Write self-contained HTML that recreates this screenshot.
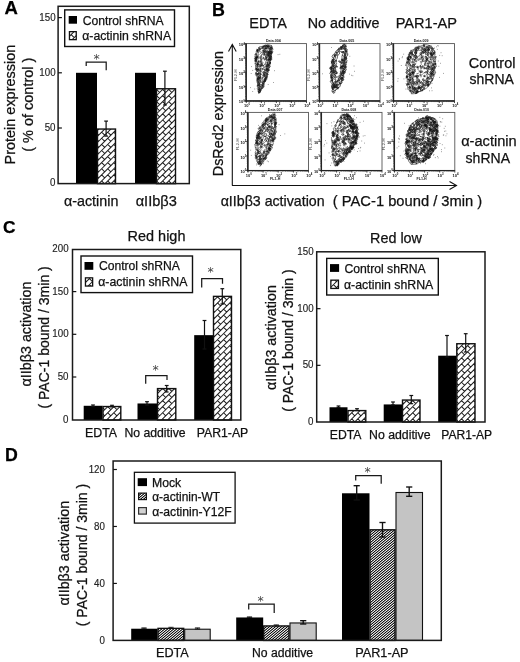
<!DOCTYPE html>
<html lang="en"><head><meta charset="utf-8"><title>Figure</title>
<style>
html,body{margin:0;padding:0;background:#fff;}
body{width:520px;height:662px;overflow:hidden;}
svg{display:block;font-family:"Liberation Sans",sans-serif;}
</style></head><body>
<svg width="520" height="662" viewBox="0 0 520 662">
<defs>
<pattern id="hatch" width="3" height="5" patternUnits="userSpaceOnUse" shape-rendering="crispEdges"><rect x="0" y="0" width="1" height="1" fill="rgb(46,46,46)"/><rect x="1" y="0" width="1" height="1" fill="rgb(90,90,90)"/><rect x="2" y="0" width="1" height="1" fill="rgb(246,246,246)"/><rect x="0" y="1" width="1" height="1" fill="rgb(140,140,140)"/><rect x="1" y="1" width="1" height="1" fill="rgb(225,225,225)"/><rect x="2" y="1" width="1" height="1" fill="rgb(17,17,17)"/><rect x="0" y="2" width="1" height="1" fill="rgb(188,188,188)"/><rect x="1" y="2" width="1" height="1" fill="rgb(6,6,6)"/><rect x="2" y="2" width="1" height="1" fill="rgb(188,188,188)"/><rect x="0" y="3" width="1" height="1" fill="rgb(17,17,17)"/><rect x="1" y="3" width="1" height="1" fill="rgb(225,225,225)"/><rect x="2" y="3" width="1" height="1" fill="rgb(140,140,140)"/><rect x="0" y="4" width="1" height="1" fill="rgb(246,246,246)"/><rect x="1" y="4" width="1" height="1" fill="rgb(90,90,90)"/><rect x="2" y="4" width="1" height="1" fill="rgb(46,46,46)"/></pattern>
<filter id="soft" x="-5%" y="-5%" width="110%" height="110%"><feGaussianBlur stdDeviation="0.35"/></filter>
</defs>
<rect width="520" height="662" fill="#fff"/>

<text x="4.44" y="14.40" font-size="18.51" font-weight="bold" fill="#000" stroke="#000" stroke-width="0.25">A</text>
<text x="211.94" y="15.60" font-size="17.87" font-weight="bold" fill="#000" stroke="#000" stroke-width="0.25">B</text>
<text x="3.06" y="233.40" font-size="17.33" font-weight="bold" fill="#000" stroke="#000" stroke-width="0.25">C</text>
<text x="4.95" y="460.60" font-size="17.72" font-weight="bold" fill="#000" stroke="#000" stroke-width="0.25">D</text>
<rect x="76.00" y="72.80" width="21.00" height="110.80" fill="#000"/>
<clipPath id="c1"><rect x="97.50" y="129.05" width="18.00" height="54.55"/></clipPath>
<path d="M96.50 131.20L99.65 128.05M96.50 137.30L105.75 128.05M96.50 143.40L111.85 128.05M96.50 149.50L116.50 129.50M96.50 155.60L116.50 135.60M96.50 161.70L116.50 141.70M96.50 167.80L116.50 147.80M96.50 173.90L116.50 153.90M96.50 180.00L116.50 160.00M98.00 184.60L116.50 166.10M104.10 184.60L116.50 172.20M110.20 184.60L116.50 178.30M116.30 184.60L116.50 184.40M95.55 126.05l3.05 3.05M95.55 132.15l3.05 3.05M95.55 138.25l3.05 3.05M95.55 144.35l3.05 3.05M95.55 150.45l3.05 3.05M95.55 156.55l3.05 3.05M95.55 162.65l3.05 3.05M95.55 168.75l3.05 3.05M95.55 174.85l3.05 3.05M95.55 180.95l3.05 3.05M101.65 126.05l3.05 3.05M101.65 132.15l3.05 3.05M101.65 138.25l3.05 3.05M101.65 144.35l3.05 3.05M101.65 150.45l3.05 3.05M101.65 156.55l3.05 3.05M101.65 162.65l3.05 3.05M101.65 168.75l3.05 3.05M101.65 174.85l3.05 3.05M101.65 180.95l3.05 3.05M107.75 126.05l3.05 3.05M107.75 132.15l3.05 3.05M107.75 138.25l3.05 3.05M107.75 144.35l3.05 3.05M107.75 150.45l3.05 3.05M107.75 156.55l3.05 3.05M107.75 162.65l3.05 3.05M107.75 168.75l3.05 3.05M107.75 174.85l3.05 3.05M107.75 180.95l3.05 3.05M113.85 126.05l3.05 3.05M113.85 132.15l3.05 3.05M113.85 138.25l3.05 3.05M113.85 144.35l3.05 3.05M113.85 150.45l3.05 3.05M113.85 156.55l3.05 3.05M113.85 162.65l3.05 3.05M113.85 168.75l3.05 3.05M113.85 174.85l3.05 3.05M113.85 180.95l3.05 3.05" clip-path="url(#c1)" fill="none" stroke="#1c1c1c" stroke-width="1.02"/>
<rect x="97.50" y="129.05" width="18.00" height="54.55" fill="none" stroke="#111" stroke-width="1.4"/>
<rect x="135.00" y="72.80" width="21.00" height="110.80" fill="#000"/>
<clipPath id="c2"><rect x="156.50" y="88.76" width="19.00" height="94.84"/></clipPath>
<path d="M155.50 90.50L158.24 87.76M155.50 96.60L164.34 87.76M155.50 102.70L170.44 87.76M155.50 108.80L176.50 87.80M155.50 114.90L176.50 93.90M155.50 121.00L176.50 100.00M155.50 127.10L176.50 106.10M155.50 133.20L176.50 112.20M155.50 139.30L176.50 118.30M155.50 145.40L176.50 124.40M155.50 151.50L176.50 130.50M155.50 157.60L176.50 136.60M155.50 163.70L176.50 142.70M155.50 169.80L176.50 148.80M155.50 175.90L176.50 154.90M155.50 182.00L176.50 161.00M159.00 184.60L176.50 167.10M165.10 184.60L176.50 173.20M171.20 184.60L176.50 179.30M156.55 89.45l3.05 3.05M156.55 95.55l3.05 3.05M156.55 101.65l3.05 3.05M156.55 107.75l3.05 3.05M156.55 113.85l3.05 3.05M156.55 119.95l3.05 3.05M156.55 126.05l3.05 3.05M156.55 132.15l3.05 3.05M156.55 138.25l3.05 3.05M156.55 144.35l3.05 3.05M156.55 150.45l3.05 3.05M156.55 156.55l3.05 3.05M156.55 162.65l3.05 3.05M156.55 168.75l3.05 3.05M156.55 174.85l3.05 3.05M156.55 180.95l3.05 3.05M162.65 89.45l3.05 3.05M162.65 95.55l3.05 3.05M162.65 101.65l3.05 3.05M162.65 107.75l3.05 3.05M162.65 113.85l3.05 3.05M162.65 119.95l3.05 3.05M162.65 126.05l3.05 3.05M162.65 132.15l3.05 3.05M162.65 138.25l3.05 3.05M162.65 144.35l3.05 3.05M162.65 150.45l3.05 3.05M162.65 156.55l3.05 3.05M162.65 162.65l3.05 3.05M162.65 168.75l3.05 3.05M162.65 174.85l3.05 3.05M162.65 180.95l3.05 3.05M168.75 89.45l3.05 3.05M168.75 95.55l3.05 3.05M168.75 101.65l3.05 3.05M168.75 107.75l3.05 3.05M168.75 113.85l3.05 3.05M168.75 119.95l3.05 3.05M168.75 126.05l3.05 3.05M168.75 132.15l3.05 3.05M168.75 138.25l3.05 3.05M168.75 144.35l3.05 3.05M168.75 150.45l3.05 3.05M168.75 156.55l3.05 3.05M168.75 162.65l3.05 3.05M168.75 168.75l3.05 3.05M168.75 174.85l3.05 3.05M168.75 180.95l3.05 3.05M174.85 89.45l3.05 3.05M174.85 95.55l3.05 3.05M174.85 101.65l3.05 3.05M174.85 107.75l3.05 3.05M174.85 113.85l3.05 3.05M174.85 119.95l3.05 3.05M174.85 126.05l3.05 3.05M174.85 132.15l3.05 3.05M174.85 138.25l3.05 3.05M174.85 144.35l3.05 3.05M174.85 150.45l3.05 3.05M174.85 156.55l3.05 3.05M174.85 162.65l3.05 3.05M174.85 168.75l3.05 3.05M174.85 174.85l3.05 3.05M174.85 180.95l3.05 3.05" clip-path="url(#c2)" fill="none" stroke="#1c1c1c" stroke-width="1.02"/>
<rect x="156.50" y="88.76" width="19.00" height="94.84" fill="none" stroke="#111" stroke-width="1.4"/>
<line x1="106.1" y1="121.1" x2="106.1" y2="136.1" stroke="#111" stroke-width="1.2" stroke-linecap="butt"/>
<line x1="104.19999999999999" y1="121.1" x2="108.0" y2="121.1" stroke="#111" stroke-width="1.2" stroke-linecap="butt"/>
<line x1="104.19999999999999" y1="136.1" x2="108.0" y2="136.1" stroke="#111" stroke-width="1.2" stroke-linecap="butt"/>
<line x1="164.9" y1="71.2" x2="164.9" y2="105" stroke="#111" stroke-width="1.2" stroke-linecap="butt"/>
<line x1="163.0" y1="71.2" x2="166.8" y2="71.2" stroke="#111" stroke-width="1.2" stroke-linecap="butt"/>
<line x1="163.0" y1="105" x2="166.8" y2="105" stroke="#111" stroke-width="1.2" stroke-linecap="butt"/>
<rect x="58.10" y="6.30" width="131.20" height="177.30" fill="none" stroke="#1a1a1a" stroke-width="1.5"/>
<line x1="58.1" y1="127.99999999999999" x2="61.9" y2="127.99999999999999" stroke="#111" stroke-width="1.2" stroke-linecap="butt"/>
<line x1="58.1" y1="72.79999999999998" x2="61.9" y2="72.79999999999998" stroke="#111" stroke-width="1.2" stroke-linecap="butt"/>
<line x1="58.1" y1="17.599999999999966" x2="61.9" y2="17.599999999999966" stroke="#111" stroke-width="1.2" stroke-linecap="butt"/>
<text transform="translate(50.12 186.36) scale(0.93 1)" font-size="10.5" fill="#222" stroke="#222" stroke-width="0.15">0</text>
<text transform="translate(44.70 131.16) scale(0.93 1)" font-size="10.5" fill="#222" stroke="#222" stroke-width="0.15">50</text>
<text transform="translate(39.28 75.96) scale(0.93 1)" font-size="10.5" fill="#222" stroke="#222" stroke-width="0.15">100</text>
<text transform="translate(39.28 20.76) scale(0.93 1)" font-size="10.5" fill="#222" stroke="#222" stroke-width="0.15">150</text>
<rect x="64.70" y="9.90" width="109.80" height="36.60" fill="#fff" stroke="#111" stroke-width="1.4"/>
<rect x="68.70" y="16.00" width="8.30" height="7.70" fill="#000" stroke="none" stroke-width="1"/>
<clipPath id="c3"><rect x="69.45" y="31.65" width="6.80" height="8.00"/></clipPath>
<path d="M68.45 31.15L68.95 30.65M68.45 37.25L75.05 30.65M71.15 40.65L77.25 34.55M71.15 28.45l3.05 3.05M71.15 34.55l3.05 3.05M71.15 40.65l3.05 3.05M77.25 28.45l3.05 3.05M77.25 34.55l3.05 3.05M77.25 40.65l3.05 3.05" clip-path="url(#c3)" fill="none" stroke="#1c1c1c" stroke-width="1.02"/>
<rect x="69.45" y="31.65" width="6.80" height="8.00" fill="none" stroke="#111" stroke-width="1.3"/>
<text x="82.64" y="24.50" font-size="12.17" fill="#111" stroke="#111" stroke-width="0.25">Control shRNA</text>
<text x="82.21" y="40.00" font-size="12.28" fill="#111" stroke="#111" stroke-width="0.25">α-actinin shRNA</text>
<path d="M86.2 66V62.2H106.2V70.2" fill="none" stroke="#1a1a1a" stroke-width="1.25"/>
<text x="96.5" y="63.2" font-size="12.5" text-anchor="middle" fill="#444" font-family="DejaVu Sans, sans-serif">*</text>
<text x="63.93" y="205.75" font-size="14.34" fill="#111" stroke="#111" stroke-width="0.25">α-actinin</text>
<text x="135.67" y="205.75" font-size="14.60" fill="#111" stroke="#111" stroke-width="0.25">αIIbβ3</text>
<text transform="translate(15.00 164.46) rotate(-90)" font-size="14.46" fill="#111" stroke="#111" stroke-width="0.25">Protein expression</text>
<text transform="translate(33.40 151.87) rotate(-90)" font-size="14.50" fill="#111" stroke="#111" stroke-width="0.25">( % of control )</text>
<text x="249.34" y="28.40" font-size="14.46" fill="#111" stroke="#111" stroke-width="0.25">EDTA</text>
<text x="307.75" y="28.40" font-size="14.32" fill="#111" stroke="#111" stroke-width="0.25">No additive</text>
<text x="395.63" y="28.40" font-size="14.58" fill="#111" stroke="#111" stroke-width="0.25">PAR1-AP</text>
<text x="468.78" y="67.50" font-size="14.49" fill="#111" stroke="#111" stroke-width="0.25">Control</text>
<text x="469.58" y="84.25" font-size="13.97" fill="#111" stroke="#111" stroke-width="0.25">shRNA</text>
<text x="461.17" y="146.00" font-size="14.61" fill="#111" stroke="#111" stroke-width="0.25">α-actinin</text>
<text x="465.58" y="162.50" font-size="14.04" fill="#111" stroke="#111" stroke-width="0.25">shRNA</text>
<text transform="translate(223.30 176.15) rotate(-90)" font-size="14.34" fill="#111" stroke="#111" stroke-width="0.25">DsRed2 expression</text>
<text x="220.68" y="205.75" font-size="14.20" fill="#111" stroke="#111" stroke-width="0.25">αIIbβ3 activation</text>
<text x="332.82" y="205.75" font-size="14.73" fill="#111" stroke="#111" stroke-width="0.25">( PAC-1 bound / 3min )</text>
<path d="M232.3 185.5V45M228.5 51.5L232.3 44.5L236.2 51.5" fill="none" stroke="#111" stroke-width="1.1"/>
<path d="M232 185.5H456M449.5 181.5L456.5 185.5L449.5 189.5" fill="none" stroke="#111" stroke-width="1.1"/>
<g>
<rect x="246.30" y="43.60" width="60.20" height="57.20" fill="none" stroke="#555" stroke-width="0.9"/>
<line x1="246.10000000000002" y1="43.6" x2="246.10000000000002" y2="101.8" stroke="#222" stroke-width="1.5" stroke-linecap="butt"/>
<line x1="245.3" y1="101.0" x2="306.5" y2="101.0" stroke="#222" stroke-width="1.4" stroke-linecap="butt"/>
<path d="M246.3 100.8v2.2M246.3 100.8h-2.2M261.4 100.8v2.2M246.3 86.5h-2.2M276.4 100.8v2.2M246.3 72.2h-2.2M291.4 100.8v2.2M246.3 57.9h-2.2M306.5 100.8v2.2M246.3 43.6h-2.2" stroke="#222" stroke-width="0.8" fill="none"/>
<path d="M250.8 100.8v1.3M246.3 96.5h-1.3M253.5 100.8v1.3M246.3 93.9h-1.3M255.3 100.8v1.3M246.3 92.2h-1.3M256.8 100.8v1.3M246.3 90.8h-1.3M258.0 100.8v1.3M246.3 89.6h-1.3M259.1 100.8v1.3M246.3 88.6h-1.3M259.8 100.8v1.3M246.3 87.9h-1.3M260.6 100.8v1.3M246.3 87.2h-1.3M265.9 100.8v1.3M246.3 82.2h-1.3M268.6 100.8v1.3M246.3 79.6h-1.3M270.4 100.8v1.3M246.3 77.9h-1.3M271.9 100.8v1.3M246.3 76.5h-1.3M273.1 100.8v1.3M246.3 75.3h-1.3M274.1 100.8v1.3M246.3 74.3h-1.3M274.9 100.8v1.3M246.3 73.6h-1.3M275.6 100.8v1.3M246.3 72.9h-1.3M280.9 100.8v1.3M246.3 67.9h-1.3M283.6 100.8v1.3M246.3 65.3h-1.3M285.4 100.8v1.3M246.3 63.6h-1.3M286.9 100.8v1.3M246.3 62.2h-1.3M288.1 100.8v1.3M246.3 61.0h-1.3M289.2 100.8v1.3M246.3 60.0h-1.3M289.9 100.8v1.3M246.3 59.3h-1.3M290.7 100.8v1.3M246.3 58.6h-1.3M296.0 100.8v1.3M246.3 53.6h-1.3M298.7 100.8v1.3M246.3 51.0h-1.3M300.5 100.8v1.3M246.3 49.3h-1.3M302.0 100.8v1.3M246.3 47.9h-1.3M303.2 100.8v1.3M246.3 46.7h-1.3M304.2 100.8v1.3M246.3 45.7h-1.3M305.0 100.8v1.3M246.3 45.0h-1.3M305.7 100.8v1.3M246.3 44.3h-1.3" stroke="#333" stroke-width="0.5" fill="none"/>
<text x="273.4" y="42.3" font-size="3.6" text-anchor="middle" fill="#222" font-weight="bold">Data.004</text>
<text transform="translate(237.1 75.2) rotate(-90)" font-size="4.2" text-anchor="middle" fill="#444">FL2-H</text>
<text x="244.1" y="107.0" font-size="4" fill="#111" font-weight="bold">10<tspan dy="-1.6" font-size="2.8">0</tspan></text>
<text x="238.7" y="103.4" font-size="4" fill="#111" font-weight="bold">10<tspan dy="-1.6" font-size="2.8">0</tspan></text>
<text x="259.2" y="107.0" font-size="4" fill="#111" font-weight="bold">10<tspan dy="-1.6" font-size="2.8">1</tspan></text>
<text x="238.7" y="89.1" font-size="4" fill="#111" font-weight="bold">10<tspan dy="-1.6" font-size="2.8">1</tspan></text>
<text x="274.2" y="107.0" font-size="4" fill="#111" font-weight="bold">10<tspan dy="-1.6" font-size="2.8">2</tspan></text>
<text x="238.7" y="74.8" font-size="4" fill="#111" font-weight="bold">10<tspan dy="-1.6" font-size="2.8">2</tspan></text>
<text x="289.2" y="107.0" font-size="4" fill="#111" font-weight="bold">10<tspan dy="-1.6" font-size="2.8">3</tspan></text>
<text x="238.7" y="60.5" font-size="4" fill="#111" font-weight="bold">10<tspan dy="-1.6" font-size="2.8">3</tspan></text>
<text x="304.3" y="107.0" font-size="4" fill="#111" font-weight="bold">10<tspan dy="-1.6" font-size="2.8">4</tspan></text>
<text x="238.7" y="46.2" font-size="4" fill="#111" font-weight="bold">10<tspan dy="-1.6" font-size="2.8">4</tspan></text>
<g filter="url(#soft)"><path d="M260.9 64.1L261.6 63.4L261.6 64.6L261.6 65.5L260.8 65.6L260.6 64.7ZM267.6 53.1L268.2 53.9L267.6 54.4L267.0 53.9ZM256.5 60.0L255.9 60.9L255.0 60.5L255.1 59.3L256.0 59.1ZM265.9 77.4L266.4 77.4L266.5 78.2L266.1 78.7L265.4 78.5L265.5 77.7ZM261.3 74.3L261.1 75.1L260.3 75.3L260.3 74.0ZM266.9 55.5L267.6 54.4L268.6 54.8L268.4 55.9L267.6 56.8ZM263.2 65.2L264.0 65.5L264.1 66.5L263.9 67.7L263.2 66.9L262.9 66.3ZM260.4 69.4L261.0 70.3L260.2 71.3L259.6 70.0ZM267.7 45.7L268.2 46.0L268.3 46.7L267.8 47.2L267.4 46.7L267.2 46.1ZM260.3 85.8L259.3 85.3L260.1 84.4L261.2 84.7ZM259.0 65.5L259.4 65.6L259.9 66.0L259.6 66.8L258.9 66.8L258.9 66.0ZM257.7 64.5L257.0 64.5L257.2 63.7L257.7 63.2L258.3 63.6L258.2 64.5ZM272.3 48.3L272.1 49.4L271.5 50.3L270.8 49.4L271.2 48.0ZM266.9 72.4L266.3 71.3L267.6 70.3L267.6 72.0ZM266.5 46.6L265.8 46.4L266.1 45.5L266.9 45.1L267.3 46.2ZM262.5 64.5L263.2 65.1L263.3 66.0L262.6 65.7ZM267.0 54.7L267.2 53.4L268.6 53.3L268.6 55.0L267.6 56.1ZM258.7 64.4L258.7 65.4L258.4 66.5L257.5 65.9L257.1 64.7L257.9 63.8ZM265.4 52.8L264.8 52.9L264.8 52.0L265.4 52.2ZM260.4 86.5L261.6 87.1L261.5 88.4L260.7 89.0L259.7 88.0ZM259.3 88.6L259.0 87.8L259.0 87.1L259.6 86.9L260.3 87.2L259.8 88.0ZM257.6 56.6L257.8 58.0L256.6 58.1L256.3 56.3ZM264.5 75.1L265.1 75.3L265.6 75.9L265.3 76.8L264.5 76.7L264.4 75.9ZM262.3 62.9L262.8 63.5L262.2 64.1L261.5 63.8L261.8 63.0ZM266.3 69.8L266.6 68.6L267.5 68.7L267.3 70.0ZM263.7 55.2L262.7 54.8L263.0 53.2L264.4 53.3L264.8 55.0ZM264.3 71.6L265.5 71.7L265.3 72.9L264.4 73.1ZM261.4 57.8L260.2 57.8L260.1 56.5L260.8 55.6L261.9 56.2ZM256.2 59.6L256.0 60.9L254.8 61.5L254.9 59.6ZM270.4 62.5L269.8 63.8L268.8 63.3L268.9 62.2L269.6 61.9ZM257.2 50.3L257.5 50.1L258.0 50.3L257.7 51.0L257.1 51.0ZM267.9 65.1L267.3 64.2L267.7 63.3L268.3 62.7L269.1 63.5L268.9 64.7ZM257.9 52.5L256.9 52.0L257.4 51.2L257.9 51.4ZM256.5 73.7L257.1 74.0L257.2 75.2L256.3 74.6ZM267.6 66.3L267.5 64.5L268.7 64.2L268.6 65.5ZM271.5 54.1L270.4 55.1L269.4 54.2L270.0 53.1L270.7 53.0ZM262.4 85.4L261.7 85.3L261.7 84.4L262.2 83.9L262.7 84.7ZM270.9 52.8L270.5 53.3L269.6 53.1L269.8 51.7L270.9 51.8ZM267.3 76.6L266.8 77.0L266.3 76.7L266.2 76.0L266.7 75.5L267.1 76.0ZM268.9 61.4L269.1 59.2L270.8 59.4L270.2 61.0ZM264.7 79.5L264.3 78.1L265.6 77.6L265.9 79.3ZM261.2 69.2L260.5 68.9L260.7 68.3L261.2 68.3ZM256.1 69.9L255.7 68.4L256.9 68.4L257.6 69.2L256.9 70.0ZM267.9 47.2L266.6 45.8L267.6 44.5L268.5 45.4ZM258.6 62.5L258.3 62.0L258.5 61.3L259.2 61.3L259.4 62.0L259.0 62.4ZM267.7 71.5L266.8 70.9L266.6 69.6L267.3 68.7L267.9 69.6L268.5 70.5ZM258.2 70.2L258.0 71.5L257.0 71.2L256.4 70.1L257.1 69.3L257.8 69.6ZM257.3 82.3L257.4 81.8L257.7 81.8L257.9 82.1L257.6 82.4ZM262.9 51.5L262.3 50.9L262.7 49.9L263.4 50.3L263.4 51.0ZM257.8 62.7L256.6 62.4L257.4 61.1L258.6 60.7L258.3 62.3ZM258.2 73.5L258.6 72.7L259.5 72.9L259.4 74.3L258.5 74.2ZM264.4 80.8L265.2 81.1L264.8 82.2L263.9 81.7ZM266.0 77.4L266.1 76.2L266.9 76.2L267.5 76.9L266.9 77.7ZM260.2 90.5L260.2 91.7L259.7 92.8L258.9 92.1L258.6 91.1L259.3 90.8ZM264.2 83.1L264.3 84.5L263.3 85.2L262.4 84.1L263.1 83.0ZM258.9 78.0L258.9 79.0L258.1 79.1L257.9 77.8ZM257.3 65.2L256.7 64.1L257.4 63.0L258.4 64.2ZM256.2 68.5L256.2 67.5L256.8 66.9L257.5 67.7L257.0 68.6ZM271.5 53.4L271.1 55.0L270.3 55.0L270.0 53.6ZM256.5 72.9L256.5 73.7L255.8 74.0L255.7 73.1L255.9 72.1ZM268.4 52.0L269.3 51.8L269.4 53.2L268.3 53.0ZM254.9 57.9L255.2 58.0L255.7 58.4L255.3 59.1L254.9 58.6L254.5 58.3ZM263.1 85.8L263.5 86.8L263.0 87.5L262.3 88.1L262.3 87.0L262.1 86.0ZM258.9 79.2L257.8 79.3L258.2 78.1L259.0 78.2ZM256.6 59.8L256.2 61.5L255.4 60.1L255.8 58.7ZM263.0 69.5L262.6 69.2L262.5 68.5L263.1 68.2L263.6 68.6L263.5 69.4ZM265.8 58.6L266.4 58.5L266.6 59.2L266.2 59.5L265.6 59.4ZM259.4 81.6L260.2 81.8L260.3 83.1L259.1 83.9L258.8 82.3ZM259.9 50.0L258.9 50.1L259.2 48.7L260.1 49.1ZM256.8 58.8L256.5 60.1L255.4 60.7L255.8 59.2ZM256.4 67.0L255.8 65.6L256.8 65.1L257.5 65.3L257.7 66.8ZM269.8 50.6L271.0 51.5L269.9 52.5L268.8 52.6L268.5 50.9ZM265.9 48.1L266.4 47.7L267.0 48.2L266.5 48.8L266.0 48.8ZM259.1 75.5L259.8 75.2L260.6 76.0L260.2 77.3L259.1 77.7L258.5 76.5ZM256.6 58.3L256.0 57.8L256.3 57.0L256.7 57.6ZM257.4 50.0L257.6 50.9L257.1 51.5L256.8 50.6ZM257.7 71.5L257.0 70.5L256.8 69.3L257.7 69.3L258.2 70.2ZM270.6 62.0L270.4 62.8L269.9 62.7L269.9 61.9ZM269.3 59.9L268.5 60.0L268.4 59.0L269.1 58.2L269.8 59.1ZM270.4 49.6L270.3 50.4L269.8 50.4L269.6 49.6ZM265.6 72.5L265.3 73.8L264.6 74.9L263.9 73.6L264.5 72.5ZM260.4 48.2L260.8 48.8L260.6 49.7L260.1 49.4L259.9 48.7ZM266.1 67.4L265.8 67.0L266.0 66.5L266.4 66.3L266.6 66.8L266.5 67.2ZM270.0 55.4L269.6 56.5L268.7 56.6L268.9 55.3ZM263.6 50.0L263.9 49.4L264.6 49.2L265.2 50.1L264.4 50.7L263.6 51.2ZM267.1 57.7L266.4 59.0L265.6 58.1L266.2 57.1ZM259.8 88.7L260.5 88.6L260.3 89.6L259.8 89.9L259.2 89.7L259.1 88.8ZM268.3 66.8L268.2 68.5L267.1 69.3L266.4 68.0L267.2 67.2ZM269.4 70.5L268.7 70.9L268.1 69.7L269.2 69.6ZM271.4 52.8L270.4 53.6L270.0 52.5L270.3 51.6L271.0 51.7ZM259.9 84.3L259.4 84.7L258.8 84.2L259.0 83.4L259.4 83.4L259.9 83.5ZM264.6 58.8L265.4 58.6L265.2 59.6L264.6 60.3L264.2 59.3ZM268.1 52.1L266.8 52.6L266.7 50.6L267.9 50.8ZM257.2 55.9L256.9 56.8L256.6 57.9L256.2 56.9L255.7 56.2L256.4 55.4ZM266.4 78.5L265.9 78.2L265.7 77.9L265.6 77.3L266.2 77.0L266.6 77.7ZM263.9 80.8L263.5 81.8L262.6 80.9L263.4 80.3ZM267.9 55.2L268.5 54.7L269.2 55.1L268.9 56.1L268.2 56.1ZM265.7 47.3L264.3 47.3L264.2 45.3L265.7 45.4ZM264.6 54.6L263.4 54.6L262.9 53.8L263.1 52.3L264.3 52.9ZM266.7 46.1L265.8 46.5L264.6 46.6L265.2 45.1L266.2 44.7ZM259.0 48.7L258.6 47.7L259.2 47.1L260.0 47.4L259.8 48.4ZM256.8 64.0L257.4 63.2L258.0 63.7L257.5 64.4ZM269.1 45.5L269.9 46.0L269.5 46.9L268.7 46.5ZM260.4 77.4L260.9 78.5L259.8 79.0L259.2 77.5ZM258.6 69.2L259.2 69.2L259.4 69.8L259.4 70.6L258.7 70.8L258.4 70.0ZM264.7 78.4L265.4 78.9L265.3 79.9L264.5 80.4L263.9 79.3ZM263.3 46.0L264.3 45.6L264.4 46.6L263.8 47.3ZM257.6 86.3L257.3 85.5L257.5 84.9L257.9 84.9L258.3 85.2L258.3 86.0ZM268.0 59.8L267.8 59.1L268.2 58.8L268.8 58.8L268.6 59.6ZM256.0 55.3L254.7 55.1L255.5 53.8L256.7 54.0ZM257.9 85.8L257.9 84.6L258.9 84.4L259.1 85.9ZM264.8 48.0L265.4 47.5L265.8 48.0L265.8 48.9L265.0 48.9ZM259.3 69.3L259.3 70.0L258.8 70.0L258.4 69.5L258.9 69.2ZM257.1 57.1L257.8 56.2L258.4 57.1L258.1 57.9L257.4 57.9ZM267.7 67.0L267.5 66.0L268.2 65.6L268.6 65.8L269.0 66.5L268.5 67.0ZM271.8 51.3L272.4 51.8L272.4 52.5L271.8 52.8L271.6 52.1ZM268.0 74.1L267.0 75.5L266.0 74.3L266.9 73.1ZM258.1 78.4L257.2 78.6L257.0 77.7L257.7 77.4ZM263.8 74.7L263.4 74.3L263.3 73.5L263.9 73.0L264.4 73.7L264.1 74.3ZM266.6 62.9L266.9 61.7L267.7 62.3L267.6 63.9ZM268.9 68.8L269.2 70.0L268.6 71.0L267.6 70.5L267.4 69.3L268.1 68.4ZM270.6 56.8L271.7 57.0L271.5 58.2L271.2 59.2L270.3 59.0L270.0 57.8ZM257.9 51.0L257.0 50.9L256.7 49.1L258.1 49.7ZM266.1 65.3L267.3 63.8L268.4 65.4L267.2 66.3ZM257.4 85.6L257.7 84.2L258.5 83.3L259.4 84.1L259.4 85.6L258.5 85.6ZM261.6 88.0L261.9 87.6L262.4 88.0L262.1 88.5L261.8 88.7L261.5 88.5ZM266.6 58.0L266.0 58.5L265.7 57.5L266.5 57.2ZM259.7 80.6L259.7 79.5L260.6 79.7L260.6 80.7L260.0 81.2ZM264.5 75.7L263.7 75.4L264.1 74.4L264.7 74.3L265.5 74.4L265.5 75.7ZM257.7 79.2L257.8 79.9L257.5 80.6L257.1 80.0L257.1 79.3ZM259.1 60.6L260.1 61.6L259.1 62.6L258.4 61.6ZM262.7 83.5L262.7 82.1L263.7 82.8L263.5 84.1ZM256.1 57.0L257.2 57.0L257.1 58.7L255.8 58.3ZM263.6 57.1L263.8 58.0L263.7 58.6L263.0 58.7L262.8 57.6ZM261.6 66.1L260.9 66.8L260.2 66.1L260.9 64.9ZM257.7 50.4L257.6 49.5L258.4 49.4L258.5 50.5ZM270.3 47.4L269.9 48.8L269.0 48.3L268.6 47.8L268.6 46.8L269.5 46.5ZM270.1 55.5L269.6 55.8L269.2 55.5L269.2 55.0L269.4 54.5L270.0 54.7ZM269.6 62.9L270.1 62.6L270.3 63.2L270.6 63.8L270.0 64.1L269.5 63.6ZM256.0 58.2L255.9 57.7L256.2 57.1L256.6 57.4L257.1 58.0L256.6 58.8ZM259.8 79.1L259.2 78.4L259.4 77.0L260.6 77.9ZM262.0 77.6L262.4 77.1L263.0 77.3L262.7 77.9L262.2 78.4ZM258.0 79.3L258.2 80.2L257.5 80.8L257.0 79.8L257.3 78.7ZM269.0 60.0L269.0 59.4L269.5 59.2L269.7 59.8L269.4 60.2ZM261.3 81.6L261.7 81.7L262.1 82.1L261.8 82.8L261.3 82.4L260.8 82.0ZM255.5 58.0L256.2 57.2L256.6 58.3L255.9 58.8ZM261.1 59.1L262.0 59.1L261.6 60.2L261.0 59.9ZM271.9 47.2L271.5 48.9L270.5 48.4L270.6 47.1ZM259.4 76.1L260.5 76.7L260.2 78.2L259.3 77.8L258.5 77.0ZM268.5 66.1L269.7 65.1L270.5 66.6L269.3 67.6ZM265.0 80.7L265.0 79.8L265.8 80.1L265.6 80.9L265.2 81.2ZM258.6 73.6L258.1 74.4L257.7 75.0L257.2 74.3L257.2 73.4L257.9 73.3ZM265.4 56.0L264.5 54.7L265.9 53.9L266.2 55.2ZM259.6 90.4L259.5 91.8L258.3 92.2L258.0 90.7L258.0 89.4L259.0 89.6ZM263.3 49.9L264.2 49.3L264.9 50.2L264.6 51.5L263.3 51.5ZM259.9 70.7L260.9 70.8L260.4 72.0L259.5 71.6ZM272.0 46.7L271.1 48.2L270.4 46.5L271.4 45.2ZM258.2 77.4L257.8 76.0L258.9 75.6L260.1 76.5L259.0 77.6ZM256.4 68.8L257.1 68.0L258.1 68.3L258.0 69.6L257.3 70.0L256.7 69.7ZM266.1 70.2L265.9 69.5L266.5 69.2L267.0 69.6L266.7 70.2L266.4 70.9ZM255.5 57.8L256.5 58.6L255.5 59.7L254.9 58.6ZM265.7 51.7L265.3 51.9L264.9 51.4L264.8 50.6L265.6 50.3L266.1 51.0ZM270.2 57.0L269.6 57.9L268.6 56.9L269.6 56.4ZM262.7 86.5L262.3 86.1L262.4 85.3L263.1 85.1L263.3 85.9L263.4 86.9ZM256.8 81.9L257.5 80.9L258.2 81.2L258.6 82.3L257.6 83.1ZM268.0 55.6L267.8 54.7L268.3 53.5L269.1 54.5L268.6 55.3ZM269.9 48.5L269.7 49.2L269.0 49.3L268.6 48.3L269.4 48.0ZM269.4 59.7L268.9 58.8L269.0 57.8L270.1 57.4L270.4 59.0ZM259.0 91.4L259.5 90.5L260.5 90.9L260.4 92.4L259.2 92.7ZM257.9 74.4L257.7 73.6L258.1 73.3L258.6 73.4L258.5 74.1ZM269.5 58.3L268.8 57.8L268.8 56.5L269.9 57.0ZM268.0 51.9L269.1 51.6L269.4 52.9L268.7 53.9L268.1 53.0ZM264.9 82.1L264.2 82.2L264.0 81.3L264.4 80.6L265.0 81.1ZM260.0 61.2L260.8 60.7L261.0 61.8L260.4 62.1ZM268.6 64.2L268.8 64.8L268.4 65.3L267.7 65.6L267.8 64.6L268.1 64.1ZM266.3 48.3L266.1 47.2L266.8 46.2L268.0 46.7L267.5 48.1L267.0 49.0ZM265.7 79.8L265.2 80.1L264.9 79.4L265.1 78.7L265.7 78.3L266.1 79.2ZM266.7 72.6L267.2 73.5L266.8 74.2L266.0 73.7ZM263.3 46.6L263.3 47.4L262.9 48.0L262.5 47.4L262.7 46.7ZM262.4 75.7L262.7 75.2L263.1 75.5L262.9 76.1ZM270.6 51.7L271.4 50.4L271.9 51.9L271.2 53.2ZM270.8 55.1L271.8 55.9L271.2 57.1L270.6 56.3ZM265.4 81.3L264.5 81.1L265.0 80.1L265.6 80.6ZM261.2 89.3L261.2 90.5L260.3 90.7L260.3 89.5ZM258.0 92.0L258.8 90.9L259.5 90.0L260.1 91.0L259.9 92.0L259.1 93.1ZM259.9 73.2L260.7 73.2L261.2 74.1L260.6 74.7L259.9 74.9L259.8 74.0ZM261.4 62.0L262.2 61.7L262.9 62.5L262.2 63.3L261.6 62.8ZM268.7 45.2L268.8 46.5L267.8 46.6L267.5 45.7L267.9 45.1Z" fill="none" stroke="#111" stroke-width="0.52"/><path d="M263.7 72.1l-0.4 1.6M270.2 60.4l-0.9 0.9M267.1 68.9l0.8 1.0M272.0 49.0l-2.1 0.1M264.8 50.7l-0.5 1.9M264.0 74.9l-0.7 2.0M262.3 83.3l1.7 1.3M261.2 46.5l0.9 1.5M266.7 69.7l-1.2 0.8M257.0 68.9l-1.6 0.1M257.8 75.6l0.5 1.6M262.7 71.0l1.6 1.6M267.2 51.4l1.4 1.1M266.1 50.6l-1.2 0.7M263.9 50.9l-0.3 1.5M264.0 58.8l1.2 1.0M259.5 88.8l-1.4 1.0M270.2 57.2l0.8 1.4M268.0 53.9l-0.0 1.3M270.3 57.7l1.2 1.0M272.0 47.4l0.7 1.4M264.3 78.9l0.3 1.8M268.9 65.1l0.6 1.0M272.1 53.0l-1.5 1.6M265.1 80.0l-1.3 0.4M261.2 78.4l0.6 1.3M268.9 52.1l-2.1 0.1M271.1 49.8l-0.9 0.6M258.1 77.8l-0.3 1.7M260.3 81.9l-1.4 0.2M263.9 69.7l1.3 0.1M269.4 59.9l-1.2 0.0M261.7 60.1l-0.1 1.8M271.0 46.2l0.9 1.7M267.5 69.7l1.1 0.5M258.1 80.7l0.1 1.2M264.1 57.4l-1.8 1.4M256.9 60.6l-1.5 1.1M266.2 59.6l1.2 1.6M261.5 58.2l-1.1 0.0M264.9 48.3l1.7 0.3M264.3 53.1l0.8 0.7M269.3 52.3l1.3 0.4M256.2 57.1l1.6 0.6M270.3 59.1l-0.2 1.1M272.0 53.6l-1.5 0.2M263.2 45.6l-0.2 2.2M265.5 77.8l0.6 1.8M269.4 50.9l-0.1 1.8M269.3 59.8l1.1 0.4M259.7 65.7l1.5 1.1M269.9 51.3l0.1 1.3M258.6 50.8l-0.6 1.8M269.8 56.2l1.9 0.4M271.2 60.1l-1.3 0.5M263.4 71.3l-1.2 1.9M262.5 46.2l1.8 0.5M265.9 55.4l0.7 0.6M258.8 86.6l2.1 0.6M256.4 69.0l2.0 0.3M265.2 46.6l1.5 1.2M265.5 47.9l-0.0 1.3M262.2 47.5l-0.4 1.2M258.9 66.7l1.3 1.0M265.8 80.3l-1.3 1.7M267.6 65.1l-1.1 1.7M262.2 87.5l-0.9 1.2M262.8 69.0l-0.9 1.2M265.0 56.3l1.0 0.1M259.6 51.0l1.2 0.3M269.8 46.8l0.6 1.2M260.2 62.4l-0.1 1.1M258.4 78.2l-0.3 1.0M256.0 53.1l-0.4 1.7M258.4 54.7l-1.2 0.6M264.6 48.2l-1.3 0.3M256.6 66.0l1.0 0.0M267.0 68.2l0.4 1.9M263.0 47.0l-0.4 2.0M257.5 74.6l-1.8 0.9M269.9 59.3l1.4 0.4M266.7 50.8l-0.1 1.9M270.4 56.8l0.1 2.0M256.4 62.8l-2.0 1.0M262.1 85.4l-0.8 1.1M262.5 64.4l-1.8 0.2M263.8 74.7l0.9 0.4M271.9 51.2l-0.9 0.8M268.2 61.8l-1.5 1.3M265.3 57.4l-0.3 1.0M255.7 61.1l1.4 0.1M262.9 84.7l-0.1 1.4M264.9 81.6l-1.5 0.3M258.4 87.6l0.5 1.7M266.8 69.2l1.9 0.4M266.9 64.9l-0.7 1.3M270.5 63.3l-1.0 1.8M267.3 77.6l-0.9 0.8M259.4 78.4l-0.9 1.1M268.6 74.4l-1.9 0.3M269.1 48.8l-0.8 0.5M259.5 88.3l-0.0 2.2M260.4 90.0l0.3 1.0M256.5 78.2l1.2 0.4M268.4 53.1l1.5 0.2M262.7 68.4l-1.2 0.7M263.0 74.2l0.7 1.3M258.6 79.2l0.2 1.8M258.3 50.9l-1.3 0.5M269.6 50.5l-0.6 1.7M264.4 64.0l0.5 0.9M258.1 73.4l-1.0 0.6M270.7 62.1l-1.1 0.8M269.4 52.6l1.0 0.8M257.5 54.1l-1.5 0.2M259.8 68.3l0.7 1.0M269.7 67.7l-1.9 0.3M266.5 48.5l0.9 1.9M266.1 48.2l-1.4 1.1M268.1 57.1l-1.5 0.0M262.9 65.2l-2.1 0.6M268.2 60.4l1.3 0.6M265.4 56.0l0.5 1.5M265.4 65.0l1.2 0.1M262.2 65.3l-1.0 0.9M267.1 58.9l0.7 1.0M258.9 64.0l1.5 1.0M267.8 46.2l-0.3 1.1M270.4 58.4l0.5 0.9M267.4 74.8l-0.8 1.6M268.1 72.4l-1.0 1.3M259.0 74.1l-1.0 1.2M259.7 79.1l0.4 1.6M269.9 52.6l-0.8 1.9M266.6 67.6l-0.4 1.5M269.9 59.3l0.5 0.9M257.4 64.3l2.0 0.1M257.8 64.4l-1.9 0.5M272.0 52.6l-1.2 0.4M270.5 51.3l1.6 0.2M265.6 63.8l-1.3 0.4M266.6 59.7l1.5 1.1M264.9 49.4l0.7 0.7M259.2 68.2l-0.8 1.4M265.4 72.5l0.1 1.0M259.4 72.2l-0.1 1.2M265.7 69.1l-0.7 1.9M269.9 58.3l1.3 1.1M265.9 66.4l1.1 0.4M267.7 46.4l0.7 1.8M271.3 53.1l-0.8 0.9M270.0 56.0l1.2 1.4M254.3 56.3l1.9 0.8M271.2 55.8l-1.5 0.1M264.4 70.4l1.2 0.4M272.1 49.2l-1.9 0.8M264.5 51.5l1.8 0.9M256.1 73.8l1.2 0.2M268.8 62.1l1.8 0.4M261.0 57.9l-0.1 1.6M265.9 66.3l-0.0 1.3M258.8 56.6l-1.0 0.4" fill="none" stroke="#111" stroke-width="0.5700000000000001"/><path d="M268.8 44.9L263.5 46.4L259.1 47.0L258.2 49.2L257.0 49.9L256.3 51.1L256.2 53.1L256.0 54.4L257.3 56.2L255.2 57.5L254.7 58.2L256.4 59.7L255.1 62.0L255.4 62.6L255.7 64.1L255.5 65.6L255.7 66.8L255.7 68.8L255.1 69.6L256.6 70.5L256.3 72.4L255.2 74.2L256.2 75.0L256.6 76.6L257.5 77.8L257.4 79.1L256.6 80.9L258.5 81.6L257.6 84.0L258.7 85.0L257.1 86.0L257.6 87.3L257.2 88.8L258.1 89.5L258.7 91.0L258.7 93.6L259.1 93.1L260.7 91.2L261.0 89.8L261.9 89.0L263.4 87.9L264.2 86.2L263.8 84.5L263.7 83.1L264.9 81.9L265.4 80.5L266.9 79.5L267.0 77.7L267.1 76.7L267.2 75.7L267.5 73.7L268.1 72.3L268.4 69.9L268.4 69.1L269.2 68.4L269.4 67.2L269.5 65.1L269.0 63.9L270.4 63.2L270.3 61.4L270.3 59.6L271.8 59.8L271.6 57.6L271.6 56.8L271.0 55.1L272.1 53.5L272.9 51.8L272.3 50.5L273.1 49.1L272.4 48.2L271.5 46.2L270.6 45.2ZM262.0 48.4L259.2 49.2L259.6 51.2L259.1 51.8L258.1 53.3L258.6 53.9L259.0 54.8L257.8 56.0L257.4 57.0L258.8 58.7L257.0 60.2L255.8 61.0L258.2 63.3L258.1 64.7L257.6 64.7L257.2 66.2L257.8 67.3L258.8 68.8L258.2 69.9L257.3 70.9L258.7 71.8L258.4 73.1L257.9 73.8L257.4 75.6L257.9 76.2L259.1 78.1L257.7 79.3L258.8 80.2L258.6 82.7L258.4 82.4L257.9 83.8L259.0 85.4L258.7 88.1L258.6 87.5L259.1 89.0L259.2 89.7L260.9 90.2L260.4 89.8L261.3 88.5L262.7 86.2L262.7 84.8L263.6 84.0L263.4 82.5L263.5 81.7L263.7 81.2L264.8 79.3L265.9 78.3L264.9 76.4L265.8 75.9L266.7 74.0L265.7 72.6L266.9 72.0L267.3 71.1L267.2 69.5L267.3 67.7L267.8 66.5L267.6 66.2L268.3 64.7L267.9 63.4L267.4 62.7L268.3 61.0L268.7 59.3L268.7 59.0L269.4 58.0L268.8 56.3L269.3 54.9L269.9 53.7L269.2 53.3L269.7 51.4L269.5 50.7L269.8 49.7L271.1 47.8ZM261.0 52.3L260.9 53.1L260.5 53.3L261.6 54.6L261.1 56.6L260.1 56.9L259.7 57.9L260.5 59.3L260.9 59.8L260.3 61.7L260.3 61.6L260.9 62.8L260.6 64.0L260.6 64.6L260.1 65.2L260.5 66.1L260.8 67.7L260.6 68.6L260.5 69.4L260.1 70.3L261.7 71.8L260.2 72.2L260.4 72.9L260.8 74.7L260.2 75.3L260.7 76.8L261.2 77.1L258.9 77.9L258.3 78.5L260.0 80.9L260.8 81.1L260.6 81.8L258.9 83.2L259.6 83.6L259.7 85.0L259.4 86.4L261.8 86.4L261.7 84.8L262.2 83.7L262.5 83.5L262.5 81.6L262.9 81.5L261.8 79.8L262.5 79.3L262.7 77.8L262.7 77.4L265.0 76.5L264.2 75.3L263.8 74.2L264.1 72.6L264.1 72.1L264.6 71.5L265.1 70.8L264.4 69.2L265.3 68.7L264.7 67.9L265.3 66.5L266.1 65.7L266.1 64.7L265.8 63.9L265.5 63.0L265.9 61.4L266.6 60.3L266.4 59.6L266.8 59.7L267.1 57.6L266.4 56.6L267.1 55.5L267.2 55.0L265.9 53.9L267.0 53.4L267.0 51.8Z" fill="none" stroke="#222" stroke-width="0.5700000000000001"/><path d="M250.2 87.6h0.7M252.4 70.4h0.7M250.8 73.5h0.7M251.3 66.6h0.7M274.1 70.7h0.7M267.8 84.5h0.7M279.5 54.3h0.7M273.0 82.5h0.7M254.4 89.0h0.7M252.4 91.5h0.7M277.7 54.6h0.7" fill="none" stroke="#444" stroke-width="0.7"/></g>
</g>
<g>
<rect x="319.60" y="43.60" width="60.40" height="57.20" fill="none" stroke="#555" stroke-width="0.9"/>
<line x1="319.40000000000003" y1="43.6" x2="319.40000000000003" y2="101.8" stroke="#222" stroke-width="1.5" stroke-linecap="butt"/>
<line x1="318.6" y1="101.0" x2="380" y2="101.0" stroke="#222" stroke-width="1.4" stroke-linecap="butt"/>
<path d="M319.6 100.8v2.2M319.6 100.8h-2.2M334.7 100.8v2.2M319.6 86.5h-2.2M349.8 100.8v2.2M319.6 72.2h-2.2M364.9 100.8v2.2M319.6 57.9h-2.2M380.0 100.8v2.2M319.6 43.6h-2.2" stroke="#222" stroke-width="0.8" fill="none"/>
<path d="M324.1 100.8v1.3M319.6 96.5h-1.3M326.8 100.8v1.3M319.6 93.9h-1.3M328.7 100.8v1.3M319.6 92.2h-1.3M330.2 100.8v1.3M319.6 90.8h-1.3M331.4 100.8v1.3M319.6 89.6h-1.3M332.4 100.8v1.3M319.6 88.6h-1.3M333.2 100.8v1.3M319.6 87.9h-1.3M333.9 100.8v1.3M319.6 87.2h-1.3M339.2 100.8v1.3M319.6 82.2h-1.3M341.9 100.8v1.3M319.6 79.6h-1.3M343.8 100.8v1.3M319.6 77.9h-1.3M345.3 100.8v1.3M319.6 76.5h-1.3M346.5 100.8v1.3M319.6 75.3h-1.3M347.5 100.8v1.3M319.6 74.3h-1.3M348.3 100.8v1.3M319.6 73.6h-1.3M349.0 100.8v1.3M319.6 72.9h-1.3M354.3 100.8v1.3M319.6 67.9h-1.3M357.0 100.8v1.3M319.6 65.3h-1.3M358.9 100.8v1.3M319.6 63.6h-1.3M360.4 100.8v1.3M319.6 62.2h-1.3M361.6 100.8v1.3M319.6 61.0h-1.3M362.6 100.8v1.3M319.6 60.0h-1.3M363.4 100.8v1.3M319.6 59.3h-1.3M364.1 100.8v1.3M319.6 58.6h-1.3M369.4 100.8v1.3M319.6 53.6h-1.3M372.1 100.8v1.3M319.6 51.0h-1.3M374.0 100.8v1.3M319.6 49.3h-1.3M375.5 100.8v1.3M319.6 47.9h-1.3M376.7 100.8v1.3M319.6 46.7h-1.3M377.7 100.8v1.3M319.6 45.7h-1.3M378.5 100.8v1.3M319.6 45.0h-1.3M379.2 100.8v1.3M319.6 44.3h-1.3" stroke="#333" stroke-width="0.5" fill="none"/>
<text x="346.8" y="42.3" font-size="3.6" text-anchor="middle" fill="#222" font-weight="bold">Data.005</text>
<text transform="translate(310.4 75.2) rotate(-90)" font-size="4.2" text-anchor="middle" fill="#444">FL2-H</text>
<text x="317.4" y="107.0" font-size="4" fill="#111" font-weight="bold">10<tspan dy="-1.6" font-size="2.8">0</tspan></text>
<text x="312.0" y="103.4" font-size="4" fill="#111" font-weight="bold">10<tspan dy="-1.6" font-size="2.8">0</tspan></text>
<text x="332.5" y="107.0" font-size="4" fill="#111" font-weight="bold">10<tspan dy="-1.6" font-size="2.8">1</tspan></text>
<text x="312.0" y="89.1" font-size="4" fill="#111" font-weight="bold">10<tspan dy="-1.6" font-size="2.8">1</tspan></text>
<text x="347.6" y="107.0" font-size="4" fill="#111" font-weight="bold">10<tspan dy="-1.6" font-size="2.8">2</tspan></text>
<text x="312.0" y="74.8" font-size="4" fill="#111" font-weight="bold">10<tspan dy="-1.6" font-size="2.8">2</tspan></text>
<text x="362.7" y="107.0" font-size="4" fill="#111" font-weight="bold">10<tspan dy="-1.6" font-size="2.8">3</tspan></text>
<text x="312.0" y="60.5" font-size="4" fill="#111" font-weight="bold">10<tspan dy="-1.6" font-size="2.8">3</tspan></text>
<text x="377.8" y="107.0" font-size="4" fill="#111" font-weight="bold">10<tspan dy="-1.6" font-size="2.8">4</tspan></text>
<text x="312.0" y="46.2" font-size="4" fill="#111" font-weight="bold">10<tspan dy="-1.6" font-size="2.8">4</tspan></text>
<g filter="url(#soft)"><path d="M343.9 69.4L344.3 68.8L344.8 69.3L344.4 70.0ZM343.9 51.5L343.8 52.5L343.0 52.4L343.2 51.6ZM336.0 85.9L336.8 86.5L336.8 87.9L335.7 87.3ZM334.9 82.4L334.7 81.4L335.5 81.4L336.3 82.0L335.5 82.8ZM333.0 84.2L333.1 83.4L333.7 83.4L334.4 83.8L334.2 85.0L333.3 85.0ZM344.1 56.5L344.2 55.8L344.4 55.2L344.8 55.6L345.2 56.1L344.7 56.6ZM344.6 48.5L344.2 49.0L343.8 48.5L343.9 47.8L344.6 47.6ZM342.5 45.1L343.0 45.1L343.5 45.6L343.0 46.2L342.4 46.0ZM336.8 81.1L337.2 80.8L337.4 81.3L337.3 81.8L336.9 81.8L336.4 81.5ZM337.6 80.3L337.8 81.2L337.1 81.3L337.1 80.6ZM331.2 76.7L331.8 77.6L331.0 77.9L330.6 77.4ZM342.8 72.1L342.7 71.1L342.8 69.8L343.7 70.4L343.8 71.3L343.7 72.4ZM344.9 67.5L344.7 66.9L345.2 66.8L345.5 67.1L345.7 67.7L345.1 68.1ZM332.3 78.2L331.0 78.1L331.8 76.8L332.4 77.1ZM342.4 65.3L342.9 64.7L343.5 64.1L343.6 65.1L343.7 66.1L343.0 65.7ZM330.1 68.6L330.4 67.0L331.3 66.7L331.5 68.1ZM344.1 54.6L344.8 54.0L345.1 54.8L344.6 55.5ZM343.8 71.6L343.8 70.5L344.0 69.5L345.1 69.3L345.4 70.8L344.9 72.1ZM332.2 88.8L332.4 88.0L333.1 87.6L333.9 88.5L333.1 89.2L332.5 89.7ZM332.7 71.0L332.1 71.7L331.4 71.7L331.2 70.9L331.6 70.2L332.3 70.1ZM333.5 66.5L333.3 68.3L332.1 68.3L331.6 67.2L332.3 66.5ZM338.1 79.3L338.9 79.8L339.1 80.8L338.3 81.0L337.9 80.3ZM332.2 76.4L331.4 76.8L331.4 75.8L332.0 75.5ZM332.7 62.0L333.4 60.4L334.3 60.8L334.1 62.1ZM344.0 68.2L343.9 69.0L343.4 69.2L342.9 69.1L342.9 68.3L343.4 67.8ZM342.2 66.5L341.9 66.0L342.0 65.5L342.4 65.5L342.7 66.0ZM333.3 66.6L332.4 66.1L332.7 64.6L334.0 65.3ZM341.5 59.3L342.4 58.8L343.0 59.8L342.3 60.7L341.4 60.6ZM345.8 68.3L344.7 67.4L345.1 66.0L346.0 66.0L346.7 66.9ZM345.6 50.2L347.1 50.5L346.9 52.2L345.7 52.0ZM346.4 61.9L346.8 62.8L345.9 63.5L345.7 62.2ZM331.9 62.4L331.0 61.1L332.5 60.2L332.7 61.8ZM337.2 85.9L336.5 85.5L336.1 84.4L337.1 84.2L337.6 85.0ZM345.2 60.3L344.6 59.0L343.9 57.9L344.9 57.2L346.1 57.6L345.9 59.0ZM346.5 58.4L345.5 59.0L344.5 58.3L344.7 56.9L345.6 56.8L346.4 57.1ZM344.2 45.5L343.4 46.2L342.9 45.0L343.5 44.2L344.2 44.1L344.5 44.8ZM337.0 67.3L336.6 66.8L337.0 66.0L337.4 66.5L337.4 67.0ZM345.5 54.9L344.5 54.3L343.9 53.1L345.0 52.8L345.6 53.5ZM341.4 67.4L340.7 67.1L341.0 66.3L341.5 66.6ZM339.4 60.7L340.1 61.6L339.1 62.0L338.5 61.5L338.8 60.8ZM342.3 77.8L343.1 77.6L343.0 78.8L342.2 78.7ZM334.1 62.9L334.5 63.3L334.3 64.1L333.8 63.6ZM344.8 62.8L344.1 63.8L343.8 62.8L344.1 61.7ZM343.7 72.7L343.0 73.6L342.0 72.9L342.5 71.7L343.5 71.3ZM334.0 86.4L334.8 86.4L334.8 87.3L334.3 87.9L333.7 87.3ZM338.2 49.3L338.5 48.7L338.9 48.8L339.2 49.1L339.1 49.6L338.6 49.8ZM335.7 75.7L335.1 76.0L334.8 75.5L334.9 75.0L335.4 75.1ZM334.4 87.0L334.8 86.2L335.5 86.4L335.9 87.6L334.9 88.1ZM344.4 73.3L343.6 72.4L344.6 71.3L345.5 72.7ZM343.6 65.9L343.9 66.4L343.5 66.7L343.1 66.4L343.1 65.9L343.3 65.4ZM332.4 80.7L331.9 80.0L332.3 79.0L332.9 79.9ZM336.6 81.7L336.6 82.5L336.2 83.0L335.6 82.8L335.6 82.1L336.0 81.6ZM334.5 69.7L333.2 70.4L333.0 68.4L334.2 68.5ZM343.2 46.8L343.0 47.5L342.5 47.6L342.4 47.0L342.3 46.3L343.0 46.2ZM343.3 62.1L343.8 62.8L343.5 63.6L342.9 64.2L342.7 63.3L342.5 62.4ZM343.8 61.1L344.0 60.5L344.5 60.4L345.2 61.3L344.2 62.1ZM337.0 84.3L336.1 86.1L334.9 85.0L335.6 83.4ZM329.7 68.9L330.1 67.5L331.2 67.3L331.7 68.4L331.3 69.3L330.5 69.6ZM336.2 72.7L336.6 72.9L336.4 73.5L335.9 73.7L335.8 72.9ZM333.3 85.1L334.3 85.5L334.5 86.8L333.8 88.0L333.1 87.0L332.7 86.1ZM341.1 46.9L341.5 47.6L341.0 48.3L340.5 47.7L340.5 47.0ZM342.8 71.8L342.5 72.2L342.1 72.6L341.9 72.0L341.9 71.3L342.5 71.2ZM335.9 52.1L336.5 51.9L336.7 52.7L336.0 52.8ZM335.0 87.8L334.4 87.8L334.2 87.0L334.9 87.1ZM339.6 79.6L339.6 80.1L339.6 80.7L339.2 80.5L338.9 80.2L339.1 79.5ZM332.8 88.2L332.2 88.8L331.8 87.8L332.4 87.1L333.1 87.4ZM343.8 58.8L344.5 58.9L344.5 59.9L343.9 60.5L343.2 60.2L343.3 59.3ZM341.5 63.7L340.7 63.0L340.9 61.6L341.8 62.1L342.4 63.0ZM339.8 62.7L339.7 61.8L340.2 61.2L340.9 61.5L341.1 62.5L340.4 63.0ZM334.7 73.2L333.4 72.5L333.9 70.9L335.0 70.9L335.3 72.1ZM341.3 67.4L341.2 68.6L340.2 68.1L340.6 67.0ZM334.3 85.6L334.0 85.0L334.2 84.4L334.8 84.2L334.7 85.0ZM341.3 74.6L340.5 74.3L340.2 73.4L340.8 73.0L341.5 72.6L341.5 73.6ZM333.4 92.1L333.0 92.3L332.7 92.0L332.7 91.4L333.2 91.1L333.5 91.6ZM333.7 67.0L334.9 65.4L335.8 66.6L335.3 68.3ZM342.2 59.3L342.9 59.2L343.2 60.2L342.6 60.8L342.0 60.6L341.5 59.8ZM332.9 88.2L331.8 87.4L332.1 86.0L333.2 85.5L333.3 86.9ZM333.6 65.9L333.3 66.5L332.7 66.3L332.7 65.4L333.4 65.2ZM334.2 55.8L335.0 54.5L335.6 55.9L335.2 56.8L334.3 57.1ZM342.0 65.7L342.1 66.6L342.0 67.1L341.4 67.5L341.0 66.7L341.4 66.1ZM333.6 60.5L333.3 61.3L332.7 60.9L332.2 60.6L332.5 59.9L333.1 60.0ZM341.5 73.2L343.0 73.9L342.4 75.3L341.1 75.3ZM335.7 85.5L336.4 85.7L336.5 86.6L336.3 88.1L335.5 87.0L334.7 86.1ZM342.7 81.0L341.5 79.6L342.6 78.7L343.9 79.5ZM343.2 47.7L343.7 47.5L343.9 48.1L343.7 48.7L343.2 48.8L342.9 48.2ZM335.1 86.3L334.7 87.2L334.1 87.2L333.5 86.1L334.5 85.1ZM345.8 64.3L345.5 65.1L345.1 66.0L344.6 65.1L344.6 64.3L345.2 64.1ZM341.2 48.0L341.0 47.1L341.6 46.8L342.2 47.8ZM341.0 47.6L341.8 47.9L341.6 49.5L340.2 48.8ZM336.6 73.4L336.3 72.3L336.7 71.8L337.3 72.5ZM334.9 73.3L334.4 74.7L333.5 73.4L334.2 72.4ZM339.9 68.2L340.3 67.5L340.9 68.3L340.3 68.8ZM342.6 79.3L341.6 78.2L342.0 77.2L342.9 77.6ZM344.8 58.3L345.1 57.7L345.7 57.3L345.7 58.2L345.3 58.9ZM339.3 77.9L339.1 76.8L340.0 75.8L341.1 77.2L340.3 79.0ZM333.7 62.4L334.2 62.0L334.4 62.6L334.4 63.3L333.8 63.1ZM330.4 72.4L330.9 71.1L332.0 71.9L331.4 73.7ZM344.5 68.0L342.7 68.8L342.5 66.7L343.7 66.4ZM331.3 74.7L332.0 74.2L332.4 75.3L331.8 76.2L331.1 75.8L330.6 75.1ZM333.1 72.4L332.9 71.2L333.3 70.5L334.1 70.0L334.4 71.1L334.2 72.1ZM341.9 79.1L340.6 78.7L341.6 77.6L342.8 77.9ZM338.3 88.6L337.7 89.0L337.4 88.3L338.0 87.5Z" fill="none" stroke="#111" stroke-width="0.62"/><path d="M332.1 61.4l-1.0 1.8M343.4 66.3l-2.2 0.1M344.7 55.2l1.6 0.5M333.5 61.7l-0.6 2.2M331.6 76.7l0.2 2.3M335.2 72.0l-1.1 0.9M332.8 82.3l0.9 1.7M335.9 65.1l0.1 1.9M335.6 70.2l-0.0 1.5M332.6 77.1l-0.6 1.3M330.8 67.0l0.6 0.9M344.1 59.7l0.3 1.5M343.0 47.9l-1.3 0.3M332.6 88.9l0.2 1.1M334.0 65.0l1.1 0.1M332.7 73.8l-1.1 0.7M343.0 72.9l1.2 0.7M332.1 68.7l-1.9 0.7M332.7 67.9l-1.7 0.1M332.6 80.3l-1.7 0.5M335.2 66.9l-1.3 1.5M340.1 75.0l-0.0 1.3M343.6 70.8l1.2 0.9M334.7 74.4l-1.2 0.6M341.4 79.4l0.5 1.3M343.1 55.4l1.0 1.6M342.5 78.0l-1.9 1.2M338.9 77.9l-0.2 1.1M333.3 91.6l0.9 0.6M334.7 54.5l0.1 1.8M335.5 60.6l-0.5 1.1M344.5 46.3l0.2 1.3M333.9 55.7l1.0 0.0M330.8 71.2l1.6 0.8M335.8 51.6l0.7 1.3M332.9 80.4l-1.1 0.1M331.5 61.6l0.3 2.0M342.2 70.1l0.5 1.9M334.3 71.1l1.7 0.2M333.4 78.7l1.8 0.8M334.4 54.6l-0.2 1.5M338.6 47.8l1.3 1.4M338.1 76.9l-2.1 0.2M346.1 44.7l-0.8 1.8M344.6 73.3l-2.0 0.1M336.0 54.3l1.5 1.4M342.0 60.3l1.7 0.7M331.9 75.8l-1.4 0.6M346.0 61.3l0.1 1.0M345.9 59.7l-1.6 1.4M333.4 71.8l-2.0 1.1M333.5 76.8l2.0 0.3M338.7 82.4l1.9 1.2M333.0 86.0l2.0 0.2M344.5 64.0l1.2 0.4M334.5 59.0l-1.8 0.8M335.9 87.2l-1.3 0.1M342.2 80.6l-0.9 0.5M344.0 45.5l1.2 0.5M340.4 77.1l1.2 1.3M336.4 54.3l-1.6 1.4M339.3 84.8l1.0 0.1M341.9 74.0l-0.3 1.3M331.4 80.2l1.7 0.5M347.2 51.1l-1.6 0.6M336.4 59.9l-0.6 1.4M335.6 84.1l-1.1 0.5M344.4 66.3l0.7 1.4M346.3 49.1l1.5 0.7M345.5 48.8l0.3 2.2M331.6 59.2l2.0 0.8M344.4 66.1l1.8 0.5M340.4 83.1l0.1 1.0M333.9 68.7l-0.6 1.2M331.4 81.5l1.3 0.2M340.4 71.2l0.1 1.5M343.8 71.9l-0.1 1.5M346.9 51.3l-2.0 0.9M341.8 66.8l1.1 0.5M345.7 57.4l0.8 2.0M342.6 52.4l-1.6 0.1M342.2 74.9l0.6 1.5M341.4 83.5l-1.4 0.3M337.9 88.0l-0.0 1.3M341.9 48.2l-1.1 0.4M331.6 69.6l-0.6 1.0M340.8 83.0l-1.3 0.2M333.5 84.0l-1.6 1.5M342.3 78.4l1.3 1.0M341.0 81.9l1.8 0.3M344.5 51.9l-2.3 0.2M330.4 67.8l1.7 0.6M338.1 49.6l-0.4 0.9M346.2 53.2l1.2 1.9M336.1 76.4l-0.2 1.6M343.9 47.0l1.0 0.3M331.4 68.2l0.3 2.0M343.1 75.3l-1.6 0.7M332.5 63.6l1.5 0.9M335.7 73.3l1.9 0.1" fill="none" stroke="#111" stroke-width="0.67"/><path d="M344.0 44.3L342.7 46.0L340.6 46.9L338.0 49.3L337.2 49.9L336.3 50.9L335.0 52.9L333.5 54.5L332.9 54.8L331.9 56.9L334.0 58.6L332.6 59.5L332.3 61.1L331.6 62.5L332.1 64.2L332.0 65.1L331.7 66.8L330.2 67.5L331.5 69.3L331.6 70.7L330.9 71.7L329.8 73.7L330.7 74.7L330.7 76.3L331.0 77.2L331.0 78.6L331.4 80.3L330.0 81.2L331.5 83.3L332.3 84.1L331.4 85.7L331.7 87.3L333.5 88.9L333.2 89.5L331.7 90.7L333.3 93.3L334.7 92.7L334.9 91.4L336.3 89.3L337.5 88.0L339.9 86.8L340.3 85.8L340.5 84.5L341.4 83.8L341.3 81.4L342.9 80.5L342.3 78.7L344.2 77.4L343.6 76.0L343.7 75.1L343.8 73.6L345.0 71.4L345.4 70.9L346.4 69.5L345.5 68.0L345.0 66.8L346.4 64.7L345.0 63.2L346.1 62.1L347.3 61.1L346.4 59.9L346.8 58.0L346.1 56.7L347.5 55.8L347.9 54.0L347.1 52.5L346.4 51.0L345.9 50.4L346.3 48.1L345.3 47.2L345.9 46.0L344.8 44.0ZM340.6 46.8L340.2 48.5L338.7 49.3L337.9 49.8L338.1 51.0L337.1 53.4L335.2 54.0L335.0 55.2L335.0 56.0L333.3 57.9L333.2 59.4L332.9 60.1L333.9 61.3L332.1 62.8L332.4 64.1L332.2 66.0L331.8 66.6L332.7 67.4L332.8 69.3L331.6 70.9L333.0 71.1L332.6 72.6L332.1 74.3L332.5 75.3L331.8 77.0L332.0 77.8L332.1 79.1L332.0 80.4L332.6 81.8L332.9 83.6L332.6 84.1L332.5 85.0L333.7 86.4L332.0 87.6L333.5 88.6L333.9 90.7L335.8 90.1L336.4 89.4L338.0 87.7L337.4 86.8L338.2 85.5L339.4 84.0L340.0 82.5L340.7 81.8L341.5 80.6L341.7 79.1L341.5 77.3L343.4 76.8L343.2 75.2L343.8 74.9L342.8 73.2L342.3 71.5L343.6 70.6L344.3 69.0L344.3 67.8L345.4 66.0L344.1 65.4L344.6 63.2L344.1 63.1L345.1 60.7L344.8 60.5L345.1 59.0L343.9 57.4L345.0 57.1L344.9 55.4L344.9 54.1L346.3 52.8L345.6 52.1L345.2 50.4L345.2 49.5L345.4 48.3L346.6 46.3ZM340.8 49.4L339.3 49.6L339.4 51.1L337.9 52.3L337.4 53.4L337.5 54.6L335.8 55.7L335.3 56.2L335.7 58.1L334.2 59.4L336.4 60.8L332.8 61.5L334.5 62.7L334.9 63.6L332.9 64.3L334.0 65.8L334.3 66.9L334.7 67.6L333.4 69.4L334.0 71.0L333.1 70.5L333.4 72.9L333.1 73.2L333.9 74.7L333.7 75.7L332.8 77.9L333.2 78.5L332.6 78.9L332.6 79.7L332.7 81.7L333.5 82.7L333.7 83.1L333.3 84.1L334.5 86.2L333.4 86.3L334.2 87.9L336.2 87.4L338.5 87.5L337.7 86.3L337.3 85.4L339.0 84.4L339.7 82.3L338.8 81.9L339.6 80.7L341.3 78.8L341.2 78.5L341.1 76.6L340.0 76.0L341.2 74.3L341.2 73.5L343.2 72.4L342.7 70.9L343.2 70.2L342.6 68.8L342.2 67.5L343.2 67.3L343.3 65.7L343.1 65.1L343.1 63.3L343.4 62.2L344.0 61.1L343.0 59.5L342.8 59.6L343.9 58.4L344.8 56.6L345.6 55.5L344.5 54.1L344.7 53.2L345.0 53.0L345.2 50.6L344.0 49.5L346.0 48.6ZM338.4 51.2L339.6 52.2L339.5 54.0L338.0 55.0L337.5 56.1L337.3 57.0L337.4 57.0L337.2 58.4L336.4 59.5L336.1 59.8L336.6 61.5L335.6 62.3L336.9 63.2L335.5 64.6L336.8 65.0L335.9 65.9L336.0 67.5L335.2 68.8L335.6 68.9L335.8 70.0L335.5 69.9L336.6 72.1L335.3 73.3L335.1 73.7L336.0 74.5L335.1 76.2L335.3 77.0L334.4 77.0L335.6 79.0L335.9 80.4L335.1 80.8L335.6 81.0L334.7 82.4L334.9 84.2L334.5 84.2L333.9 85.1L337.2 84.5L338.1 84.5L337.6 83.5L338.0 83.1L337.6 80.8L339.1 80.1L339.2 79.9L338.1 78.7L339.8 77.5L338.8 77.3L338.9 75.8L340.2 74.4L340.2 73.5L340.3 72.9L340.9 72.3L341.0 70.6L340.6 69.7L342.0 68.9L340.6 67.7L340.7 66.6L341.1 66.3L340.3 64.8L341.5 63.9L341.5 62.7L343.1 61.1L341.7 61.3L342.3 59.8L341.8 59.3L341.8 58.5L342.0 57.8L341.9 55.7L343.0 55.3L342.2 54.7L343.0 53.7L342.2 52.6L343.9 51.6Z" fill="none" stroke="#222" stroke-width="0.67"/><path d="M349.1 74.1h0.7M353.7 66.0h0.7M354.1 71.3h0.7M331.1 47.5h0.7M351.3 75.3h0.7M322.0 73.8h0.7M349.5 56.3h0.7M352.5 75.7h0.7" fill="none" stroke="#444" stroke-width="0.7"/></g>
</g>
<g>
<rect x="393.60" y="43.60" width="60.90" height="57.20" fill="none" stroke="#555" stroke-width="0.9"/>
<line x1="393.40000000000003" y1="43.6" x2="393.40000000000003" y2="101.8" stroke="#222" stroke-width="1.5" stroke-linecap="butt"/>
<line x1="392.6" y1="101.0" x2="454.5" y2="101.0" stroke="#222" stroke-width="1.4" stroke-linecap="butt"/>
<path d="M393.6 100.8v2.2M393.6 100.8h-2.2M408.8 100.8v2.2M393.6 86.5h-2.2M424.1 100.8v2.2M393.6 72.2h-2.2M439.3 100.8v2.2M393.6 57.9h-2.2M454.5 100.8v2.2M393.6 43.6h-2.2" stroke="#222" stroke-width="0.8" fill="none"/>
<path d="M398.2 100.8v1.3M393.6 96.5h-1.3M400.9 100.8v1.3M393.6 93.9h-1.3M402.7 100.8v1.3M393.6 92.2h-1.3M404.3 100.8v1.3M393.6 90.8h-1.3M405.5 100.8v1.3M393.6 89.6h-1.3M406.5 100.8v1.3M393.6 88.6h-1.3M407.3 100.8v1.3M393.6 87.9h-1.3M408.1 100.8v1.3M393.6 87.2h-1.3M413.4 100.8v1.3M393.6 82.2h-1.3M416.1 100.8v1.3M393.6 79.6h-1.3M418.0 100.8v1.3M393.6 77.9h-1.3M419.5 100.8v1.3M393.6 76.5h-1.3M420.7 100.8v1.3M393.6 75.3h-1.3M421.8 100.8v1.3M393.6 74.3h-1.3M422.5 100.8v1.3M393.6 73.6h-1.3M423.3 100.8v1.3M393.6 72.9h-1.3M428.6 100.8v1.3M393.6 67.9h-1.3M431.4 100.8v1.3M393.6 65.3h-1.3M433.2 100.8v1.3M393.6 63.6h-1.3M434.7 100.8v1.3M393.6 62.2h-1.3M435.9 100.8v1.3M393.6 61.0h-1.3M437.0 100.8v1.3M393.6 60.0h-1.3M437.8 100.8v1.3M393.6 59.3h-1.3M438.5 100.8v1.3M393.6 58.6h-1.3M443.8 100.8v1.3M393.6 53.6h-1.3M446.6 100.8v1.3M393.6 51.0h-1.3M448.4 100.8v1.3M393.6 49.3h-1.3M449.9 100.8v1.3M393.6 47.9h-1.3M451.2 100.8v1.3M393.6 46.7h-1.3M452.2 100.8v1.3M393.6 45.7h-1.3M453.0 100.8v1.3M393.6 45.0h-1.3M453.7 100.8v1.3M393.6 44.3h-1.3" stroke="#333" stroke-width="0.5" fill="none"/>
<text x="421.1" y="42.3" font-size="3.6" text-anchor="middle" fill="#222" font-weight="bold">Data.009</text>
<text transform="translate(384.4 75.2) rotate(-90)" font-size="4.2" text-anchor="middle" fill="#444">FL2-H</text>
<text x="391.4" y="107.0" font-size="4" fill="#111" font-weight="bold">10<tspan dy="-1.6" font-size="2.8">0</tspan></text>
<text x="386.0" y="103.4" font-size="4" fill="#111" font-weight="bold">10<tspan dy="-1.6" font-size="2.8">0</tspan></text>
<text x="406.6" y="107.0" font-size="4" fill="#111" font-weight="bold">10<tspan dy="-1.6" font-size="2.8">1</tspan></text>
<text x="386.0" y="89.1" font-size="4" fill="#111" font-weight="bold">10<tspan dy="-1.6" font-size="2.8">1</tspan></text>
<text x="421.9" y="107.0" font-size="4" fill="#111" font-weight="bold">10<tspan dy="-1.6" font-size="2.8">2</tspan></text>
<text x="386.0" y="74.8" font-size="4" fill="#111" font-weight="bold">10<tspan dy="-1.6" font-size="2.8">2</tspan></text>
<text x="437.1" y="107.0" font-size="4" fill="#111" font-weight="bold">10<tspan dy="-1.6" font-size="2.8">3</tspan></text>
<text x="386.0" y="60.5" font-size="4" fill="#111" font-weight="bold">10<tspan dy="-1.6" font-size="2.8">3</tspan></text>
<text x="452.3" y="107.0" font-size="4" fill="#111" font-weight="bold">10<tspan dy="-1.6" font-size="2.8">4</tspan></text>
<text x="386.0" y="46.2" font-size="4" fill="#111" font-weight="bold">10<tspan dy="-1.6" font-size="2.8">4</tspan></text>
<g filter="url(#soft)"><path d="M407.6 58.4L408.5 58.4L408.9 58.9L408.9 59.7L408.3 60.1L407.7 59.6ZM431.3 64.8L431.9 65.6L431.1 66.7L430.6 65.3ZM432.8 49.5L432.1 49.5L431.6 48.2L432.7 47.5L433.6 48.6ZM416.0 61.0L416.4 60.7L416.8 61.1L416.7 61.7L416.1 61.8ZM433.5 54.8L432.8 55.2L432.2 54.3L432.6 53.2L433.4 53.3L434.2 54.0ZM421.3 83.4L420.3 83.3L420.8 82.2L421.6 81.9L422.0 83.0ZM418.3 59.6L418.6 60.2L418.1 60.7L417.8 60.1L417.8 59.3ZM432.5 73.9L431.9 73.7L431.6 73.2L432.1 72.9L432.4 73.1ZM426.9 72.1L425.8 73.0L425.2 72.0L425.9 71.1ZM433.2 52.9L433.5 52.1L434.2 51.9L434.6 52.9L434.1 53.5L433.5 53.6ZM419.0 88.5L418.2 88.5L417.9 87.4L418.7 87.0L419.1 87.6ZM418.1 84.3L416.9 85.1L415.9 84.2L416.3 82.6L417.5 82.8ZM409.9 57.8L410.3 57.3L410.9 57.0L411.1 57.7L410.8 58.4L410.4 58.2ZM419.1 86.5L419.1 87.3L418.5 87.7L418.0 87.2L418.2 86.6L418.6 86.4ZM432.0 74.9L432.3 75.8L431.7 76.2L431.1 76.4L431.2 75.7L431.4 75.3ZM430.6 54.5L431.1 53.6L431.5 54.5L431.1 55.1ZM428.5 84.8L428.8 85.5L428.2 85.9L427.6 85.5L427.9 84.6ZM420.4 89.3L419.6 88.7L419.5 87.9L420.2 87.1L420.7 88.1ZM408.6 60.1L407.9 60.0L407.9 59.0L408.8 58.5L409.4 59.6ZM435.2 68.5L433.7 68.2L433.9 66.6L434.9 66.8ZM417.9 86.7L418.4 87.6L418.2 88.7L417.5 88.2L417.3 87.4ZM428.3 65.7L428.3 66.4L427.7 67.0L427.4 66.1L427.8 65.6ZM411.1 58.8L410.4 58.1L410.7 57.1L411.4 57.7ZM414.5 83.5L415.1 84.2L414.5 84.9L413.9 84.8L413.8 83.9ZM411.5 72.7L411.1 74.3L410.0 73.2L410.5 71.7ZM414.2 87.7L414.9 87.2L415.5 87.3L415.8 88.1L415.3 88.9L414.7 88.4ZM416.4 91.6L416.9 92.1L416.8 92.9L416.3 93.4L416.0 92.8L415.9 92.1ZM430.6 82.3L430.4 81.7L430.7 81.2L431.3 81.2L431.5 82.0L431.1 82.5ZM413.6 88.0L413.0 87.5L413.0 86.7L413.6 86.4L413.7 87.2ZM420.2 87.6L419.1 86.8L419.7 85.6L420.4 85.5L421.1 86.5ZM408.8 83.4L409.4 84.3L408.4 84.9L407.7 83.9L408.3 83.1ZM414.5 64.2L415.0 64.8L414.6 65.4L414.0 65.5L414.0 64.5ZM409.0 84.3L408.8 84.9L408.4 84.9L408.3 84.1ZM412.4 67.8L411.4 68.6L410.7 67.0L412.0 66.7ZM424.1 46.1L423.6 45.8L423.8 45.1L424.4 45.0L424.7 45.8ZM431.3 60.5L430.8 60.0L430.2 59.5L430.9 59.1L431.4 59.1L431.4 59.7ZM425.2 56.2L425.7 56.1L426.1 56.1L426.1 56.7L425.8 57.0L425.3 56.9ZM421.3 53.8L421.1 54.5L420.6 54.6L420.7 53.9ZM426.2 59.5L426.0 58.1L427.3 57.4L427.5 59.1L426.9 59.7ZM434.9 65.8L434.0 67.5L433.0 66.6L433.0 65.5L433.8 64.4ZM411.9 87.4L412.8 87.2L412.8 88.6L411.8 88.4ZM431.3 73.8L432.1 74.0L432.0 75.2L430.9 75.0ZM431.2 58.5L430.8 59.3L430.2 59.8L430.0 58.8L430.5 58.1ZM430.3 68.2L431.1 67.7L431.8 68.3L431.8 69.6L430.9 69.6L429.9 69.4ZM428.8 82.3L428.4 81.9L428.5 81.2L429.1 81.5ZM428.1 64.6L427.2 63.9L427.4 63.0L428.0 63.2ZM419.3 88.2L418.7 88.0L418.3 87.2L418.9 86.5L419.4 87.0L419.8 87.7ZM431.1 79.5L431.6 78.4L432.2 79.3L432.3 80.5L431.4 80.3ZM411.9 60.0L412.3 59.0L413.2 59.2L413.0 60.1L412.5 60.6ZM415.1 90.1L414.8 90.4L414.6 90.1L414.6 89.7L415.0 89.5ZM417.1 51.7L416.2 51.7L415.5 51.1L415.5 49.7L416.5 49.9L417.2 50.5ZM417.7 80.3L418.4 81.1L417.9 82.0L417.3 82.3L416.9 81.6L417.2 80.9ZM430.0 83.7L428.5 83.7L429.0 81.3L430.7 82.1ZM420.8 58.2L420.7 57.8L421.0 57.2L421.5 57.5L421.6 58.3L421.1 58.5ZM425.9 47.0L426.3 46.7L426.5 47.3L426.4 47.9L426.0 47.7L425.7 47.4ZM428.3 84.5L428.5 86.0L427.1 85.7L427.6 84.3ZM405.5 65.3L405.7 64.8L406.0 64.6L406.4 65.0L406.0 65.4ZM408.8 56.9L408.7 58.1L408.0 58.2L407.4 57.6L407.8 56.5ZM417.4 90.3L417.4 88.7L418.9 88.7L418.3 90.3ZM421.4 53.2L421.9 54.1L421.5 55.0L420.7 54.9L420.6 53.8ZM415.2 55.3L415.5 54.4L416.2 55.1L416.0 56.2L415.3 55.9ZM428.7 50.7L427.8 50.5L427.7 48.9L429.0 48.6L429.7 50.1ZM416.4 57.0L416.5 56.3L417.0 56.2L417.2 56.7L416.9 57.1ZM410.5 86.6L410.3 88.0L409.5 88.3L408.6 87.4L409.5 86.5ZM420.7 62.5L420.3 61.5L420.9 61.3L421.5 61.8ZM435.9 63.4L435.5 64.1L435.2 64.7L435.0 64.1L435.0 63.7L435.2 63.5ZM427.0 57.1L427.3 58.3L426.7 59.4L425.8 58.9L425.7 57.9L426.0 56.5ZM415.5 75.5L416.2 75.0L416.5 75.9L416.5 76.8L415.7 76.5ZM434.2 59.3L434.5 59.5L434.6 60.3L434.0 59.9L433.9 59.5ZM412.5 78.7L412.5 80.2L411.7 81.3L410.6 80.6L410.5 79.1L411.4 78.8ZM409.8 82.5L408.8 81.8L408.8 80.8L409.6 80.1L410.0 81.2ZM414.6 53.2L415.3 52.0L416.1 52.5L416.0 54.3ZM411.0 52.2L410.2 51.4L410.8 50.1L412.1 50.5L412.3 52.4ZM431.7 71.0L432.0 69.2L433.5 69.8L433.0 71.7ZM431.1 74.4L430.5 73.0L431.3 72.3L431.9 72.3L432.4 72.9L432.2 74.0ZM435.3 57.0L436.0 56.3L436.0 57.4L435.8 58.3L435.1 57.7ZM433.8 54.8L433.4 54.7L433.1 54.1L433.6 53.9L434.1 53.9L434.1 54.5ZM423.7 75.4L424.5 75.1L424.8 76.3L423.8 76.6ZM407.6 77.2L407.6 78.6L406.7 77.8L406.7 76.5ZM415.2 51.9L416.3 51.5L416.9 53.1L416.0 54.2L415.2 53.6L414.2 52.8ZM431.4 76.8L431.8 76.2L432.5 76.9L432.0 77.5L431.5 77.4ZM422.3 65.9L423.8 66.1L424.3 67.7L422.8 68.0ZM408.8 55.7L408.3 54.4L409.7 54.2L409.4 55.6ZM412.5 73.1L413.6 73.6L413.7 75.4L412.2 74.7ZM413.5 80.9L413.2 81.7L412.4 82.3L412.2 81.2L412.3 80.3L413.2 79.8ZM420.8 75.0L420.3 76.1L419.7 75.0L420.3 73.8ZM430.3 66.7L430.5 67.4L429.9 67.9L429.3 67.2L429.7 66.4ZM428.0 51.4L428.3 52.4L428.0 53.2L427.3 53.5L427.1 52.6L427.4 52.1ZM417.6 80.1L416.4 80.6L416.2 79.0L416.9 77.8L418.2 78.6ZM412.8 87.3L411.8 87.0L411.7 85.7L412.7 86.0ZM424.7 51.1L423.5 49.8L425.1 48.8L425.7 50.4ZM417.4 90.0L417.8 91.4L416.8 92.1L416.3 90.6ZM427.8 47.7L426.9 48.0L426.3 46.4L427.6 46.6ZM415.4 89.4L415.6 90.3L415.2 90.7L414.6 90.4L414.7 89.6ZM418.6 49.3L417.7 48.9L417.3 47.6L418.3 47.4L419.3 48.1ZM428.7 46.7L429.2 48.4L427.8 48.7L427.5 47.0ZM434.0 74.0L433.0 74.7L433.1 73.3L433.6 72.4L434.3 73.2ZM421.1 71.9L421.0 73.0L420.2 72.7L420.2 71.3ZM409.9 91.7L409.7 90.8L410.6 90.2L410.6 91.5ZM431.5 73.8L430.8 74.2L430.9 73.2L431.4 72.6L431.7 73.3ZM418.5 66.5L418.7 67.9L417.9 68.5L417.3 67.7L417.6 66.8ZM429.8 72.6L430.3 71.8L430.7 71.1L431.0 71.8L430.9 72.4L430.5 73.2ZM417.6 48.8L416.7 47.8L417.8 46.8L418.5 47.9L418.4 48.9ZM426.4 48.0L426.8 48.5L426.9 49.2L426.3 49.1L426.2 48.6ZM422.1 67.5L421.9 68.5L421.0 69.1L420.7 67.9L421.3 67.3ZM418.1 76.4L417.3 77.2L416.6 76.9L417.0 75.7ZM423.5 45.6L423.4 44.7L423.9 44.1L424.4 44.7L424.1 45.3ZM420.8 71.9L419.8 71.4L420.3 69.9L421.2 70.3L421.4 71.2ZM414.3 89.3L413.7 89.2L413.7 88.4L414.2 88.1L414.8 88.5ZM434.8 67.4L434.9 67.9L434.8 68.3L434.5 68.3L434.2 68.1L434.3 67.5ZM424.6 46.0L424.7 46.7L424.2 47.0L423.9 46.4L424.0 45.6ZM432.9 63.6L433.7 64.3L433.7 65.7L432.4 66.0L432.5 64.6ZM410.4 82.7L412.0 83.1L411.5 85.1L409.9 84.8ZM428.3 49.0L428.8 47.3L430.0 48.0L429.6 49.5ZM426.3 60.4L426.0 59.8L426.0 59.1L426.6 59.0L426.8 59.6L426.8 60.1ZM425.8 82.0L426.6 82.5L425.9 83.3L425.4 82.7ZM427.7 68.1L428.8 67.9L428.9 69.3L428.4 70.3L427.5 70.0L427.0 69.0ZM423.5 85.3L422.7 84.9L422.5 83.7L423.8 83.8ZM429.7 72.2L430.6 71.8L431.4 71.9L431.3 72.9L431.0 74.2L430.3 73.2ZM426.3 67.9L426.6 68.5L426.3 69.1L425.8 68.4ZM431.5 55.9L431.7 55.1L432.5 54.9L432.4 56.2ZM408.1 84.8L407.4 85.2L406.8 83.7L408.2 83.4ZM434.9 64.4L435.0 63.1L435.8 63.9L435.6 64.9ZM420.0 67.4L419.6 66.0L420.5 65.4L421.1 66.0L421.1 67.0ZM429.6 66.0L429.5 66.8L428.7 66.9L428.5 65.7L429.2 65.7ZM426.5 80.1L427.2 80.4L427.1 81.3L426.7 81.9L426.0 81.6L425.9 80.7ZM422.1 51.4L423.1 52.0L422.7 53.5L421.5 52.8ZM410.8 68.7L410.9 69.4L411.0 70.5L409.9 70.6L409.5 69.4L410.0 68.3ZM411.6 74.6L410.6 73.4L411.7 72.1L412.5 73.6ZM411.2 76.4L411.0 77.8L409.8 77.7L409.3 76.3L410.4 75.6ZM416.3 93.5L415.7 93.7L415.2 93.1L415.7 92.8L416.3 92.6ZM425.1 64.7L425.5 65.4L424.9 66.0L424.5 65.3L424.6 64.7ZM413.9 72.6L413.4 73.6L412.5 73.3L412.4 72.1L413.3 71.5ZM409.0 63.8L409.7 63.9L410.5 64.7L410.1 66.1L409.0 65.7L408.8 64.7ZM413.1 67.5L412.3 65.5L413.6 64.1L414.1 65.9ZM423.1 52.4L422.5 53.0L421.9 52.5L422.3 51.1ZM417.2 82.8L416.6 82.2L417.2 81.7L417.6 81.7L418.1 82.1L417.7 82.6ZM425.4 64.2L425.0 64.7L424.7 64.8L424.5 64.3L424.9 64.1ZM422.5 82.8L423.0 82.4L423.1 83.0L423.0 83.7L422.4 83.5ZM417.4 82.7L417.9 83.0L417.8 83.8L417.3 83.8L416.9 83.5L416.9 82.9ZM415.9 56.8L415.7 58.2L414.5 57.8L414.3 56.3L414.9 55.2L415.8 55.8ZM407.7 63.3L407.4 64.0L406.7 63.5L406.6 62.5L407.3 62.0L407.8 62.7ZM410.2 52.5L410.7 53.2L410.4 54.1L409.8 53.8L409.8 53.2ZM423.4 53.4L422.7 52.6L422.8 51.3L423.7 51.3L424.1 52.0L424.4 53.1ZM426.1 53.3L426.4 54.0L426.3 54.6L425.9 54.8L425.6 54.4L425.5 53.7ZM408.1 56.9L408.8 57.1L408.5 58.2L407.7 57.6ZM428.8 45.5L429.8 45.9L429.1 46.9L428.7 47.3L427.8 47.0L428.0 45.8ZM409.1 75.2L409.5 73.9L410.5 74.8L409.8 76.2ZM424.2 59.7L424.8 60.6L424.2 61.8L423.5 61.0L422.6 60.2L423.4 59.2ZM419.8 81.6L418.5 81.6L418.3 80.1L419.3 79.5L419.8 80.4ZM430.1 74.6L429.6 75.2L429.2 75.1L429.0 74.7L429.0 73.9L429.7 74.0ZM432.6 67.7L432.1 69.1L431.4 68.5L431.4 67.2ZM415.8 57.6L416.4 56.6L417.0 57.6L417.0 58.5L416.5 58.8L415.7 58.7ZM406.0 77.2L406.3 76.2L406.9 75.7L407.5 76.6L406.8 77.2ZM407.7 70.1L408.5 69.0L409.6 70.2L408.8 71.5L407.8 71.3ZM409.1 75.2L408.2 73.8L409.4 72.5L410.2 73.8L410.3 75.2ZM421.6 48.2L421.7 47.4L422.0 47.0L422.4 47.4L422.3 48.0ZM424.6 87.9L424.4 89.3L423.4 88.7L422.9 87.5L424.0 86.9ZM417.0 91.3L417.8 90.8L418.2 91.8L417.4 92.5ZM426.4 84.8L426.2 85.9L425.4 85.5L424.7 84.6L425.4 83.6L426.5 83.4ZM417.5 47.5L418.2 46.6L418.8 47.4L418.3 48.4ZM413.3 56.5L413.3 55.7L413.8 55.5L414.2 55.8L414.3 56.5L413.8 56.8ZM411.8 71.2L412.0 70.6L412.6 71.1L412.3 71.7L411.7 72.1ZM416.4 90.0L415.6 90.0L414.8 89.1L415.5 88.2L416.5 87.6L416.6 89.0ZM425.2 76.5L424.7 76.4L424.7 75.7L425.1 75.4L425.7 75.9ZM416.7 76.0L417.8 75.0L418.6 76.5L417.4 77.5ZM431.5 53.4L431.4 54.3L430.5 54.7L430.5 53.2ZM428.2 50.7L427.4 51.0L426.8 50.9L427.0 50.0L427.7 49.8ZM435.1 62.6L435.6 63.6L435.5 64.5L434.9 64.9L434.0 64.5L434.2 63.2ZM432.0 55.5L431.5 55.4L431.2 54.6L431.8 54.1L432.4 54.4L432.8 55.3ZM411.4 62.3L411.8 61.5L412.5 61.6L413.0 62.5L412.3 63.0L411.7 63.0ZM432.3 80.0L432.5 80.2L432.5 80.6L432.2 80.8L431.7 80.7L431.9 80.1ZM432.7 78.0L433.2 79.0L432.8 79.6L432.1 79.1ZM425.6 62.3L425.9 62.9L425.7 63.5L425.0 64.3L424.4 63.2L425.0 62.3ZM431.3 48.7L430.8 48.7L430.7 48.2L431.1 47.8L431.8 48.0ZM417.0 90.4L417.6 90.8L418.0 91.6L417.3 91.9L416.7 92.0L416.8 91.2ZM412.0 76.6L412.5 76.3L412.9 76.8L412.6 77.6L412.1 77.2ZM428.4 63.6L428.0 63.7L427.7 63.1L428.1 62.5L428.5 63.0ZM412.4 91.3L412.1 90.3L412.0 89.4L412.7 89.4L413.4 89.7L413.1 90.6ZM431.1 61.1L431.8 63.2L430.2 64.1L430.0 62.4ZM422.1 86.0L422.8 86.3L422.6 87.4L421.6 87.1ZM408.8 56.5L409.7 56.3L409.7 57.5L409.1 58.0L408.6 57.4ZM429.9 76.2L430.3 76.7L429.8 77.0L429.2 76.4ZM432.4 71.6L431.0 70.6L432.1 69.5L433.2 70.0ZM413.4 74.3L412.3 73.6L412.9 72.4L413.7 72.3L414.2 73.4ZM411.7 90.0L412.6 90.9L412.1 92.4L411.1 91.3ZM421.5 55.8L422.0 55.9L422.0 56.5L421.6 57.2L421.1 56.5ZM406.8 62.0L407.5 61.1L408.2 61.6L408.8 62.4L408.1 63.3L407.3 63.1ZM429.0 85.1L428.4 85.3L428.0 85.2L427.5 84.5L428.2 84.1L428.9 84.1ZM417.6 66.2L417.4 67.0L417.0 67.8L416.4 66.9L416.8 66.0ZM413.1 82.4L413.6 82.1L414.0 82.4L413.8 83.2L413.2 83.0ZM429.1 67.1L429.0 67.8L428.3 68.7L427.6 67.7L427.8 66.4L428.8 66.1ZM408.4 59.4L407.8 58.8L407.9 58.1L408.4 58.4ZM406.5 73.6L405.8 72.8L406.0 71.8L406.7 71.2L407.4 71.9L407.4 73.2ZM421.9 49.3L421.8 48.0L422.7 48.5L422.7 49.4ZM429.1 48.9L429.0 50.0L428.2 50.4L427.9 49.7L427.8 48.9L428.4 48.5ZM412.0 53.5L411.0 53.9L410.8 52.7L411.5 52.6ZM423.8 48.1L424.6 48.6L425.2 49.4L424.7 50.5L423.7 50.5L423.1 49.2ZM409.1 80.1L410.0 79.9L410.4 81.1L409.5 81.0ZM426.8 60.1L426.8 61.4L425.9 61.9L425.6 60.9L425.9 60.2ZM426.1 51.5L424.5 51.2L425.0 49.2L426.6 49.5ZM408.7 79.6L408.0 79.9L407.5 79.0L408.4 78.7ZM413.4 92.4L413.7 91.7L414.3 91.9L414.1 92.6L413.8 93.0ZM406.6 77.3L406.6 76.2L407.3 76.1L407.5 76.7L407.4 77.4ZM416.7 92.5L415.9 93.4L415.0 93.1L414.8 91.9L415.5 91.5L416.2 91.3ZM409.3 88.1L408.9 87.2L409.2 86.3L409.9 86.7L410.5 87.9ZM428.1 55.2L427.3 55.7L426.9 54.6L427.8 54.2ZM420.5 54.3L419.9 53.5L420.3 52.4L421.3 52.6L421.4 53.9ZM414.4 76.4L415.1 76.1L415.6 76.8L414.9 77.1ZM411.5 79.9L410.8 78.9L411.3 77.6L412.5 77.9L412.3 79.2ZM416.2 93.2L416.0 92.3L416.7 92.3L417.1 92.7L417.1 93.3L416.7 94.0ZM413.1 83.5L413.4 83.1L414.0 83.2L413.8 84.0L413.3 84.0ZM424.1 79.4L424.5 80.7L423.6 80.7L423.4 79.9ZM413.8 60.1L414.8 59.0L415.8 59.5L416.0 61.1L414.8 61.1ZM412.4 86.4L411.2 84.9L412.5 83.5L413.7 85.1ZM420.4 82.4L419.0 82.8L418.7 81.4L419.6 81.1ZM415.2 69.9L414.8 70.3L414.4 69.6L414.9 69.3L415.4 69.3ZM423.8 86.3L422.8 85.9L423.0 84.9L423.6 84.2L424.4 85.1ZM429.5 52.7L429.4 53.7L428.7 53.2L428.4 52.4L429.1 51.9ZM407.4 76.1L407.8 76.6L407.6 77.3L407.0 77.7L406.5 77.0L406.8 76.3ZM423.9 67.8L424.7 67.5L425.1 68.7L424.2 68.6ZM421.5 89.9L422.1 89.9L422.8 90.1L422.5 91.0L422.0 91.2L421.3 90.9ZM430.1 53.9L430.5 52.7L431.4 53.2L431.9 54.1L431.6 55.5L430.3 55.3ZM415.6 51.5L415.3 50.0L416.2 49.6L416.9 50.9ZM433.1 73.4L431.9 72.2L433.2 70.7L434.1 72.4ZM419.9 87.2L421.3 87.3L421.2 88.8L420.5 89.9L419.8 88.7ZM415.8 52.4L415.9 51.9L416.4 51.9L416.7 52.6L416.2 53.0L415.9 52.8ZM434.9 51.4L435.2 52.5L434.9 53.3L433.6 53.8L433.9 52.0ZM415.5 48.4L416.2 49.6L415.4 50.9L414.2 49.5ZM408.4 63.7L407.7 63.0L407.8 61.8L408.8 61.8L408.9 62.8ZM432.2 57.4L431.6 57.5L431.2 56.8L431.8 56.1L432.2 56.8ZM422.7 72.1L422.1 72.5L421.3 72.5L421.5 71.6L421.9 70.9L422.6 71.1ZM407.8 59.4L407.9 58.6L408.6 58.6L408.7 59.3L408.6 59.8L408.1 60.1ZM432.0 68.8L432.9 68.6L433.7 68.5L433.9 69.6L433.1 69.8L432.6 69.7ZM408.9 61.0L409.5 61.3L409.1 61.9L408.5 62.0L408.6 61.2ZM412.7 62.6L412.3 61.8L412.8 61.3L413.3 61.2L413.6 61.8L413.5 62.8ZM431.4 53.6L430.3 53.4L430.5 52.1L431.7 52.1ZM420.0 59.8L419.2 59.8L418.9 58.6L419.8 58.0L420.5 59.0ZM415.0 53.1L415.3 51.6L416.3 52.7L416.2 54.2L415.1 54.0ZM410.6 82.4L411.3 82.2L411.9 83.1L411.2 83.7L410.5 83.4ZM411.0 76.6L410.5 76.1L410.1 75.2L410.8 74.6L411.4 75.3L411.6 76.1ZM427.4 60.6L426.6 61.9L425.5 61.5L425.8 60.3L426.5 59.5ZM427.6 82.7L426.9 83.8L426.3 82.6L426.7 81.7L427.3 81.8ZM412.8 55.1L412.3 54.7L412.4 54.0L413.1 54.1ZM415.1 82.4L415.6 81.6L416.5 81.2L416.8 82.4L416.3 83.4L415.3 83.7ZM424.0 57.1L423.9 58.6L422.5 58.3L422.2 56.6L423.4 55.8ZM430.7 53.6L431.0 53.0L431.2 53.6L431.3 54.4L430.6 54.2ZM428.5 83.9L429.3 84.8L428.7 86.2L427.6 86.2L427.0 84.9L427.7 84.0ZM426.9 80.5L427.5 80.6L427.8 81.4L427.4 82.3L426.7 81.9L426.7 81.1ZM408.7 58.5L409.4 58.9L409.4 60.6L408.3 59.9L407.5 58.7ZM427.4 72.2L427.2 70.9L428.2 70.9L428.5 71.8L428.0 72.4ZM412.9 89.8L413.6 88.3L414.7 87.5L415.2 89.2L414.3 90.3ZM432.6 51.1L431.9 52.5L430.7 51.9L431.1 50.7L431.9 49.7ZM413.5 73.0L412.6 72.7L412.5 72.0L413.4 71.4ZM416.9 48.8L417.2 49.5L416.9 50.8L416.2 49.8L416.3 48.9ZM427.0 78.0L427.7 76.8L428.6 77.4L428.9 78.8L427.8 78.7ZM420.0 87.6L419.8 88.0L419.4 88.2L419.4 87.6L419.7 87.3ZM410.8 54.2L410.9 52.4L412.4 52.9L412.7 54.8L411.4 54.8ZM429.6 50.1L428.9 50.6L428.3 50.3L428.5 49.7L429.0 49.4ZM410.5 80.2L410.2 80.3L409.8 80.1L410.2 79.7L410.5 79.4L410.7 79.9ZM416.8 76.4L417.4 75.7L418.0 76.6L417.3 77.5Z" fill="none" stroke="#111" stroke-width="0.52"/><path d="M428.1 59.3l-2.1 0.0M411.0 56.4l-1.9 0.5M424.6 51.6l1.8 0.8M432.9 71.5l1.1 1.4M426.2 59.1l1.3 0.5M409.2 69.9l-0.5 1.4M429.7 67.4l1.4 1.2M425.5 68.1l-0.1 1.0M423.6 80.5l-0.2 2.0M421.7 81.7l0.7 1.1M425.8 83.3l-0.7 2.0M423.7 50.7l0.1 2.2M434.2 75.1l-1.1 0.2M425.4 50.8l0.3 1.5M427.0 78.7l0.3 1.7M422.3 73.8l-0.6 1.5M418.5 85.3l1.2 1.9M425.5 51.4l1.1 1.3M422.1 48.5l1.8 1.3M419.1 92.0l-2.3 0.3M421.9 83.8l0.1 2.2M417.2 67.2l1.2 0.9M411.0 90.6l-1.0 0.3M412.8 51.9l-1.0 1.0M409.3 63.2l1.0 1.5M434.0 69.3l0.4 1.2M409.0 88.7l0.6 1.4M422.5 86.6l-1.7 1.0M417.9 47.6l0.6 2.1M424.2 72.4l1.3 0.4M413.4 51.2l1.8 1.0M409.3 56.0l-1.0 0.5M414.8 57.7l0.9 0.4M429.7 60.8l-0.5 1.4M430.3 57.2l1.4 0.5M422.6 65.6l-1.1 1.8M406.6 57.7l0.4 1.0M428.9 77.2l0.5 1.7M424.7 52.2l-1.6 1.5M421.4 50.3l-0.0 1.2M427.7 54.9l0.4 1.3M429.7 68.8l0.3 1.4M409.9 54.0l-0.9 1.8M433.1 65.5l1.1 0.3M410.5 81.8l-0.5 0.9M420.0 55.5l-1.7 0.7M414.5 82.4l0.4 1.3M417.6 79.6l2.2 0.5M413.1 54.6l1.4 1.1M411.4 69.4l1.5 1.0M412.3 75.2l1.0 0.2M432.1 67.2l0.2 2.0M434.2 48.7l-2.0 0.4M414.3 63.9l-1.0 1.3M423.4 78.0l-0.8 2.1M413.7 72.6l-1.9 0.4M430.2 76.0l1.3 1.8M432.4 50.4l1.7 0.1M429.5 63.4l0.4 1.0M425.5 63.1l0.6 0.8M418.1 87.8l0.9 0.8M427.5 73.9l1.5 0.5M413.6 70.3l2.3 0.0M423.9 44.5l-0.1 2.2M422.4 58.7l-1.9 0.5M414.4 86.9l0.5 1.9M431.9 73.4l0.2 1.9M428.6 81.1l-1.0 1.5M415.2 47.3l1.0 1.8M407.9 83.7l-1.3 1.8M435.1 63.0l-1.5 0.2M426.2 77.8l0.9 1.9M420.0 83.8l-1.6 1.1M425.3 49.7l1.5 1.7M410.2 73.2l1.4 1.4M407.8 74.6l-0.9 1.5M416.9 56.6l1.2 1.7M434.4 56.5l-1.4 0.3M411.3 53.4l1.4 0.3M433.6 61.3l2.2 0.2M419.5 54.8l0.8 0.6M430.1 77.9l1.8 0.6M407.5 70.5l1.0 1.0M411.2 56.3l-1.9 0.7M412.1 51.5l-1.0 0.2M411.1 52.5l-0.8 0.6M408.9 52.9l1.9 0.1M425.2 53.5l1.0 0.5M428.0 77.5l-0.7 1.5M411.8 65.6l0.6 1.2M414.6 71.2l-1.1 1.9M434.2 51.5l0.2 1.9M412.6 68.5l-0.4 1.9M433.4 74.2l1.4 0.7M412.9 78.5l1.1 1.3M410.7 92.7l2.1 0.4M410.5 79.8l-1.3 0.7M426.6 69.4l1.2 1.1M432.7 52.3l1.8 1.1M415.7 49.6l1.4 0.3M413.1 63.5l-0.4 1.1M431.8 66.1l-1.2 0.8M433.6 58.4l-0.6 1.9M418.8 70.4l0.8 1.7M426.2 62.3l-1.5 1.2M412.9 54.4l1.7 0.9M412.9 58.0l1.1 0.1M426.9 51.6l0.5 1.4M407.6 68.1l-0.9 1.2M413.4 58.9l-1.5 0.0M423.8 80.0l1.6 0.9M433.9 60.5l-1.1 0.9M420.9 48.7l0.6 1.7M407.5 76.6l-1.4 0.3M430.2 78.1l-1.0 0.1M409.0 58.8l1.6 1.1M408.6 60.1l-1.1 1.0M426.0 58.8l1.4 1.7M420.4 65.3l0.2 1.2M423.5 48.2l2.0 0.9M430.1 45.9l-1.1 0.0M409.5 90.5l1.2 0.5M415.9 66.6l-1.5 0.5M409.5 53.2l0.9 0.8M433.7 64.1l-0.7 0.7M420.3 46.9l-0.9 1.6M420.3 65.4l0.6 2.2M415.3 55.2l-1.2 1.2M434.5 68.2l-2.1 0.4M430.5 56.2l0.6 1.0M423.2 59.3l-1.7 0.8M431.9 61.7l-0.6 1.0M429.3 57.3l1.2 0.5M408.8 81.0l1.2 1.3M421.6 86.3l0.1 1.0M413.7 59.2l1.1 0.8M434.3 66.0l-0.3 1.0M421.4 57.0l0.3 1.0M422.1 59.9l1.2 1.5M410.1 55.4l-0.9 1.0M429.2 61.3l0.8 1.5M428.9 81.9l-2.0 0.8M428.1 59.7l1.3 1.8M433.9 69.2l-0.5 1.9M420.7 88.8l-0.3 2.2M434.2 70.1l-0.7 0.7M431.1 61.8l-1.0 0.6M423.6 79.6l-1.3 1.4M410.1 65.1l1.7 0.8M425.3 48.6l-0.6 1.9M412.3 64.1l0.3 0.9M426.2 51.8l-1.3 1.0M415.0 89.9l-1.3 1.8M417.9 74.9l0.9 1.5M414.9 86.5l0.0 1.3M432.4 63.3l1.9 1.1M420.7 71.9l0.0 1.2M415.8 62.8l-0.4 2.1M432.6 57.7l1.0 0.4M406.0 83.4l1.2 1.9M422.4 56.9l0.6 1.3M413.5 91.9l0.0 1.2M409.4 74.6l1.4 1.0M408.0 75.5l0.4 1.7M410.1 86.4l-0.7 1.3M420.9 55.3l1.8 0.7M422.6 89.0l-0.4 1.8M420.3 82.4l-0.1 1.3M430.7 46.8l0.7 1.3M415.3 57.2l1.9 1.2M426.4 67.2l0.4 1.8M414.8 65.8l-1.4 0.7M409.4 62.5l0.6 0.9M410.7 55.8l-0.2 1.3M409.2 78.6l0.6 1.9M428.8 66.1l-2.0 0.2M418.7 56.5l-0.6 0.7M429.5 49.3l-2.1 0.1M427.0 71.7l-0.2 1.0M423.7 85.1l1.6 1.6M425.7 48.1l-0.1 1.1M418.7 91.6l-2.0 0.5M434.6 58.0l-0.9 1.0M412.7 71.8l-0.9 0.6M426.1 56.7l-1.0 0.4M432.4 48.2l0.5 0.9M432.9 74.1l0.0 1.0M413.1 81.7l1.9 0.5M412.9 78.1l-1.0 1.4M421.8 81.2l-1.3 1.5M408.0 74.1l1.0 1.2M407.8 59.6l1.7 0.9M416.2 54.9l1.3 1.8M427.2 72.1l0.1 2.0M416.5 46.7l-0.2 1.6M429.8 56.6l0.3 1.4M410.7 56.4l-0.3 1.2M417.3 73.0l-0.4 1.2M436.2 65.9l-1.0 1.9M423.1 59.5l-0.4 2.2M429.5 75.0l1.5 0.7M412.7 67.5l1.1 0.5M426.9 65.0l-1.1 0.3M416.5 74.9l-0.3 1.6M426.0 57.3l1.7 1.4M425.5 85.0l-1.0 0.5M412.5 65.4l1.0 0.5M433.1 68.1l-1.0 0.1M427.8 53.2l0.4 1.8M425.5 67.4l1.1 0.0M433.5 61.2l1.7 0.6M417.4 68.6l1.0 1.4M409.3 63.9l-1.4 1.8M433.7 71.1l0.6 0.8M422.8 78.8l-0.6 1.1M416.0 71.3l-1.8 0.8M418.8 72.6l-1.2 1.4M412.9 55.7l-1.1 0.0M410.5 56.3l-0.1 1.9M417.5 92.2l-1.0 0.4M423.7 88.0l0.7 0.7M413.0 71.8l-1.2 1.1M415.6 59.3l-1.4 0.3M418.3 77.7l-0.8 1.3M428.2 83.5l0.4 1.4M429.1 67.1l0.1 1.0M412.1 65.7l1.6 1.4M427.2 79.9l0.8 0.8M411.3 67.9l-0.7 0.9M411.5 87.1l-1.1 0.3M434.5 57.6l-1.7 0.4M424.9 68.6l-1.3 0.3M410.4 56.3l0.8 1.4M411.7 65.7l1.2 0.5M432.4 71.2l-0.5 1.2M408.2 78.9l0.2 1.8M416.9 84.9l-2.3 0.1M432.7 73.3l-1.3 1.6M426.5 76.9l2.0 1.0M411.9 81.6l1.0 0.1M413.7 67.3l1.2 1.0M425.8 81.6l1.5 0.1M409.0 59.0l1.0 1.7M410.8 52.7l-1.1 0.3M433.6 74.2l-0.6 1.9M412.3 87.9l1.7 1.4M421.3 75.5l-0.3 1.8M431.2 45.6l-0.8 1.6M408.3 59.2l-1.1 0.3M409.2 79.1l-1.5 0.9M407.6 70.3l0.1 1.0M421.2 63.3l0.1 1.4M417.8 91.2l-0.6 1.1M418.4 67.1l-1.6 0.5M406.0 69.5l0.5 0.9M415.7 76.2l1.1 1.9M427.8 67.3l-0.2 1.2M433.2 56.7l1.2 1.2M406.9 81.6l1.7 1.1M416.2 89.1l0.1 1.8M425.1 50.7l0.9 0.8M406.6 72.6l1.2 0.4M432.2 75.4l1.2 1.4M435.8 56.3l-0.2 1.0M432.9 64.4l0.3 1.2M408.4 66.3l-1.3 1.5M429.0 79.0l0.1 1.1M415.7 81.6l-1.9 0.8M422.9 52.2l2.0 0.2M423.7 76.7l1.5 0.0M430.4 56.0l1.4 0.0M409.2 77.7l1.9 0.1M423.0 61.5l-1.8 0.8M424.5 72.0l-0.8 1.8M410.4 87.8l-1.7 0.7M409.3 74.1l0.8 0.8M419.3 79.7l0.4 1.9M415.5 76.3l-1.1 0.7M434.3 66.5l-0.8 1.3" fill="none" stroke="#111" stroke-width="0.5700000000000001"/><path d="M424.2 44.8L420.2 46.2L414.7 48.0L414.9 48.8L412.4 50.0L410.2 51.9L409.4 52.7L409.1 54.4L409.1 55.4L408.2 57.3L407.3 57.8L407.2 60.0L406.8 61.6L406.2 63.4L406.8 64.5L406.5 65.1L407.0 66.8L407.3 69.0L406.4 70.1L407.1 70.6L406.3 72.8L407.3 74.3L406.6 75.8L406.7 76.6L406.0 78.2L407.3 79.6L407.1 81.1L407.4 82.2L408.4 82.6L406.9 85.1L407.5 86.1L407.7 87.7L407.9 89.3L408.6 90.0L411.0 91.6L411.5 93.9L415.9 93.5L419.0 91.6L422.0 90.7L424.6 89.2L426.4 88.2L427.7 87.1L428.2 85.3L430.8 83.9L430.5 82.5L431.9 81.1L432.6 79.6L433.1 78.1L434.0 76.6L434.0 75.2L434.5 74.7L435.8 72.1L435.0 71.8L434.6 69.8L434.8 68.3L435.3 67.4L436.2 66.2L435.7 64.1L435.3 62.2L435.5 61.5L435.6 60.2L435.7 59.1L434.8 56.9L434.7 55.9L435.1 54.7L434.8 52.6L434.6 51.6L435.2 51.0L432.8 49.1L432.3 47.9L431.4 46.0L426.3 44.7ZM418.7 46.8L416.4 48.3L416.5 49.7L413.1 50.4L412.4 51.8L412.3 53.4L411.3 54.9L411.3 55.5L411.5 56.7L410.5 58.3L409.8 59.9L410.3 61.2L410.3 61.3L409.6 63.8L410.5 64.8L410.6 66.1L409.6 67.4L410.0 68.9L409.2 70.1L409.2 70.9L410.0 72.2L409.1 73.9L410.5 74.4L409.9 75.9L409.9 78.0L409.8 78.9L410.5 79.3L408.7 81.1L410.2 82.4L409.2 83.7L409.0 84.9L409.5 86.3L410.4 88.0L410.3 88.8L410.4 90.1L411.9 91.7L420.6 91.5L421.4 90.0L423.5 89.5L424.0 87.7L425.5 86.1L426.8 84.4L427.9 83.6L428.2 82.3L427.8 80.5L429.5 79.2L430.3 78.8L430.6 77.4L430.6 75.5L430.4 75.2L431.7 73.7L432.6 72.4L432.6 71.4L431.1 70.1L432.5 68.4L432.5 67.5L431.9 66.4L432.1 64.2L433.1 63.3L433.1 61.9L433.9 61.1L432.5 59.6L432.5 58.3L432.4 57.4L432.0 55.1L432.5 55.4L432.4 52.4L432.5 51.1L431.4 50.6L431.5 48.8L431.2 48.4L431.1 47.4ZM416.9 50.3L415.8 51.4L415.9 52.3L416.2 53.4L415.2 54.3L414.7 55.6L415.6 57.1L415.9 58.3L415.2 59.2L414.3 59.4L414.7 61.3L414.9 61.6L414.1 63.0L414.2 64.6L413.6 65.1L414.4 65.9L415.1 66.9L414.3 68.2L413.0 69.6L414.7 70.0L413.6 71.1L414.4 72.7L413.4 74.2L414.2 75.2L413.7 76.0L413.4 77.6L412.6 78.0L413.4 79.6L413.1 80.5L413.2 81.5L412.6 82.4L412.9 84.1L413.3 84.8L412.0 85.5L412.7 87.1L411.8 88.9L421.9 88.3L422.4 86.9L422.2 86.4L424.0 85.0L423.9 83.2L424.4 82.6L425.0 81.6L425.8 80.0L426.0 79.3L426.9 78.4L428.8 77.7L427.5 76.3L426.5 74.0L427.4 74.0L427.9 73.0L427.4 72.1L426.9 71.1L428.3 69.4L428.6 69.2L428.8 67.7L428.5 66.5L427.6 65.4L428.3 65.3L429.3 62.5L428.8 62.4L428.1 60.6L427.2 59.8L427.9 59.4L428.6 57.5L428.9 56.1L427.7 55.7L428.3 54.9L427.9 53.2L429.0 52.4L428.3 51.4L429.2 50.2Z" fill="none" stroke="#222" stroke-width="0.5700000000000001"/><path d="M397.5 81.2h0.7M437.9 61.0h0.7M400.9 65.5h0.7M443.2 73.4h0.7M438.2 45.9h0.7M403.6 78.9h0.7M397.7 61.1h0.7M440.7 52.7h0.7M431.7 83.3h0.7M397.7 78.6h0.7M431.2 87.9h0.7M405.6 89.1h0.7M434.3 48.0h0.7M437.3 45.7h0.7M398.9 58.7h0.7M403.4 54.2h0.7M402.2 56.7h0.7M439.1 77.4h0.7M436.2 46.8h0.7M441.8 55.7h0.7M440.0 63.3h0.7M415.6 47.0h0.7M401.8 57.7h0.7M418.6 45.5h0.7M439.4 55.4h0.7M436.9 49.4h0.7M429.1 90.8h0.7M399.0 59.2h0.7M438.5 66.3h0.7M431.7 90.7h0.7" fill="none" stroke="#444" stroke-width="0.7"/></g>
</g>
<g>
<rect x="248.00" y="112.40" width="60.50" height="58.00" fill="none" stroke="#555" stroke-width="0.9"/>
<line x1="247.8" y1="112.4" x2="247.8" y2="171.4" stroke="#222" stroke-width="1.5" stroke-linecap="butt"/>
<line x1="247" y1="170.6" x2="308.5" y2="170.6" stroke="#222" stroke-width="1.4" stroke-linecap="butt"/>
<path d="M248.0 170.4v2.2M248 170.4h-2.2M263.1 170.4v2.2M248 155.9h-2.2M278.2 170.4v2.2M248 141.4h-2.2M293.4 170.4v2.2M248 126.9h-2.2M308.5 170.4v2.2M248 112.4h-2.2" stroke="#222" stroke-width="0.8" fill="none"/>
<path d="M252.5 170.4v1.3M248 166.1h-1.3M255.3 170.4v1.3M248 163.4h-1.3M257.1 170.4v1.3M248 161.7h-1.3M258.6 170.4v1.3M248 160.2h-1.3M259.8 170.4v1.3M248 159.1h-1.3M260.9 170.4v1.3M248 158.1h-1.3M261.6 170.4v1.3M248 157.3h-1.3M262.4 170.4v1.3M248 156.6h-1.3M267.7 170.4v1.3M248 151.6h-1.3M270.4 170.4v1.3M248 148.9h-1.3M272.2 170.4v1.3M248 147.2h-1.3M273.7 170.4v1.3M248 145.8h-1.3M274.9 170.4v1.3M248 144.6h-1.3M276.0 170.4v1.3M248 143.6h-1.3M276.7 170.4v1.3M248 142.9h-1.3M277.5 170.4v1.3M248 142.1h-1.3M282.8 170.4v1.3M248 137.1h-1.3M285.5 170.4v1.3M248 134.4h-1.3M287.3 170.4v1.3M248 132.7h-1.3M288.8 170.4v1.3M248 131.2h-1.3M290.0 170.4v1.3M248 130.1h-1.3M291.1 170.4v1.3M248 129.1h-1.3M291.9 170.4v1.3M248 128.4h-1.3M292.6 170.4v1.3M248 127.6h-1.3M297.9 170.4v1.3M248 122.6h-1.3M300.6 170.4v1.3M248 119.9h-1.3M302.4 170.4v1.3M248 118.2h-1.3M304.0 170.4v1.3M248 116.8h-1.3M305.2 170.4v1.3M248 115.6h-1.3M306.2 170.4v1.3M248 114.6h-1.3M307.0 170.4v1.3M248 113.9h-1.3M307.7 170.4v1.3M248 113.1h-1.3" stroke="#333" stroke-width="0.5" fill="none"/>
<text x="275.2" y="111.1" font-size="3.6" text-anchor="middle" fill="#222" font-weight="bold">Data.007</text>
<text x="275.2" y="180.0" font-size="3.6" text-anchor="middle" fill="#222" font-weight="bold">FL1-H</text>
<text transform="translate(238.8 144.4) rotate(-90)" font-size="4.2" text-anchor="middle" fill="#444">FL2-H</text>
<text x="245.8" y="176.6" font-size="4" fill="#111" font-weight="bold">10<tspan dy="-1.6" font-size="2.8">0</tspan></text>
<text x="240.4" y="173.0" font-size="4" fill="#111" font-weight="bold">10<tspan dy="-1.6" font-size="2.8">0</tspan></text>
<text x="260.9" y="176.6" font-size="4" fill="#111" font-weight="bold">10<tspan dy="-1.6" font-size="2.8">1</tspan></text>
<text x="240.4" y="158.5" font-size="4" fill="#111" font-weight="bold">10<tspan dy="-1.6" font-size="2.8">1</tspan></text>
<text x="276.1" y="176.6" font-size="4" fill="#111" font-weight="bold">10<tspan dy="-1.6" font-size="2.8">2</tspan></text>
<text x="240.4" y="144.0" font-size="4" fill="#111" font-weight="bold">10<tspan dy="-1.6" font-size="2.8">2</tspan></text>
<text x="291.2" y="176.6" font-size="4" fill="#111" font-weight="bold">10<tspan dy="-1.6" font-size="2.8">3</tspan></text>
<text x="240.4" y="129.5" font-size="4" fill="#111" font-weight="bold">10<tspan dy="-1.6" font-size="2.8">3</tspan></text>
<text x="306.3" y="176.6" font-size="4" fill="#111" font-weight="bold">10<tspan dy="-1.6" font-size="2.8">4</tspan></text>
<text x="240.4" y="115.0" font-size="4" fill="#111" font-weight="bold">10<tspan dy="-1.6" font-size="2.8">4</tspan></text>
<g filter="url(#soft)"><path d="M267.2 124.4L267.6 124.3L267.9 124.6L267.9 125.2L267.4 125.2L267.2 124.9ZM276.0 138.0L275.4 138.9L274.5 138.1L275.3 136.8ZM269.4 118.8L269.2 119.8L268.1 119.6L268.4 118.4L269.1 117.6ZM264.1 145.1L264.7 144.7L265.2 144.7L265.7 145.5L265.1 146.3L264.3 146.1ZM271.9 129.0L271.6 127.4L272.5 126.4L273.5 127.4L273.0 128.5ZM274.4 123.1L275.3 122.3L275.8 123.4L275.9 124.4L275.1 125.1L274.1 124.5ZM266.8 154.5L266.7 155.6L265.8 155.4L266.0 154.2ZM268.2 130.6L267.8 131.5L267.0 131.9L266.7 130.6L267.5 129.9ZM268.5 126.0L269.7 126.2L269.6 127.7L268.6 127.4ZM274.6 124.8L274.9 124.1L275.5 124.7L275.0 125.4ZM259.7 151.1L258.9 152.0L258.1 152.1L257.5 150.8L258.6 150.5ZM274.3 138.8L274.2 139.4L273.8 139.6L273.2 139.4L273.2 138.4L274.0 138.2ZM259.0 131.7L259.7 132.8L259.3 134.2L258.3 133.6L257.8 132.3ZM257.5 137.2L257.5 138.0L257.2 138.4L256.6 138.3L256.9 137.5ZM255.8 141.9L256.6 141.6L257.2 141.4L257.2 142.2L257.0 143.2L256.2 142.9ZM270.5 117.5L269.8 118.0L269.4 117.1L269.7 116.3L270.3 116.7ZM256.2 141.6L255.5 141.0L255.8 139.9L256.6 139.9L257.2 140.6L256.9 141.5ZM269.4 137.7L269.1 136.7L269.9 136.1L270.2 137.2ZM267.6 137.9L268.7 139.1L268.6 140.8L267.5 139.7ZM260.7 130.8L260.2 131.5L259.7 131.5L259.2 130.7L260.0 130.6ZM271.3 121.5L270.9 120.7L271.0 119.7L271.7 120.0L272.4 120.3L272.1 121.4ZM271.5 129.5L272.0 130.0L272.1 130.6L271.8 131.1L271.2 130.9L270.8 130.1ZM267.8 144.8L267.3 144.8L266.8 144.3L267.3 143.8L267.8 143.7L268.5 144.2ZM261.4 147.5L261.3 146.5L262.3 145.9L262.9 147.4L262.0 148.3ZM265.4 120.6L265.9 120.5L266.2 121.2L265.6 121.3ZM262.9 126.3L263.3 127.2L262.6 127.5L262.0 127.0L262.3 126.1ZM272.7 116.8L273.1 117.0L273.5 117.7L273.0 118.6L272.2 118.2L272.4 117.3ZM260.7 162.7L261.3 161.4L261.7 162.7L261.9 164.1L260.7 163.8ZM275.1 131.0L275.2 131.7L274.5 131.8L274.2 130.8L274.8 130.4ZM274.6 115.4L274.2 116.5L273.4 115.9L273.8 114.6ZM266.3 145.7L267.4 146.9L266.5 148.2L265.6 147.2ZM257.8 134.4L257.9 136.0L257.1 136.2L256.6 135.1ZM258.9 161.5L259.5 161.5L259.7 162.6L258.7 162.5ZM256.0 142.5L256.1 141.9L256.6 141.2L257.1 142.1L256.5 142.6ZM257.5 135.6L258.6 135.3L259.1 136.4L258.7 137.2L258.1 137.8L257.2 137.0ZM269.7 145.7L270.2 145.1L270.7 145.4L270.9 146.4L270.1 146.6ZM257.8 144.3L258.7 144.2L258.6 145.5L257.9 145.5L257.1 145.0ZM274.3 117.0L274.6 117.8L273.9 118.3L273.6 117.3ZM259.1 156.0L260.1 155.4L260.7 156.5L259.9 156.8ZM260.1 138.0L260.7 137.0L261.5 137.1L261.2 138.3ZM263.8 129.0L263.8 128.4L264.3 128.5L264.7 128.7L264.5 129.2L264.1 129.2ZM255.6 157.0L255.1 155.2L256.4 154.9L256.8 156.2ZM271.6 136.1L272.5 135.5L273.0 136.9L272.1 137.6L271.2 137.2ZM266.0 121.2L266.9 121.8L266.3 122.4L265.7 122.4ZM266.5 118.5L267.0 119.2L266.5 120.0L265.8 119.7L265.6 119.0L265.9 118.4ZM274.6 139.1L273.9 139.8L273.6 138.7L274.4 137.7ZM257.9 164.0L258.2 163.1L259.3 163.1L258.9 164.8ZM268.2 149.4L268.1 148.0L269.3 147.9L269.5 149.2L269.0 150.1ZM264.4 133.8L265.1 132.9L265.6 133.6L265.2 134.2ZM272.2 124.1L271.7 124.7L271.5 123.9L271.6 123.3L272.2 123.4ZM267.8 131.4L266.6 130.3L267.2 128.7L268.4 129.6ZM262.4 154.6L262.8 155.5L262.0 156.1L261.4 155.2L261.7 154.2ZM272.1 142.4L271.1 141.6L271.9 140.7L272.8 141.4ZM258.5 135.5L259.2 135.6L259.2 136.4L258.5 136.7ZM260.8 158.2L261.2 158.8L261.0 159.7L260.3 159.8L259.8 159.0L260.4 158.6ZM259.3 160.0L260.4 159.2L260.3 160.9L259.1 161.7ZM256.6 154.2L255.8 154.2L255.5 153.0L256.4 152.6L256.9 153.4ZM269.7 137.1L270.0 135.5L271.1 135.9L270.9 137.2ZM272.9 132.2L271.9 132.0L272.1 130.8L272.9 131.0ZM256.7 158.9L255.5 159.0L255.2 157.2L256.8 157.0ZM263.1 125.2L262.3 125.3L261.9 124.5L262.6 124.2ZM269.3 150.0L270.3 149.8L270.1 150.8L269.6 151.0ZM272.5 138.9L273.2 139.3L273.1 140.4L272.3 140.8L271.7 140.0L272.0 139.2ZM265.8 137.0L265.1 137.0L264.7 136.1L265.6 136.0ZM272.5 135.1L272.0 135.9L271.6 135.0L271.6 134.4L272.0 133.6L272.6 134.3ZM261.7 140.6L261.5 141.2L261.0 141.1L261.2 140.5ZM274.8 113.0L275.0 114.2L274.5 115.0L273.8 114.8L272.9 113.8L273.8 112.8ZM258.4 159.7L258.7 158.9L259.4 158.7L259.5 159.6L259.4 160.2L258.9 160.1ZM262.9 155.4L263.6 155.3L264.1 156.4L263.1 156.3ZM274.7 123.2L275.2 122.4L275.8 122.9L275.5 123.7ZM265.6 141.6L264.6 140.8L264.8 139.1L266.0 139.5L266.7 140.8ZM260.3 136.7L260.1 138.0L259.9 139.2L258.8 139.1L258.9 137.8L259.2 136.6ZM259.7 136.3L260.3 138.3L259.0 138.7L258.2 138.1L258.2 136.4ZM266.9 119.6L266.1 118.3L267.2 117.5L267.8 118.3L267.8 119.4ZM268.3 152.9L268.3 153.8L267.4 154.0L267.1 152.7L268.0 151.9ZM274.6 135.3L274.4 136.2L273.6 136.1L273.2 134.8L274.2 134.3ZM269.0 142.1L268.6 143.5L267.7 142.6L267.8 141.8L268.5 140.7ZM276.4 123.5L276.3 124.9L275.5 125.1L274.8 124.3L275.5 123.7ZM260.2 157.6L259.3 156.5L260.1 155.6L261.1 155.6L261.0 156.9ZM269.5 148.9L268.9 148.8L268.3 148.3L268.6 147.4L269.3 147.4L269.6 148.1ZM269.2 148.5L269.5 147.1L269.9 146.2L270.5 146.8L271.1 147.7L270.4 148.7ZM269.9 148.2L270.6 149.1L270.8 150.2L269.8 150.5L269.4 149.4ZM266.0 119.9L266.4 120.3L266.2 121.0L265.5 120.8L265.5 120.0ZM264.5 158.2L265.4 157.6L265.9 158.7L265.0 160.0ZM264.8 158.7L264.1 157.7L265.0 156.9L265.7 157.6L265.4 158.4ZM275.0 119.3L275.9 119.0L276.3 120.2L275.5 121.0L274.6 120.3ZM274.9 127.8L275.7 128.7L275.2 129.9L274.3 129.9L273.8 129.1L274.0 128.0ZM260.5 153.5L261.3 153.1L261.8 153.7L261.3 154.0ZM261.8 160.4L261.4 161.6L260.8 162.1L260.1 161.5L260.2 160.6L260.8 160.2ZM260.4 143.1L259.9 142.2L260.1 141.2L260.8 141.2L261.2 141.7L261.0 142.4ZM262.8 131.9L261.8 132.3L261.9 130.9L262.9 130.6ZM268.2 149.3L268.1 148.7L268.1 148.0L268.6 148.0L268.9 148.5L268.9 149.3ZM270.5 139.1L270.8 140.4L269.9 141.1L269.2 140.3L269.4 138.8ZM272.7 119.6L271.1 119.8L271.2 117.6L272.5 117.9ZM267.7 129.2L266.1 129.5L265.9 127.2L267.6 127.1ZM264.3 125.2L263.7 126.7L262.8 126.3L262.1 125.2L263.2 124.4ZM270.2 136.9L270.3 136.4L270.7 136.0L271.3 136.5L271.0 137.2L270.5 137.5ZM274.4 124.7L274.8 124.3L275.2 124.0L275.5 124.5L275.3 125.1L274.8 125.2ZM258.6 151.5L258.6 152.3L258.3 152.7L257.7 153.0L257.6 152.1L257.9 151.5ZM262.6 133.2L262.3 133.7L262.0 133.5L261.9 133.1L262.3 132.8ZM272.9 137.5L273.3 136.8L273.8 137.3L273.4 138.0ZM260.0 163.9L259.8 163.1L260.3 163.0L260.8 163.7ZM263.8 123.7L264.6 123.3L265.8 123.5L265.1 124.8L264.5 125.2L263.3 125.1ZM266.6 120.1L266.3 121.5L265.0 120.8L265.8 119.5ZM260.8 132.4L261.2 133.3L260.4 133.6L259.8 133.3L259.7 132.4L260.3 132.0ZM270.9 116.5L270.6 117.4L269.9 117.1L270.0 116.1ZM265.3 124.6L265.0 124.1L265.2 123.5L265.8 122.8L266.4 123.7L265.9 124.5ZM270.2 148.4L269.6 149.6L268.6 149.3L268.4 148.0L269.4 147.5ZM262.4 162.3L262.5 161.6L262.9 161.2L263.3 161.6L263.3 162.2L262.9 162.3ZM271.6 133.5L271.1 134.2L270.7 133.7L270.4 133.1L271.0 133.1ZM258.4 161.6L259.3 161.9L259.6 162.9L259.1 163.9L258.4 163.4L258.1 162.7ZM260.2 164.4L259.5 164.0L258.8 163.0L259.9 162.6L260.5 162.9L260.9 163.8ZM262.3 156.6L261.5 155.2L262.5 154.1L263.7 155.6ZM257.1 143.7L256.4 143.7L255.8 143.0L256.5 142.3L257.0 142.8ZM274.8 130.4L275.7 130.9L276.1 132.0L275.4 132.9L274.7 132.2L274.2 131.5ZM261.3 139.1L261.8 138.8L262.3 139.3L261.9 140.3L261.3 139.8ZM271.8 126.3L272.0 127.5L271.2 128.3L270.1 127.5L270.6 125.9ZM265.9 121.3L265.4 120.1L265.9 119.1L266.7 119.6L266.7 120.5ZM268.5 124.6L268.1 125.4L267.3 125.2L267.0 124.3L267.6 124.0L268.2 123.8ZM263.8 123.5L264.3 123.3L265.0 123.4L264.7 124.3L264.2 124.7L263.4 124.4ZM258.0 133.2L258.6 133.6L258.5 134.4L257.8 134.1ZM269.4 148.5L270.1 148.2L270.3 148.9L270.3 149.3L269.9 149.9L269.5 149.4ZM259.7 133.3L259.4 134.3L258.6 135.2L257.9 133.8L258.9 133.2ZM259.1 143.9L259.7 143.7L260.1 144.5L259.3 144.8ZM264.0 159.7L263.1 159.4L263.3 158.1L264.3 158.5ZM272.1 137.2L272.6 137.3L273.3 137.8L272.6 138.5L272.0 138.2L271.7 137.7ZM258.3 134.5L258.8 135.0L258.7 135.8L258.1 136.2L257.7 135.5L257.7 134.7ZM270.6 117.1L269.8 116.6L269.9 115.1L270.9 115.5L271.2 116.5ZM270.5 144.8L270.7 145.4L270.2 145.7L269.7 145.7L269.6 144.9L270.0 144.2ZM266.8 137.9L266.4 137.5L266.9 137.0L267.3 137.3L267.5 137.9L267.1 138.2ZM262.1 144.1L262.6 143.7L262.7 144.4L262.8 145.1L262.3 145.0L262.1 144.6ZM274.8 123.5L274.3 122.2L275.4 121.7L276.2 122.5L275.9 124.3ZM262.8 158.9L262.6 160.5L261.6 160.2L261.6 158.7ZM273.7 116.9L273.5 115.4L273.9 114.3L275.1 114.7L274.5 115.9ZM266.9 128.6L266.5 128.0L267.1 127.4L267.8 127.9L267.5 128.6ZM275.1 126.7L275.5 125.8L276.5 126.6L275.7 127.6ZM269.9 134.5L269.9 133.0L270.1 131.7L271.1 132.2L271.5 133.1L271.0 134.0ZM257.5 135.5L257.9 137.1L256.4 137.4L256.2 135.6ZM257.7 156.6L257.4 157.6L256.8 157.6L256.5 156.3ZM257.5 143.2L256.6 144.5L255.7 142.6L257.0 142.3ZM275.7 122.9L275.3 122.0L276.0 121.5L276.9 122.6ZM275.8 126.3L276.4 127.1L275.6 127.1L275.1 127.0L274.7 126.1L275.4 125.5ZM259.1 139.1L258.8 140.5L257.3 140.4L257.8 138.1ZM259.3 142.8L259.6 143.5L259.1 143.7L258.5 143.7L258.7 142.9ZM267.2 135.3L266.8 136.0L266.0 135.6L266.5 134.3ZM275.0 134.3L274.3 133.7L275.2 133.1L275.7 134.0ZM261.5 164.6L260.3 164.8L259.8 163.7L260.3 162.5L261.0 163.3ZM261.3 142.2L262.7 143.2L262.0 144.7L261.0 144.0ZM266.2 158.9L265.4 158.8L265.0 158.2L264.9 157.1L265.9 156.5L266.8 157.7ZM262.9 128.6L263.3 128.5L263.8 128.6L263.6 129.3L263.2 129.6L262.8 129.2ZM274.6 133.0L274.4 133.7L273.7 133.2L274.0 132.5L274.5 132.2ZM269.7 124.0L269.1 124.0L269.1 123.3L269.7 123.1ZM271.5 116.8L271.2 116.1L271.4 115.0L272.5 114.9L272.8 116.3L272.0 116.8ZM259.4 128.9L259.2 127.7L259.7 126.5L260.7 126.9L261.1 128.2L260.3 128.8ZM271.6 120.1L271.7 121.5L270.7 122.2L269.9 121.1L270.6 120.2ZM268.4 146.9L268.0 145.6L267.9 144.5L268.9 144.7L269.4 146.0ZM264.3 152.9L263.6 151.5L265.0 151.2L265.1 152.4ZM270.2 126.4L269.7 126.8L269.2 126.9L269.0 126.2L269.4 125.7L269.9 125.6ZM256.4 156.5L257.1 157.0L256.5 157.6L255.8 157.3ZM271.3 134.3L271.8 133.8L272.5 134.1L272.0 135.0ZM272.0 138.7L272.8 139.7L272.2 141.1L270.8 139.9ZM260.1 130.8L260.6 130.7L261.0 131.4L260.5 131.8L260.2 131.5ZM270.4 121.2L270.2 120.4L270.8 120.2L271.2 121.1ZM262.1 139.7L262.7 139.1L263.0 140.0L262.5 140.4ZM272.3 144.2L272.5 144.8L272.2 145.3L271.6 145.1L271.5 144.5L271.8 143.9ZM275.0 118.0L274.4 118.8L273.8 118.8L273.2 117.8L274.2 117.3ZM261.6 132.8L261.9 134.3L260.8 134.7L260.3 133.2ZM258.4 152.3L259.1 151.3L260.2 152.1L259.7 153.5L258.6 153.7ZM267.7 129.7L267.7 129.0L268.3 129.0L268.3 129.7ZM266.4 150.4L266.9 151.0L266.8 151.7L266.3 152.2L266.0 151.6L266.0 151.0ZM269.0 127.4L268.6 126.8L268.5 126.1L269.1 125.6L269.5 126.2L269.5 126.8ZM259.7 159.2L259.7 158.2L260.5 157.4L261.5 158.2L261.1 159.6L260.3 159.8ZM268.3 150.4L268.8 150.6L268.6 151.3L268.3 151.7L267.6 151.5L267.6 150.5ZM273.2 140.3L272.2 139.9L272.6 138.6L273.7 138.9ZM261.1 145.6L261.5 146.5L261.7 147.4L261.0 147.7L260.4 147.3L260.2 146.2ZM268.9 126.7L269.6 126.5L269.8 127.3L269.1 127.8ZM265.4 138.1L266.1 138.0L266.3 138.9L265.6 138.7ZM259.4 155.7L260.1 155.1L261.1 155.9L260.3 156.9L259.6 157.7L258.6 156.8ZM260.1 160.4L259.5 159.5L259.2 158.2L260.3 157.6L260.9 158.7L260.8 159.6ZM264.3 153.3L263.8 153.9L262.9 153.8L263.0 152.3L263.9 152.7Z" fill="none" stroke="#111" stroke-width="0.5"/><path d="M261.4 129.8l2.0 0.7M267.2 119.1l1.8 1.3M267.5 151.1l-1.8 0.6M256.5 142.4l0.7 1.3M267.3 143.4l0.7 1.3M257.6 152.7l-0.8 0.7M263.4 126.8l1.6 1.3M264.6 134.5l-1.6 1.0M258.2 142.1l-1.0 2.0M265.0 157.3l-0.9 1.6M270.6 121.0l-1.1 0.1M256.7 136.7l0.5 1.6M258.2 161.7l-1.4 1.8M264.8 153.4l1.6 0.0M256.3 146.7l-0.9 0.8M259.0 161.2l1.3 0.8M273.1 123.0l-0.9 0.6M263.6 158.3l0.5 1.0M265.4 145.0l-1.9 0.3M263.2 122.1l0.5 2.1M257.4 159.3l2.0 0.7M273.1 140.1l-0.6 1.9M265.0 131.7l-1.7 1.0M268.9 149.3l1.3 1.8M263.5 126.8l1.3 1.5M257.3 141.6l-0.9 0.5M263.6 127.5l-0.9 2.0M256.4 141.7l1.8 0.4M262.5 140.5l-0.9 1.6M271.8 129.0l-0.8 0.7M264.1 136.4l2.1 0.3M271.3 144.6l1.1 0.2M266.7 155.4l-1.3 0.2M257.6 152.7l1.0 1.3M267.2 155.3l-1.7 1.5M274.3 136.2l0.4 1.3M266.1 147.6l0.1 1.2M259.0 147.0l-0.5 1.8M263.2 157.2l0.1 2.0M259.8 129.0l2.2 0.6M261.9 142.9l-1.3 0.3M261.3 134.9l1.6 1.0M275.9 117.2l-1.0 0.3M258.3 133.3l-0.1 1.0M259.7 161.0l1.2 0.8M270.7 144.0l-0.5 1.4M256.4 143.6l2.0 0.6M275.2 123.2l-0.6 0.8M271.0 118.9l-0.8 1.8M260.8 140.5l-1.9 1.1M262.6 160.0l1.6 1.5M261.1 145.4l0.1 2.2M260.3 129.4l-0.0 1.0M267.4 124.1l0.6 1.4M268.8 131.8l1.1 1.5M274.7 118.7l1.5 1.3M255.5 145.2l1.8 0.6M256.2 137.0l0.3 1.3M256.9 149.7l0.6 0.9M269.3 152.2l-1.5 0.3M265.1 120.6l-0.5 0.9M264.8 158.1l-2.1 0.6M274.1 120.3l-0.1 1.0M269.5 142.9l-0.1 1.6M267.3 122.0l1.9 1.3M267.6 118.5l-0.1 1.5M266.1 139.6l0.5 1.4M263.2 132.4l-0.6 1.5M271.7 116.1l0.5 2.0M268.5 127.5l1.0 1.7M259.5 137.8l0.9 0.7M262.1 125.1l1.2 1.7M258.6 155.8l0.1 1.1M265.2 151.6l-1.9 1.2M263.1 141.6l1.2 0.9M265.4 154.7l1.6 0.4M258.3 140.8l-1.2 0.1M260.3 133.2l0.7 0.8M259.9 133.8l-2.0 0.7M266.0 155.5l-0.2 1.7M270.3 148.2l-1.1 0.3M257.1 150.1l1.9 0.7M269.2 132.9l0.3 2.1M273.9 119.4l1.9 1.0M269.4 147.7l1.0 0.9M260.9 133.2l0.5 1.2M260.6 130.0l-1.1 1.1M265.7 120.0l1.7 0.7M265.5 121.7l-1.0 0.7M272.4 140.4l2.0 0.7M261.6 143.0l-1.4 0.1M261.8 136.2l0.0 1.2M272.6 133.0l2.1 0.9M276.1 122.2l-1.0 0.2M273.5 134.2l-0.4 1.7M262.4 124.5l-1.0 1.0M275.7 118.9l-1.5 1.0M257.3 154.3l0.7 0.9M261.4 130.6l1.0 0.5M273.3 117.7l0.4 1.2M257.3 150.9l1.3 0.5M258.8 163.3l-1.0 1.1M267.7 144.2l-1.9 0.9M274.0 121.8l-1.6 1.2M269.2 143.4l0.1 1.0M269.8 137.4l-0.9 1.8M258.9 137.4l-1.2 1.1M265.2 121.4l0.4 1.6M258.1 134.6l2.2 0.4M274.9 131.5l-1.3 1.4M271.6 147.7l-2.1 0.8M273.7 120.8l1.1 0.7M271.8 133.1l0.2 2.2M275.9 124.9l-1.2 0.6M257.4 138.3l0.5 1.4M260.9 126.7l1.7 1.0M262.0 140.1l-0.2 1.4M266.6 118.1l0.1 2.1M261.2 140.0l1.3 0.5M263.4 152.8l-0.3 1.7M256.4 148.6l0.3 1.0M272.5 130.3l-1.7 0.9M274.6 139.0l-1.6 1.5M259.3 160.1l1.3 1.7M260.0 131.8l-1.3 1.8M261.7 138.9l0.3 2.2M261.5 142.5l-1.5 0.1M270.6 129.4l-1.9 0.1M259.2 136.8l-0.6 0.9M258.0 143.2l-0.6 0.8M269.7 150.4l-1.1 1.3M259.6 162.3l1.8 1.3M272.4 118.6l0.7 2.0M274.3 132.4l0.7 0.8M273.8 133.8l1.5 0.8M271.4 140.4l-1.8 0.7M275.3 129.5l-1.1 0.3M256.6 148.8l-1.2 1.2M257.1 137.5l0.4 1.1M265.6 140.9l1.8 0.4M268.7 148.9l-1.5 1.7M257.6 156.6l1.9 0.4M257.2 155.0l-1.9 1.1M264.8 135.0l-1.2 0.9M272.1 115.2l-0.8 1.7M262.5 124.2l1.0 0.1M258.8 143.9l-1.3 0.1M255.9 143.0l-1.1 1.6M259.8 149.4l-1.6 0.5M268.8 119.8l-1.8 0.6M257.0 140.0l-0.1 2.0M273.8 134.5l-1.4 0.7M267.9 119.6l-0.5 1.4M260.7 128.9l-1.1 1.7M267.2 133.1l-0.9 0.8M268.6 129.7l0.8 2.1M270.9 136.5l-0.9 0.5M270.7 144.9l0.0 2.2M272.4 126.6l-0.4 1.6M268.9 143.0l-1.0 1.4M257.4 152.3l-0.4 2.1M265.1 122.5l0.4 1.3M264.3 124.8l1.4 0.4M260.3 138.4l-0.1 1.5M270.5 129.6l1.1 1.5M271.4 132.8l0.1 1.5M270.7 122.1l1.0 1.8M264.6 136.3l-0.8 1.0M275.2 130.0l-1.3 1.4M275.2 118.9l-0.1 1.0M271.9 115.5l1.2 1.9M274.2 131.1l0.1 1.1M267.7 151.9l1.2 0.2M268.3 117.3l1.1 0.3M264.6 142.6l-1.8 1.3M257.9 131.4l1.5 0.9M259.8 127.4l0.1 1.6M257.8 148.8l-0.4 1.9M263.1 150.5l0.5 1.4M258.7 135.0l-0.1 1.2M274.0 140.7l-1.0 0.6M258.9 152.5l0.0 1.7M272.1 127.4l0.4 1.2M256.5 147.2l-0.9 1.0M268.0 151.2l-0.9 0.5M259.5 143.5l-0.1 1.1M262.9 125.0l0.9 1.6M267.1 153.3l0.3 1.8M267.3 151.6l1.4 0.9M271.5 116.5l1.5 1.3M257.0 154.5l1.2 0.4M270.8 134.2l-0.4 1.7M256.3 138.9l1.2 0.1M273.8 133.4l-1.0 0.5M269.9 147.8l-0.2 1.8M274.5 117.4l0.4 1.4M257.3 137.7l-1.1 1.4M256.4 142.5l1.5 0.3M275.1 116.2l-1.8 1.0M256.9 140.7l-1.1 0.5M269.1 140.8l-0.1 1.0M272.6 117.6l-2.0 0.7M272.0 115.8l-1.0 0.7M260.2 140.7l-0.7 1.0M274.3 127.1l-1.1 1.8M263.1 124.6l-0.7 1.0M276.3 122.9l-1.5 0.3M265.7 130.1l-0.2 2.0M274.1 117.6l-0.3 1.6M261.8 130.4l-1.9 0.2" fill="none" stroke="#111" stroke-width="0.55"/><path d="M272.1 114.3L270.7 115.3L267.9 117.1L266.3 118.2L264.9 119.4L263.7 121.3L262.0 123.4L262.8 124.4L261.3 126.0L260.8 127.5L257.9 128.6L259.8 130.9L258.2 131.3L257.3 132.8L256.6 134.5L257.1 136.2L257.1 137.4L256.3 139.3L255.9 140.4L256.5 141.6L256.2 142.8L255.0 144.5L255.1 146.1L255.5 148.0L256.6 149.9L255.8 151.0L255.2 152.7L255.5 153.9L255.1 155.0L256.7 157.0L256.4 159.0L256.9 159.3L256.5 160.9L258.0 162.8L258.7 164.1L260.4 165.3L260.0 166.4L262.3 163.5L262.7 162.4L263.0 161.2L265.2 159.8L266.2 157.9L266.2 157.0L266.5 155.2L269.1 153.7L269.5 152.4L270.3 150.2L271.3 149.5L272.6 147.3L271.1 146.6L272.4 146.0L273.4 143.3L273.2 142.3L273.6 140.5L274.8 139.5L275.1 137.5L274.5 136.1L275.3 133.8L275.9 133.0L276.5 131.8L275.7 129.9L276.0 128.9L275.1 126.9L274.9 125.1L275.8 123.8L276.1 123.2L276.1 121.8L275.7 120.1L276.2 118.3L275.2 116.9L275.7 115.4L274.9 114.4ZM270.1 117.6L267.6 118.4L267.0 120.5L266.4 121.0L266.2 122.2L264.4 123.4L263.6 125.0L263.2 125.6L263.1 127.3L260.8 129.0L261.6 129.6L262.5 131.4L260.4 133.0L260.1 133.9L259.1 135.4L258.7 136.8L260.0 138.1L257.8 138.5L257.9 139.1L257.7 140.9L257.6 143.2L257.6 144.5L257.8 145.8L257.9 147.0L257.1 147.8L257.6 149.5L257.2 150.9L258.4 152.0L257.9 153.5L257.2 154.8L256.9 155.6L256.7 157.0L257.3 157.8L257.5 159.4L257.3 161.9L258.7 162.0L261.2 162.6L261.9 161.3L263.0 159.6L264.2 158.6L265.2 157.9L265.4 155.7L265.9 154.4L267.0 153.0L266.1 151.5L268.2 150.9L268.2 149.3L269.0 148.2L270.1 146.3L270.0 144.6L270.5 144.0L270.5 143.4L270.3 141.0L272.2 140.1L272.5 138.3L271.1 138.5L271.7 136.9L273.1 135.4L273.1 134.3L273.5 132.3L272.4 131.3L273.3 130.5L273.5 128.6L274.3 128.0L274.7 126.0L274.7 124.5L274.4 123.4L274.9 122.1L273.8 121.0L274.2 120.0L273.7 118.5L274.6 117.6ZM267.4 121.7L267.3 122.7L266.3 123.7L265.8 124.9L264.6 125.5L265.9 126.7L264.8 127.4L264.5 128.7L266.1 129.9L265.1 130.9L264.9 132.0L264.3 132.5L262.5 133.7L263.0 134.8L263.2 136.7L263.2 136.9L263.3 138.0L262.7 139.2L261.9 139.7L262.0 141.9L261.9 142.5L261.4 143.4L261.1 143.5L260.8 144.8L260.8 146.7L260.0 147.3L260.3 148.6L261.2 149.4L260.4 151.1L260.4 151.7L261.1 152.3L259.1 153.3L260.2 154.7L259.3 155.6L259.9 157.5L259.3 158.5L262.6 158.2L262.9 156.5L264.0 156.5L264.7 155.2L265.0 153.9L264.5 152.5L264.2 151.0L264.6 149.6L265.9 150.0L267.1 149.0L266.3 147.8L267.1 145.8L267.5 145.1L267.1 144.9L268.0 143.9L268.1 142.8L268.1 141.2L268.4 140.8L268.6 138.8L268.6 139.1L269.8 137.1L268.0 136.2L269.8 134.1L269.6 134.3L269.7 133.3L268.5 132.1L269.7 131.3L270.7 129.3L271.4 128.3L270.6 128.3L270.5 127.5L271.4 126.0L271.2 123.9L271.4 123.1L271.6 122.7L272.2 121.1Z" fill="none" stroke="#222" stroke-width="0.55"/><path d="M261.2 115.8h0.7M266.9 161.0h0.7M284.5 133.9h0.7M250.4 150.2h0.7M258.3 125.4h0.7M263.0 163.7h0.7M250.9 155.4h0.7M256.1 164.9h0.7M278.7 124.6h0.7M280.2 135.5h0.7M269.2 114.5h0.7M268.1 161.7h0.7" fill="none" stroke="#444" stroke-width="0.7"/></g>
</g>
<g>
<rect x="321.50" y="112.40" width="60.50" height="58.00" fill="none" stroke="#555" stroke-width="0.9"/>
<line x1="321.3" y1="112.4" x2="321.3" y2="171.4" stroke="#222" stroke-width="1.5" stroke-linecap="butt"/>
<line x1="320.5" y1="170.6" x2="382" y2="170.6" stroke="#222" stroke-width="1.4" stroke-linecap="butt"/>
<path d="M321.5 170.4v2.2M321.5 170.4h-2.2M336.6 170.4v2.2M321.5 155.9h-2.2M351.8 170.4v2.2M321.5 141.4h-2.2M366.9 170.4v2.2M321.5 126.9h-2.2M382.0 170.4v2.2M321.5 112.4h-2.2" stroke="#222" stroke-width="0.8" fill="none"/>
<path d="M326.0 170.4v1.3M321.5 166.1h-1.3M328.8 170.4v1.3M321.5 163.4h-1.3M330.6 170.4v1.3M321.5 161.7h-1.3M332.1 170.4v1.3M321.5 160.2h-1.3M333.3 170.4v1.3M321.5 159.1h-1.3M334.4 170.4v1.3M321.5 158.1h-1.3M335.1 170.4v1.3M321.5 157.3h-1.3M335.9 170.4v1.3M321.5 156.6h-1.3M341.2 170.4v1.3M321.5 151.6h-1.3M343.9 170.4v1.3M321.5 148.9h-1.3M345.7 170.4v1.3M321.5 147.2h-1.3M347.2 170.4v1.3M321.5 145.8h-1.3M348.4 170.4v1.3M321.5 144.6h-1.3M349.5 170.4v1.3M321.5 143.6h-1.3M350.2 170.4v1.3M321.5 142.9h-1.3M351.0 170.4v1.3M321.5 142.1h-1.3M356.3 170.4v1.3M321.5 137.1h-1.3M359.0 170.4v1.3M321.5 134.4h-1.3M360.8 170.4v1.3M321.5 132.7h-1.3M362.3 170.4v1.3M321.5 131.2h-1.3M363.5 170.4v1.3M321.5 130.1h-1.3M364.6 170.4v1.3M321.5 129.1h-1.3M365.4 170.4v1.3M321.5 128.4h-1.3M366.1 170.4v1.3M321.5 127.6h-1.3M371.4 170.4v1.3M321.5 122.6h-1.3M374.1 170.4v1.3M321.5 119.9h-1.3M375.9 170.4v1.3M321.5 118.2h-1.3M377.5 170.4v1.3M321.5 116.8h-1.3M378.7 170.4v1.3M321.5 115.6h-1.3M379.7 170.4v1.3M321.5 114.6h-1.3M380.5 170.4v1.3M321.5 113.9h-1.3M381.2 170.4v1.3M321.5 113.1h-1.3" stroke="#333" stroke-width="0.5" fill="none"/>
<text x="348.8" y="111.1" font-size="3.6" text-anchor="middle" fill="#222" font-weight="bold">Data.008</text>
<text x="348.8" y="180.0" font-size="3.6" text-anchor="middle" fill="#222" font-weight="bold">FL1-H</text>
<text transform="translate(312.3 144.4) rotate(-90)" font-size="4.2" text-anchor="middle" fill="#444">FL2-H</text>
<text x="319.3" y="176.6" font-size="4" fill="#111" font-weight="bold">10<tspan dy="-1.6" font-size="2.8">0</tspan></text>
<text x="313.9" y="173.0" font-size="4" fill="#111" font-weight="bold">10<tspan dy="-1.6" font-size="2.8">0</tspan></text>
<text x="334.4" y="176.6" font-size="4" fill="#111" font-weight="bold">10<tspan dy="-1.6" font-size="2.8">1</tspan></text>
<text x="313.9" y="158.5" font-size="4" fill="#111" font-weight="bold">10<tspan dy="-1.6" font-size="2.8">1</tspan></text>
<text x="349.6" y="176.6" font-size="4" fill="#111" font-weight="bold">10<tspan dy="-1.6" font-size="2.8">2</tspan></text>
<text x="313.9" y="144.0" font-size="4" fill="#111" font-weight="bold">10<tspan dy="-1.6" font-size="2.8">2</tspan></text>
<text x="364.7" y="176.6" font-size="4" fill="#111" font-weight="bold">10<tspan dy="-1.6" font-size="2.8">3</tspan></text>
<text x="313.9" y="129.5" font-size="4" fill="#111" font-weight="bold">10<tspan dy="-1.6" font-size="2.8">3</tspan></text>
<text x="379.8" y="176.6" font-size="4" fill="#111" font-weight="bold">10<tspan dy="-1.6" font-size="2.8">4</tspan></text>
<text x="313.9" y="115.0" font-size="4" fill="#111" font-weight="bold">10<tspan dy="-1.6" font-size="2.8">4</tspan></text>
<g filter="url(#soft)"><path d="M347.0 152.4L347.5 153.3L347.0 154.0L346.2 153.9L346.5 153.0ZM353.5 142.3L353.5 141.4L354.2 141.7L354.1 142.4ZM343.4 131.0L343.4 129.9L344.3 130.2L344.1 131.2ZM337.5 129.9L337.1 131.1L336.0 131.4L335.4 130.1L336.1 129.0L336.8 129.3ZM344.4 123.1L343.5 123.6L342.4 123.7L342.5 122.2L343.2 121.3L344.2 121.7ZM333.7 149.4L333.6 148.3L334.4 148.8L334.3 149.6ZM340.7 117.0L341.2 117.4L340.9 118.2L340.3 118.1L340.0 117.5L340.3 116.9ZM341.3 160.9L340.5 160.7L340.4 159.6L341.1 159.6L341.7 160.0ZM344.4 118.0L344.1 117.2L344.7 116.6L345.2 117.2L345.1 118.0ZM342.3 135.3L341.5 134.1L342.5 133.2L343.2 133.9L343.4 135.2ZM343.2 148.6L343.4 147.9L344.0 147.8L344.3 148.3L344.2 148.9L343.7 149.0ZM333.4 135.1L334.0 134.4L334.5 135.1L335.0 136.1L334.1 136.7L333.3 136.1ZM351.9 121.9L351.4 121.0L352.2 120.8L352.3 121.4ZM347.7 126.3L348.1 125.3L348.8 126.1L348.8 127.3L347.9 127.1ZM351.4 127.2L351.0 127.8L350.4 127.4L350.4 126.4L351.1 126.0L351.7 126.5ZM337.2 136.9L337.3 137.6L336.7 137.9L336.3 137.4L336.1 136.6L336.8 136.3ZM345.9 152.4L346.5 151.8L347.2 152.4L347.3 153.4L346.6 154.0L346.1 153.2ZM353.3 132.1L353.3 131.3L354.0 131.2L354.1 131.9L353.9 132.7ZM351.9 132.5L351.1 132.0L351.5 131.1L352.1 130.8L352.5 131.3L352.5 132.0ZM334.3 150.1L334.5 151.3L333.6 152.1L332.9 150.4ZM355.3 136.5L355.1 137.3L354.3 137.2L354.4 136.2L355.0 135.6ZM346.4 143.3L346.3 144.5L345.6 144.2L345.3 142.9ZM341.0 160.4L342.3 161.1L341.3 162.2L340.3 161.7ZM355.6 138.5L354.8 138.5L354.2 137.6L354.8 136.7L355.5 136.8L355.7 137.5ZM347.7 134.9L347.3 134.1L347.9 133.7L348.6 133.6L348.5 134.4L348.3 135.0ZM339.1 147.1L340.0 147.5L340.4 148.8L339.4 149.0L338.8 149.0L338.8 148.1ZM348.5 117.0L349.3 118.0L348.4 119.3L347.2 118.4L347.3 116.5ZM341.1 130.8L341.5 129.8L342.2 129.9L342.3 130.8L341.8 131.6ZM344.3 152.4L344.5 153.7L343.7 154.1L343.0 153.6L343.4 152.6ZM349.2 152.5L348.6 152.5L348.3 151.9L348.3 151.2L348.9 150.9L349.4 151.6ZM341.3 126.6L340.3 126.3L339.7 125.6L340.3 124.9L340.8 124.7L341.5 125.3ZM356.5 138.7L356.0 139.0L356.0 138.4L356.2 138.1L356.5 137.8L356.6 138.3ZM343.2 142.5L342.1 141.8L342.5 140.4L343.4 140.4L344.2 141.6ZM352.2 148.2L351.9 147.1L352.0 146.3L352.8 145.5L353.6 146.5L353.1 147.7ZM350.1 119.8L350.0 121.2L349.6 122.0L348.9 121.6L348.4 120.8L348.9 119.6ZM343.7 145.8L343.0 144.6L344.2 144.3L345.1 144.9L344.5 146.0ZM348.1 117.3L347.0 117.1L347.7 115.9L348.3 114.9L348.8 116.1L348.7 116.9ZM355.1 143.4L355.3 142.8L356.1 143.0L355.6 144.2ZM349.4 149.3L349.6 150.2L349.1 150.3L348.8 150.1L348.8 149.6ZM354.9 137.8L355.0 139.1L354.9 140.3L353.9 140.3L353.0 139.2L353.9 138.2ZM352.3 146.7L352.7 147.1L352.5 147.6L352.2 148.0L351.8 147.8L351.9 147.2ZM348.7 114.7L348.2 115.9L347.5 114.9L348.0 113.5ZM341.4 129.0L341.7 130.2L340.9 130.6L340.8 129.7ZM338.4 162.0L338.5 163.2L337.9 163.9L337.2 163.3L337.3 161.8ZM334.1 135.8L333.6 137.0L332.7 136.5L333.1 135.7ZM350.1 135.8L350.6 137.0L349.6 137.5L348.8 136.3ZM344.6 139.3L345.0 139.5L345.3 140.1L344.9 140.7L344.4 140.3L344.3 139.7ZM336.5 165.4L335.9 163.9L336.8 162.7L337.6 163.6L337.8 165.1ZM356.1 126.9L355.7 127.7L354.9 127.4L354.9 126.4L355.7 125.9ZM335.8 154.5L336.3 154.2L336.7 154.7L336.6 155.4L336.1 155.9L335.6 155.3ZM341.4 158.9L341.9 159.4L341.3 159.9L341.0 159.5L340.9 158.8ZM357.0 143.9L356.3 144.2L355.9 143.7L355.9 143.0L356.4 142.6L357.0 143.0ZM353.8 128.4L353.7 129.8L352.6 129.5L352.2 128.2L353.1 127.8ZM355.6 128.3L356.1 127.7L356.6 128.4L356.1 128.9ZM352.5 127.3L352.8 128.5L351.8 128.7L351.3 127.7L351.9 127.2ZM338.0 138.8L338.1 140.5L337.1 140.2L336.8 139.1ZM352.5 146.9L353.3 147.1L352.7 148.0L352.3 147.4ZM338.8 164.3L337.7 164.4L337.8 162.9L338.9 163.1ZM355.0 126.7L354.1 126.4L353.5 126.2L353.8 125.5L354.4 125.0L355.1 125.5ZM351.8 121.4L352.4 121.3L352.6 121.9L352.3 122.7L351.7 122.2ZM342.8 151.3L341.9 151.1L341.8 150.2L342.4 149.6L343.1 150.2ZM352.2 137.7L352.7 136.6L353.6 136.1L354.3 137.7L353.1 138.1ZM345.3 157.0L345.8 156.2L346.3 155.7L346.6 156.4L346.6 157.1L346.0 157.4ZM347.5 118.8L348.1 118.2L348.1 119.2L347.5 119.5ZM333.3 141.8L334.3 142.2L333.9 143.4L333.0 144.0L332.8 142.8ZM343.6 159.2L343.1 158.7L343.1 157.5L344.1 157.7L344.8 158.5L344.2 159.4ZM336.6 137.9L337.1 138.1L337.4 138.8L336.8 139.5L336.0 139.3L336.2 138.3ZM349.7 150.6L348.9 151.3L348.3 151.0L348.0 149.8L349.0 149.6ZM356.8 129.0L356.4 128.6L356.4 127.7L357.0 127.3L357.4 128.0L357.8 129.2ZM347.3 149.5L347.0 149.2L346.8 148.8L347.1 148.2L347.7 148.5L347.6 149.3ZM350.5 131.1L349.7 131.7L349.1 130.7L349.9 130.0ZM340.1 136.4L340.5 136.6L340.8 137.1L340.3 137.3L339.9 137.3L339.8 136.8ZM350.6 147.0L350.2 146.7L350.4 146.1L350.8 146.0L351.0 146.3L351.1 146.9ZM355.9 142.9L354.9 142.6L355.1 140.9L356.1 141.8ZM357.1 137.6L355.6 137.3L356.2 135.4L357.8 135.7ZM355.9 132.4L356.1 133.8L355.1 133.5L354.7 132.8L354.9 132.1L355.6 131.2ZM350.2 147.4L349.9 146.4L350.7 146.1L351.2 146.6L351.3 147.3L350.8 148.2ZM351.9 137.9L351.5 138.9L351.0 138.0L350.9 137.0L351.7 137.1ZM354.0 136.7L354.5 137.3L353.9 137.5L353.5 137.0ZM355.4 130.8L356.7 131.5L356.8 132.9L355.5 132.9ZM352.9 147.5L352.7 146.5L353.5 146.5L353.8 147.0L353.5 147.8ZM338.2 164.4L337.7 165.4L336.8 165.0L336.8 164.1L337.1 163.1L338.0 163.2ZM332.5 132.3L332.7 131.6L333.1 131.2L333.5 131.6L334.0 132.5L333.1 132.4ZM352.9 130.6L352.4 130.3L352.6 129.5L353.1 130.0ZM349.7 139.6L350.1 138.7L350.9 139.0L351.3 140.4L350.0 141.0ZM340.6 115.6L341.6 115.1L341.9 116.7L341.0 117.8L340.4 116.5ZM347.3 152.9L347.5 152.4L348.0 152.2L348.7 152.8L348.0 153.4L347.6 153.4ZM346.9 115.8L346.7 116.7L346.1 117.4L345.5 116.7L345.4 115.5L346.2 115.4ZM347.4 115.3L347.6 116.3L347.1 116.6L346.5 115.8ZM336.2 162.3L335.9 161.4L336.4 160.7L337.2 160.5L337.3 161.6L336.9 162.3ZM352.3 131.6L352.9 130.9L353.7 131.2L353.7 132.4L352.9 132.3ZM350.0 116.7L349.7 117.2L349.2 116.7L349.7 116.1ZM345.7 139.5L345.1 138.8L345.6 138.0L346.1 137.8L346.6 138.3L346.5 139.2ZM356.8 130.1L356.7 130.8L356.1 131.2L355.6 130.4L356.0 129.8L356.4 129.6ZM341.7 156.3L341.6 157.4L340.8 157.7L340.7 156.8L340.9 156.1ZM350.1 139.0L349.4 139.4L348.7 139.8L348.4 138.8L348.9 137.8L349.5 138.3ZM351.0 126.5L351.4 127.4L350.6 127.6L350.2 126.6ZM345.0 149.4L345.2 150.7L344.4 151.2L343.6 150.7L344.1 149.7ZM346.1 119.5L345.6 120.0L345.0 118.9L346.1 118.4ZM351.0 126.3L351.9 126.7L352.4 127.8L351.5 128.1L350.7 128.4L350.6 127.3ZM352.0 126.9L352.0 126.4L352.5 126.1L352.8 126.9L352.3 127.2ZM345.1 144.3L344.3 144.3L344.0 143.3L344.7 142.6L345.1 143.4ZM352.8 134.5L351.9 133.6L352.1 132.0L353.4 132.1L354.0 133.7ZM343.6 140.7L343.1 142.1L341.7 142.3L342.3 140.6ZM333.3 148.3L333.9 149.1L333.9 150.3L333.1 149.9L332.7 149.1ZM354.1 125.3L353.1 125.1L353.0 123.4L354.6 123.5ZM332.7 146.7L331.9 146.9L331.6 145.9L332.2 144.6L333.1 145.6ZM333.8 133.3L333.7 134.4L333.7 135.6L332.8 135.3L332.6 134.3L332.7 133.1ZM357.5 136.0L357.7 137.3L356.5 137.5L356.5 136.2L356.8 135.4ZM352.2 126.2L352.8 126.0L353.0 126.5L352.4 127.3ZM356.6 134.7L357.1 135.3L357.1 136.2L356.5 136.3L356.0 136.0L356.2 135.4ZM336.9 138.5L337.6 137.1L339.1 137.9L338.1 140.0ZM333.2 154.6L333.9 153.9L334.9 153.9L334.7 155.0L334.5 156.0L333.6 155.8ZM344.3 116.8L345.6 117.2L344.7 118.3L343.7 118.0ZM337.3 135.9L337.0 136.4L336.5 136.7L336.5 136.1L336.5 135.6L337.0 135.4ZM344.5 139.0L345.1 139.9L344.8 140.8L344.0 141.1L343.6 140.2L343.8 139.4ZM346.4 151.8L345.8 150.7L346.2 149.7L347.0 150.5ZM345.0 149.3L345.5 147.9L346.6 148.7L345.9 149.7ZM336.7 154.6L335.8 154.0L336.3 152.7L337.2 153.2L337.7 154.3ZM344.1 113.9L345.1 114.4L344.7 115.7L343.8 115.7L343.6 114.8ZM356.4 133.5L355.8 132.9L355.3 131.9L356.2 131.7L356.7 132.1L356.7 132.7ZM343.7 143.4L343.0 142.2L344.0 141.6L344.5 142.7ZM348.1 139.3L347.5 140.0L346.7 140.2L346.4 139.1L346.8 138.1L347.6 138.4ZM347.8 133.6L346.6 133.0L346.8 131.8L347.4 131.4L348.4 132.0ZM334.1 133.7L334.9 133.2L335.6 132.8L335.9 133.8L335.5 134.8L334.8 134.4ZM350.8 118.1L351.4 118.0L351.3 118.9L350.7 119.1L350.3 118.5ZM346.0 128.5L345.1 129.1L344.6 128.1L344.9 127.2L345.7 127.3ZM346.9 148.9L347.4 149.3L347.2 150.0L346.5 149.7ZM352.9 141.7L353.5 142.1L352.9 142.4L352.4 142.6L352.1 141.8L352.5 141.1ZM335.6 140.9L335.5 141.9L334.5 141.9L334.0 140.8L334.7 140.1L335.3 140.3ZM348.2 135.5L349.0 134.6L350.0 134.8L350.3 136.1L349.6 136.9L348.5 137.0ZM352.5 142.4L352.0 142.1L352.4 141.3L352.7 142.0ZM352.9 120.9L353.1 122.1L352.3 122.8L351.7 122.2L351.3 121.1L352.0 120.2ZM351.2 148.2L351.0 147.9L350.9 147.2L351.5 147.2L351.9 147.7L351.5 148.2ZM343.6 116.9L344.2 116.3L344.4 117.2L343.7 117.9ZM353.9 135.9L353.3 135.6L353.6 135.0L354.1 135.1ZM346.9 154.9L345.8 154.6L346.0 153.4L346.7 152.7L347.3 153.6ZM334.7 143.4L335.4 144.3L334.9 145.3L334.3 144.9L334.1 144.2ZM341.8 118.9L341.4 118.6L341.4 117.9L341.8 117.5L342.3 117.9L342.3 118.6ZM350.0 117.2L349.7 116.9L350.0 116.2L350.5 116.6L350.4 117.3ZM356.2 136.1L356.6 136.1L357.1 136.5L356.8 137.1L356.4 136.9L356.0 136.6ZM348.3 141.1L348.9 141.1L349.2 141.7L349.0 142.5L348.4 142.4L348.1 141.8ZM331.4 147.9L331.8 146.4L332.9 146.4L332.8 148.2ZM354.9 143.3L354.5 142.7L354.5 141.3L355.4 142.1L355.8 143.1ZM336.0 136.2L337.2 134.7L338.4 136.1L337.2 137.8ZM353.4 126.4L354.3 126.9L355.0 128.0L353.9 128.8L353.2 127.8ZM351.4 149.4L351.0 150.0L350.3 150.2L350.1 149.3L350.5 148.6L351.2 148.5ZM347.1 117.0L346.9 116.2L347.3 115.2L348.2 115.6L348.3 116.7L347.8 117.6ZM351.5 123.1L351.6 122.5L352.2 122.2L352.5 122.9L352.4 123.7L351.7 124.0ZM357.1 134.4L356.4 134.5L356.3 133.7L356.8 133.7ZM342.6 115.7L342.7 114.7L343.5 114.5L343.7 115.9ZM345.9 155.8L345.5 156.0L345.4 155.4L345.9 155.1ZM340.4 159.8L339.7 160.4L339.5 159.3L339.7 158.4L340.2 159.1ZM331.9 132.1L332.8 132.1L333.1 133.5L331.8 133.7ZM341.9 130.8L341.6 132.4L340.1 131.5L341.1 130.2ZM335.6 142.2L335.6 143.3L334.9 143.9L334.5 142.6ZM352.8 146.0L352.6 147.1L352.0 148.0L351.5 147.0L351.2 146.1L351.9 145.1ZM332.5 150.9L333.0 150.2L333.4 150.9L333.4 151.9L332.4 152.0ZM351.1 120.1L352.1 120.2L351.8 121.4L351.1 122.5L350.2 121.6L350.4 120.4ZM357.2 133.1L356.5 133.9L355.6 133.6L356.2 132.2ZM346.4 113.7L346.6 114.7L346.0 115.2L345.6 114.3ZM353.9 142.1L354.0 142.8L353.2 143.0L353.0 142.0L353.6 141.5ZM343.4 160.2L342.7 160.4L342.2 160.1L342.0 159.1L342.8 158.6L343.3 159.4ZM344.2 158.5L343.6 159.2L342.8 158.9L343.4 157.7ZM335.0 149.6L333.5 149.5L333.4 147.3L334.8 148.0ZM356.1 142.0L355.5 142.1L354.8 141.6L354.8 140.3L355.9 139.9L356.5 141.0ZM346.4 154.7L346.9 153.8L347.7 153.9L348.0 155.1L347.1 155.4ZM349.2 125.4L350.0 125.1L350.5 125.2L351.0 126.0L350.3 126.7L349.5 126.5ZM345.3 122.2L345.6 123.4L344.8 124.3L343.7 123.6L344.4 122.3ZM356.3 139.2L355.5 138.7L356.3 138.0L356.9 138.6ZM354.3 136.6L354.8 137.2L354.5 138.2L353.7 138.1L353.1 137.2L353.6 136.3ZM333.9 132.5L334.8 132.9L334.7 134.0L334.0 134.8L333.0 133.7ZM356.0 138.7L356.5 140.6L355.2 140.6L354.9 139.5ZM355.7 125.3L356.4 126.4L355.4 126.9L354.7 126.7L354.4 125.8L354.9 124.6ZM358.7 132.9L358.7 134.1L358.0 133.3L358.2 132.5ZM338.7 159.5L339.7 160.0L339.1 161.3L338.2 161.6L337.4 160.7L337.9 159.5ZM347.1 149.1L347.4 148.2L348.3 148.5L348.2 149.6L347.6 150.0L346.8 150.1ZM349.8 116.7L349.2 116.9L348.8 116.1L349.3 115.4L349.9 115.4L350.1 116.2ZM334.7 162.6L333.7 161.3L334.8 160.4L335.3 161.5ZM356.5 143.6L356.0 143.6L355.8 143.0L356.0 142.5L356.4 142.5L356.8 142.9ZM357.4 130.7L356.8 130.0L357.1 129.1L357.8 128.6L358.2 129.4L357.9 130.0ZM344.6 152.9L343.4 152.4L344.4 151.1L345.4 152.0ZM355.8 125.2L356.2 124.2L357.2 124.6L356.6 125.9ZM339.8 138.6L340.1 140.0L339.3 140.8L338.7 140.3L338.4 139.6L338.8 138.9ZM349.1 151.0L349.6 150.0L350.3 150.4L350.7 151.0L350.4 151.8L349.6 152.0ZM351.1 144.1L350.9 143.3L351.1 142.7L351.6 142.6L351.7 143.2L351.6 143.6ZM343.8 123.6L343.8 123.0L344.3 122.9L344.4 123.5L344.2 124.1ZM338.3 159.4L338.6 158.4L339.6 158.4L339.8 159.8L339.0 160.2L338.0 160.7ZM334.0 133.1L334.9 133.6L334.7 134.8L334.1 135.9L333.5 134.8L333.2 133.8ZM345.4 124.8L344.7 124.8L344.4 123.8L345.4 123.8ZM336.7 146.2L336.6 144.7L337.7 144.2L338.7 144.8L338.5 146.2L337.6 146.6ZM353.8 140.4L354.1 139.9L354.5 140.3L354.5 141.1L353.9 141.0ZM351.7 147.1L352.3 148.5L351.3 148.7L350.8 147.7ZM335.2 148.0L335.9 148.7L335.1 149.4L334.0 149.2L334.5 148.0ZM333.0 135.9L332.1 136.0L332.0 134.8L333.3 134.3ZM348.5 123.5L347.7 123.1L347.7 121.7L348.7 121.3L349.6 121.9L349.1 123.0ZM337.2 163.1L335.9 163.4L336.1 161.5L337.1 161.6L338.0 162.3ZM340.1 123.7L340.3 122.7L340.9 121.7L341.5 122.7L341.3 123.6L340.8 124.4ZM345.0 127.8L344.5 129.2L343.4 128.7L343.1 127.6L343.7 126.9L344.5 126.6ZM335.8 140.9L336.6 141.3L336.2 142.3L335.5 143.0L335.2 141.9L335.2 141.0ZM335.5 161.2L336.3 160.8L336.6 161.7L336.3 162.3L335.4 162.3ZM335.6 140.4L334.5 141.1L334.4 139.5L335.6 138.7ZM351.3 126.4L350.8 125.5L351.4 125.2L352.0 125.8ZM341.5 160.2L340.7 160.4L340.4 159.7L340.8 159.2L341.2 159.3ZM337.6 134.7L337.1 134.9L336.7 134.3L337.1 133.8L337.5 134.1ZM340.4 117.9L340.8 117.1L341.5 117.5L341.1 118.5ZM344.4 122.5L344.0 123.2L343.0 122.7L343.9 121.7ZM353.9 123.9L354.1 124.7L353.3 125.1L353.1 123.8ZM332.6 131.7L333.1 131.8L333.2 132.5L332.9 133.4L332.2 132.9L332.0 132.1ZM342.9 142.3L343.4 141.7L344.1 142.3L344.0 143.3L343.3 143.6L342.9 143.0ZM353.5 127.5L353.8 127.7L354.1 128.1L353.7 128.4L353.4 128.2L353.2 127.8ZM336.0 144.7L336.3 145.4L336.1 146.2L335.6 146.0L335.1 145.7L335.3 144.9ZM350.4 127.7L351.3 126.9L351.8 128.1L351.2 129.1L350.3 128.9ZM343.7 152.7L344.3 153.4L343.6 154.3L343.0 153.3ZM342.3 158.9L343.1 159.2L343.3 160.2L342.7 160.9L341.7 160.9L341.6 159.5ZM345.1 139.5L344.5 138.6L345.0 137.8L345.7 138.6ZM345.7 157.2L345.4 156.5L345.5 155.6L346.2 155.8L346.7 156.3L346.3 157.0ZM350.0 125.6L349.6 124.9L350.2 124.2L350.9 125.2ZM357.6 138.2L357.7 139.6L356.7 139.4L356.2 138.6L356.7 137.8ZM351.4 128.7L351.2 128.0L351.7 127.5L352.3 127.9L352.2 128.9ZM334.5 143.1L334.2 142.4L334.8 142.3L335.3 142.8L335.0 143.8ZM332.2 155.4L332.1 154.5L332.5 154.0L333.1 154.3L332.9 155.1ZM344.6 137.3L344.8 136.3L345.4 135.9L345.6 136.7L345.4 137.5ZM338.7 151.1L338.8 152.1L338.0 152.0L337.6 151.3L337.8 150.6L338.5 150.3ZM348.2 130.4L348.6 131.1L348.1 131.6L347.5 131.3L347.4 130.1ZM336.6 130.5L337.2 130.4L337.7 130.5L337.7 131.3L337.2 131.3L336.9 131.1ZM351.7 120.9L351.4 119.6L352.5 119.1L353.2 121.0ZM343.6 138.2L342.9 139.9L341.5 139.8L342.0 138.0ZM340.1 146.2L339.8 145.3L340.4 144.8L340.8 145.6ZM338.3 162.0L338.7 160.9L339.4 160.9L339.2 161.8ZM343.0 121.7L342.7 121.3L342.4 120.6L343.1 120.4L343.6 120.7L343.8 121.7ZM349.2 148.3L348.9 149.0L348.2 148.6L348.3 147.6L349.0 147.6ZM341.3 158.0L341.1 157.6L341.2 157.0L341.8 156.8L341.9 157.6L341.8 158.3ZM339.2 141.3L338.1 140.8L337.7 139.3L338.9 138.8L339.6 139.9ZM352.0 142.4L352.2 143.8L351.2 143.7L350.9 143.1L351.1 142.4ZM352.2 148.1L351.8 147.9L352.0 147.5L352.5 147.2L352.7 148.0ZM347.7 133.1L346.3 133.2L346.6 131.3L347.7 131.9ZM341.4 128.0L340.4 128.6L340.4 127.1L341.4 127.0ZM349.7 153.0L349.2 152.5L348.7 151.3L349.7 150.9L350.8 151.3L350.3 152.5ZM343.8 128.8L343.8 129.9L343.1 129.5L342.2 129.1L342.9 128.2L343.6 127.9ZM333.7 154.0L333.3 154.8L332.6 154.6L332.8 153.8L333.3 153.2ZM355.7 130.5L356.6 131.7L355.5 132.6L355.2 131.5ZM342.4 154.5L342.0 153.6L342.8 153.0L343.6 153.4L344.1 154.8L342.9 155.1ZM339.6 142.7L340.3 142.9L340.1 143.8L339.5 143.9L339.0 143.2ZM335.5 128.8L335.0 128.7L335.0 127.9L335.7 128.0ZM352.9 125.2L352.4 123.7L353.6 123.2L353.8 124.6ZM343.2 159.4L343.1 159.0L343.3 158.7L343.6 158.8L343.9 159.3L343.5 159.5ZM347.1 128.0L346.7 127.3L346.8 126.8L347.4 126.3L347.6 127.3ZM351.9 146.8L351.2 147.7L350.5 147.1L350.5 146.0L351.4 145.7ZM347.5 120.2L346.9 121.5L346.1 120.4L346.0 119.0L347.2 118.9ZM337.2 154.8L338.1 153.9L338.8 155.4L338.1 156.8L337.2 155.8ZM343.9 137.0L343.9 138.2L343.1 137.7L343.2 136.9ZM348.0 137.3L347.2 136.9L346.5 136.6L346.8 135.4L347.7 135.3L347.9 136.3ZM349.7 143.5L350.2 142.2L351.2 142.9L350.7 144.5ZM342.8 158.7L343.7 157.6L344.5 159.3L343.2 160.4ZM335.7 142.3L334.8 142.5L334.2 141.8L335.1 140.9ZM336.5 125.2L335.9 126.7L334.6 125.8L335.5 124.6ZM338.4 121.6L337.6 122.0L337.2 121.2L337.8 120.5ZM349.1 147.6L350.3 147.5L350.4 149.0L349.5 148.9ZM351.0 126.6L350.5 126.5L350.4 125.7L351.0 125.4L351.4 126.1ZM349.3 118.2L347.8 118.4L348.3 116.5L349.7 116.6ZM342.9 129.9L342.2 130.1L342.1 129.3L342.7 129.1ZM346.3 151.3L345.7 152.3L344.4 152.4L344.4 150.4L345.7 149.9ZM344.6 126.6L343.8 127.5L342.7 126.8L343.7 125.7ZM352.4 118.6L353.3 118.3L353.4 119.5L352.7 120.3L352.0 119.4ZM354.0 137.4L353.9 136.4L354.0 135.8L354.5 135.6L355.2 136.0L354.8 136.9ZM333.1 143.9L334.2 143.3L334.5 144.7L333.6 144.9ZM357.6 133.9L358.2 135.2L357.5 136.5L357.0 135.1ZM355.4 131.3L355.8 131.2L356.0 131.9L355.6 132.3L355.1 132.3L355.0 131.6ZM354.0 142.8L354.2 143.6L353.5 144.1L353.1 143.3L353.5 142.8ZM349.0 120.3L349.6 119.0L351.0 119.3L350.8 121.1L349.7 121.4ZM349.1 119.5L349.0 119.0L349.3 118.3L349.9 118.7L350.2 119.6L349.5 120.2ZM354.1 128.0L353.3 127.7L353.1 126.7L353.9 126.6L354.5 126.5L354.7 127.4ZM349.5 124.6L350.1 124.1L350.1 125.0L349.6 125.4ZM353.0 128.2L353.8 127.9L354.7 127.6L355.0 129.0L354.2 130.2L353.0 129.7ZM354.2 142.0L354.2 143.1L353.2 143.2L352.8 142.0L353.3 141.1L354.1 141.1ZM346.9 154.2L345.6 153.9L345.4 152.5L346.4 152.6ZM351.8 127.8L351.0 126.2L352.2 125.9L352.6 126.8ZM347.4 113.7L347.3 115.0L346.4 114.6L346.5 113.4ZM344.4 138.5L344.7 139.0L344.6 139.8L343.8 139.8L343.5 139.0L343.9 138.2ZM348.5 138.3L349.5 138.7L349.6 140.2L348.4 140.7L347.9 139.4ZM347.3 135.8L347.5 134.2L348.8 134.8L348.5 136.7Z" fill="none" stroke="#111" stroke-width="0.52"/><path d="M340.2 157.0l1.2 1.4M339.0 155.3l2.0 0.6M355.1 131.6l-1.1 2.0M336.1 148.9l-1.4 0.1M339.9 151.0l1.8 1.1M356.5 129.1l-0.2 2.1M358.3 130.2l-0.8 0.6M356.0 126.1l0.4 1.1M333.4 141.5l0.7 1.0M341.6 116.6l0.1 1.7M355.2 143.5l-1.1 0.7M336.5 151.3l-1.5 1.4M355.7 127.2l2.1 0.4M344.1 133.5l-1.2 1.0M354.1 134.8l1.5 0.8M344.3 114.5l1.3 1.6M333.7 132.6l-0.5 1.8M351.1 147.5l0.9 0.8M340.3 138.6l0.8 0.7M337.4 164.0l-1.4 1.5M347.3 130.4l1.5 0.7M333.1 136.9l0.9 0.2M356.1 123.4l0.0 1.6M350.4 144.6l0.4 1.0M359.7 137.0l-1.5 0.1M353.0 128.3l0.0 1.3M343.5 148.6l-2.1 0.8M354.9 125.9l-1.4 1.2M350.1 122.2l1.6 0.5M352.6 127.2l-0.9 0.6M339.3 153.7l0.4 1.9M339.1 162.1l-1.4 0.2M349.6 124.5l0.1 1.7M351.4 121.2l1.1 0.2M332.5 140.5l-0.4 2.0M339.9 137.6l1.2 0.1M346.7 116.2l-0.1 1.3M340.1 151.2l-2.2 0.1M337.7 144.0l1.6 1.0M333.5 157.9l-1.9 0.3M356.0 130.4l1.5 0.8M337.4 162.6l0.2 1.7M347.3 146.0l0.8 1.8M353.1 133.4l1.1 1.2M332.6 142.0l-0.5 1.3M350.8 123.3l-0.1 1.4M338.3 139.5l-0.4 1.8M335.1 131.7l1.2 0.2M348.0 133.5l1.1 0.9M350.0 122.2l0.3 1.2M344.7 136.0l0.6 1.2M357.7 134.5l1.1 1.8M355.1 139.4l0.4 2.1M343.9 151.0l1.8 0.6M350.0 126.3l0.7 1.0M337.9 143.1l0.3 0.9M348.4 115.5l-1.4 0.5M336.9 134.1l1.8 1.1M351.2 131.3l-1.0 0.3M353.2 146.6l-1.0 1.7M352.7 127.6l-2.1 0.6M339.6 139.4l-1.3 1.4M356.1 127.7l-0.9 0.5M334.1 159.4l1.8 0.2M352.2 132.1l1.1 0.6M357.0 138.4l-1.6 0.7M349.0 128.5l-0.3 1.9M349.1 151.0l-0.2 1.1M355.4 124.2l-1.1 0.9M354.8 143.8l0.3 1.1M335.8 140.5l-0.1 1.0M341.8 120.5l0.2 2.0M336.7 163.8l0.7 1.4M333.6 130.6l-0.4 2.2M351.7 123.7l1.2 1.3M346.7 125.3l0.3 1.0M355.1 128.7l1.0 0.1M337.5 140.9l-1.1 1.0M335.6 152.4l1.5 1.6M337.1 164.3l0.1 1.9M333.4 156.8l-0.2 0.9M346.8 122.2l1.2 0.1M341.3 121.3l0.6 0.9M351.6 142.3l-0.3 1.3M346.7 131.2l-1.1 0.2M335.3 156.6l0.8 0.7M353.8 144.9l-1.0 0.7M338.9 131.2l-1.6 0.1M340.9 123.9l-0.5 1.1M344.1 149.2l-1.3 1.3M350.4 120.5l2.2 0.0M342.5 134.3l2.0 0.7M351.0 125.4l0.9 2.1M337.5 140.0l-1.7 1.1M353.2 137.2l-1.3 1.4M351.8 143.9l-0.6 1.5M339.4 160.4l-0.6 1.3M350.4 141.4l-0.9 2.0M352.1 130.8l1.0 1.0M333.7 131.2l0.0 2.0M347.2 126.6l-1.3 1.4M345.9 130.0l1.4 0.8M339.2 161.3l2.1 0.1M343.1 150.1l-1.0 0.5M346.0 136.7l-1.6 1.1M348.5 116.2l-0.8 0.8M352.1 137.9l1.4 1.3M336.0 147.6l1.5 0.9M339.0 156.2l-0.8 0.6M342.1 119.1l-1.5 1.4M330.9 139.6l1.7 1.2M356.0 124.4l-0.2 2.2M339.7 156.5l-0.0 1.2M349.1 152.0l1.5 1.0M354.1 139.6l1.7 1.4M349.1 150.8l-0.1 1.7M333.0 154.2l-0.6 0.7M339.3 130.2l1.8 0.7M340.4 161.6l-1.4 0.0M357.5 136.5l-1.4 1.7M354.4 128.1l-0.1 1.6M339.5 121.1l-0.1 1.0M356.7 130.7l1.0 0.7M337.2 122.6l-1.2 0.2M351.0 124.3l-1.9 1.3M346.8 149.8l-0.2 1.4M351.3 148.1l0.3 2.0M351.7 122.6l-2.0 0.3M351.5 147.2l-0.1 1.8M332.9 141.8l0.7 1.3M357.9 126.4l-0.8 1.1M332.3 154.6l0.8 1.3M348.2 138.4l0.4 1.3M349.7 129.7l-2.0 0.7M332.4 140.5l1.2 0.0M350.5 139.1l-1.0 0.6M346.5 116.1l-0.6 1.0M349.5 115.2l1.1 1.8M351.0 148.8l2.0 1.0M356.4 127.6l1.7 0.5M352.7 141.3l-0.3 1.8M344.3 122.9l-1.3 0.2M346.5 153.5l-1.6 0.8M345.7 149.7l1.0 0.1M351.7 143.2l1.0 0.4M347.1 114.5l-0.2 2.1M345.2 115.8l1.5 0.1M353.8 120.4l-1.4 1.1M350.1 146.3l1.3 1.7M349.6 147.2l-0.5 1.0M350.9 125.5l1.9 0.3M339.9 149.8l-1.8 1.3M353.7 144.6l1.4 0.5M350.4 116.2l0.7 2.0M334.7 141.5l-1.4 0.9M337.5 163.3l-0.7 2.0M357.6 126.6l-0.1 1.6M354.1 144.0l-0.6 1.8M356.0 138.2l-0.6 2.0M353.6 139.1l0.8 0.8M352.9 128.9l0.1 2.3M348.0 115.0l0.9 1.6M350.4 133.5l-0.7 1.1M353.6 135.5l-0.7 2.0M337.6 137.5l-1.0 0.5M353.7 138.4l-1.4 0.5M342.4 141.1l0.8 1.5M355.2 143.4l0.2 1.1M348.1 116.5l-0.8 1.9M352.6 145.2l1.0 0.9M333.8 158.0l-1.3 1.1M335.5 130.2l-0.4 1.2M337.4 151.4l-2.1 0.3M340.4 154.8l-1.3 1.5M333.3 155.2l1.7 0.5M345.4 114.8l-2.3 0.1M339.9 124.0l1.1 0.2M348.0 129.4l1.2 0.4M356.6 137.3l0.6 1.1M337.5 119.4l-0.1 1.3M342.9 157.8l2.0 0.6M349.6 125.3l2.2 0.6M354.4 133.0l1.1 0.9M348.5 150.6l-1.9 0.5M345.8 146.7l1.7 1.5M357.0 137.3l-1.1 0.3M351.2 149.4l-1.0 1.1M337.3 148.5l-0.4 2.0M335.6 163.5l0.3 1.4M344.9 130.8l-1.5 1.6M353.0 144.0l-1.7 1.0M348.4 116.3l-1.0 0.5M338.3 128.1l-1.6 0.4M345.7 143.3l-1.3 0.6M353.1 148.5l-1.1 0.2M357.1 135.6l-1.3 0.1M352.4 131.7l1.6 0.1M344.7 114.9l-1.0 1.0M344.9 117.8l-1.6 1.4M350.3 120.8l0.3 1.8M350.0 148.5l-0.5 1.2M350.3 130.4l-1.3 1.2M353.6 123.7l1.0 0.5M355.4 132.4l2.2 0.2M338.2 128.1l1.7 0.4M343.9 116.8l1.0 1.3M353.1 126.2l0.5 2.1M342.4 152.9l-1.1 0.0M350.3 121.4l0.2 1.0M349.2 123.6l1.1 0.7M346.8 131.8l0.7 1.2M347.4 123.5l1.1 0.5M346.6 114.3l1.3 0.7M347.7 126.1l0.2 1.4M336.5 164.7l0.7 1.3M338.1 137.6l-0.6 2.1M355.6 132.7l-0.5 0.8M352.7 143.9l1.2 0.6M346.1 151.0l1.5 1.1M347.3 151.8l0.7 0.9M343.5 154.8l0.2 1.1M342.9 142.3l-1.1 0.8M339.7 160.9l1.8 1.1M350.9 117.0l0.4 2.0M343.0 159.3l-1.3 0.5M352.2 147.2l-1.5 0.7M355.1 127.4l-1.7 0.8M340.2 148.9l1.7 0.7M340.5 156.0l-1.3 0.4M348.0 150.9l1.6 1.4M351.0 145.3l-1.1 0.2M354.0 125.8l1.4 0.3M342.9 156.0l-0.9 1.8M357.0 130.9l0.2 1.8M340.7 153.1l-1.3 0.5M347.7 136.2l-1.9 1.1M343.1 141.1l2.0 0.4M349.5 148.4l0.2 1.3M348.8 123.6l-1.1 0.4M355.5 142.9l-0.2 1.0M350.6 130.5l-1.3 1.2M337.0 143.8l-0.4 2.0M356.2 136.5l-1.2 1.1M348.6 133.3l-0.9 1.0M343.1 130.7l0.1 2.1M340.0 120.9l1.9 1.0M339.5 156.6l1.1 0.5M344.8 134.9l1.7 1.5M352.2 124.0l0.2 1.0M346.5 118.8l-1.2 1.2M337.3 151.5l2.2 0.6M340.7 121.7l1.3 0.1M357.4 136.0l-1.3 0.3M353.5 141.7l-0.5 2.0M359.0 133.0l-0.9 1.6M340.3 161.3l0.7 1.0M345.6 126.2l-0.8 0.7M335.6 164.6l-0.3 2.0M333.8 144.6l1.5 0.1M352.2 126.0l0.6 2.0M345.7 142.1l-1.5 1.6M346.0 120.3l1.4 0.6M346.8 139.0l-0.4 1.1M353.9 147.6l-2.0 0.6M346.3 153.1l-1.2 0.9M345.2 157.0l-0.7 2.0M352.2 128.0l1.1 0.9M357.2 133.3l0.1 1.3M355.9 132.9l0.5 0.8M339.5 136.6l-1.2 1.4M338.9 162.3l-0.4 1.6M339.2 124.5l-0.4 1.2M346.6 128.2l-1.2 0.1M339.7 124.0l-0.3 2.2M339.7 150.8l-1.5 0.2M342.6 123.3l1.2 1.5M350.0 117.1l1.8 0.8M334.7 146.0l1.2 1.2M353.1 120.3l0.7 1.8M345.8 119.3l-2.3 0.1M347.1 119.2l1.5 0.1M347.3 136.0l0.4 2.2M357.3 133.6l0.7 0.8M337.6 130.5l-0.1 2.2M353.2 120.4l0.7 2.2M351.2 137.6l0.8 0.9M352.8 130.3l-0.2 1.9M345.6 143.3l-0.0 1.2M338.2 135.1l-1.0 1.8M346.3 152.4l1.5 0.4M357.4 132.1l0.3 1.5M337.8 121.2l-1.1 1.9M358.1 135.5l-1.7 0.5M347.9 152.3l-1.4 0.0M336.2 135.2l0.8 0.9M341.9 147.9l-1.2 1.0M341.4 120.8l0.8 0.9M334.1 158.0l1.7 1.5" fill="none" stroke="#111" stroke-width="0.5700000000000001"/><path d="M342.4 114.3L342.4 115.6L340.5 117.7L338.8 119.0L338.2 120.4L336.9 122.1L336.6 123.4L335.8 124.7L334.9 126.7L334.1 127.7L333.3 128.7L334.1 130.4L333.2 131.7L333.7 133.6L333.1 134.5L332.6 136.5L331.4 137.5L331.8 139.5L331.6 140.1L332.2 142.5L332.3 143.9L332.4 145.3L332.2 146.3L331.4 148.6L332.8 148.8L332.3 150.2L331.8 152.1L332.6 153.6L332.0 155.5L333.1 156.3L333.3 158.0L333.1 160.6L334.2 161.8L333.5 162.5L334.4 164.1L334.3 165.3L337.6 165.9L338.8 164.4L339.1 163.0L342.4 161.6L344.0 159.7L343.9 158.1L345.0 156.8L346.8 154.6L346.8 153.9L349.4 152.6L351.5 151.1L350.3 150.1L354.2 147.8L353.2 145.7L354.8 144.9L355.0 144.2L356.1 142.7L356.9 141.4L356.7 139.2L356.3 138.4L357.8 136.8L356.7 134.7L357.2 132.5L358.1 132.2L356.2 130.4L356.1 129.0L355.8 127.6L357.1 126.3L354.9 124.9L354.0 122.7L354.0 121.4L352.8 120.4L351.1 118.6L350.7 117.5L349.9 115.8L348.9 114.5ZM340.8 118.7L340.2 120.8L339.3 120.8L340.4 122.8L339.9 123.4L339.4 124.8L338.9 126.1L337.9 127.0L337.9 128.4L338.5 129.5L338.7 131.0L337.2 132.0L339.3 133.1L337.1 135.0L337.3 135.0L337.6 137.4L336.7 138.0L336.5 139.5L336.8 140.2L336.8 142.1L336.9 143.2L336.2 144.4L336.6 145.6L336.5 147.0L336.1 148.1L337.3 148.9L336.1 150.8L335.4 151.1L334.8 152.7L336.5 154.1L335.6 155.8L335.6 156.2L335.7 157.6L335.5 159.5L334.3 160.2L334.4 161.7L341.2 162.0L341.0 160.3L342.1 158.5L343.0 157.9L343.9 156.3L344.5 154.6L344.6 153.9L346.2 152.5L346.1 151.9L347.8 150.2L347.6 149.2L350.1 148.0L349.6 147.0L350.0 145.1L350.4 143.7L350.5 143.3L351.2 142.3L351.8 139.9L352.6 139.7L353.1 138.5L353.4 137.5L352.9 135.9L352.2 135.3L353.1 133.3L354.2 131.5L353.4 130.5L352.2 130.1L351.4 129.3L351.8 127.5L351.5 126.6L351.8 124.8L352.0 123.2L350.5 122.4L351.1 121.2L349.3 119.5L348.7 118.8Z" fill="none" stroke="#222" stroke-width="0.5700000000000001"/><path d="M364.2 143.1h0.7M359.9 147.9h0.7M363.1 121.2h0.7M326.5 143.1h0.7M356.3 117.7h0.7M331.4 163.0h0.7M323.7 146.0h0.7M362.8 136.0h0.7M341.6 114.1h0.7M331.1 122.8h0.7M354.2 115.7h0.7M326.6 123.6h0.7M330.2 165.4h0.7M361.4 141.0h0.7M325.0 140.6h0.7M324.7 159.9h0.7M354.5 119.6h0.7M360.4 147.4h0.7M359.7 150.9h0.7M357.1 151.5h0.7M364.6 135.6h0.7M353.8 149.8h0.7M328.7 152.9h0.7M330.3 156.5h0.7M343.6 161.5h0.7M358.3 148.5h0.7M359.7 122.4h0.7M333.6 121.7h0.7M324.2 144.4h0.7M331.5 125.9h0.7" fill="none" stroke="#444" stroke-width="0.7"/></g>
</g>
<g>
<rect x="394.50" y="112.40" width="60.30" height="58.00" fill="none" stroke="#555" stroke-width="0.9"/>
<line x1="394.3" y1="112.4" x2="394.3" y2="171.4" stroke="#222" stroke-width="1.5" stroke-linecap="butt"/>
<line x1="393.5" y1="170.6" x2="454.8" y2="170.6" stroke="#222" stroke-width="1.4" stroke-linecap="butt"/>
<path d="M394.5 170.4v2.2M394.5 170.4h-2.2M409.6 170.4v2.2M394.5 155.9h-2.2M424.6 170.4v2.2M394.5 141.4h-2.2M439.7 170.4v2.2M394.5 126.9h-2.2M454.8 170.4v2.2M394.5 112.4h-2.2" stroke="#222" stroke-width="0.8" fill="none"/>
<path d="M399.0 170.4v1.3M394.5 166.1h-1.3M401.7 170.4v1.3M394.5 163.4h-1.3M403.5 170.4v1.3M394.5 161.7h-1.3M405.1 170.4v1.3M394.5 160.2h-1.3M406.3 170.4v1.3M394.5 159.1h-1.3M407.3 170.4v1.3M394.5 158.1h-1.3M408.1 170.4v1.3M394.5 157.3h-1.3M408.8 170.4v1.3M394.5 156.6h-1.3M414.1 170.4v1.3M394.5 151.6h-1.3M416.8 170.4v1.3M394.5 148.9h-1.3M418.6 170.4v1.3M394.5 147.2h-1.3M420.1 170.4v1.3M394.5 145.8h-1.3M421.3 170.4v1.3M394.5 144.6h-1.3M422.4 170.4v1.3M394.5 143.6h-1.3M423.1 170.4v1.3M394.5 142.9h-1.3M423.9 170.4v1.3M394.5 142.1h-1.3M429.2 170.4v1.3M394.5 137.1h-1.3M431.9 170.4v1.3M394.5 134.4h-1.3M433.7 170.4v1.3M394.5 132.7h-1.3M435.2 170.4v1.3M394.5 131.2h-1.3M436.4 170.4v1.3M394.5 130.1h-1.3M437.5 170.4v1.3M394.5 129.1h-1.3M438.2 170.4v1.3M394.5 128.4h-1.3M439.0 170.4v1.3M394.5 127.6h-1.3M444.2 170.4v1.3M394.5 122.6h-1.3M447.0 170.4v1.3M394.5 119.9h-1.3M448.8 170.4v1.3M394.5 118.2h-1.3M450.3 170.4v1.3M394.5 116.8h-1.3M451.5 170.4v1.3M394.5 115.6h-1.3M452.5 170.4v1.3M394.5 114.6h-1.3M453.3 170.4v1.3M394.5 113.9h-1.3M454.0 170.4v1.3M394.5 113.1h-1.3" stroke="#333" stroke-width="0.5" fill="none"/>
<text x="421.6" y="111.1" font-size="3.6" text-anchor="middle" fill="#222" font-weight="bold">Data.010</text>
<text x="421.6" y="180.0" font-size="3.6" text-anchor="middle" fill="#222" font-weight="bold">FL1-H</text>
<text transform="translate(385.3 144.4) rotate(-90)" font-size="4.2" text-anchor="middle" fill="#444">FL2-H</text>
<text x="392.3" y="176.6" font-size="4" fill="#111" font-weight="bold">10<tspan dy="-1.6" font-size="2.8">0</tspan></text>
<text x="386.9" y="173.0" font-size="4" fill="#111" font-weight="bold">10<tspan dy="-1.6" font-size="2.8">0</tspan></text>
<text x="407.4" y="176.6" font-size="4" fill="#111" font-weight="bold">10<tspan dy="-1.6" font-size="2.8">1</tspan></text>
<text x="386.9" y="158.5" font-size="4" fill="#111" font-weight="bold">10<tspan dy="-1.6" font-size="2.8">1</tspan></text>
<text x="422.4" y="176.6" font-size="4" fill="#111" font-weight="bold">10<tspan dy="-1.6" font-size="2.8">2</tspan></text>
<text x="386.9" y="144.0" font-size="4" fill="#111" font-weight="bold">10<tspan dy="-1.6" font-size="2.8">2</tspan></text>
<text x="437.5" y="176.6" font-size="4" fill="#111" font-weight="bold">10<tspan dy="-1.6" font-size="2.8">3</tspan></text>
<text x="386.9" y="129.5" font-size="4" fill="#111" font-weight="bold">10<tspan dy="-1.6" font-size="2.8">3</tspan></text>
<text x="452.6" y="176.6" font-size="4" fill="#111" font-weight="bold">10<tspan dy="-1.6" font-size="2.8">4</tspan></text>
<text x="386.9" y="115.0" font-size="4" fill="#111" font-weight="bold">10<tspan dy="-1.6" font-size="2.8">4</tspan></text>
<g filter="url(#soft)"><path d="M416.0 125.5L417.2 125.2L417.3 126.8L416.2 127.1ZM416.6 135.5L416.7 134.2L417.5 133.4L418.2 134.5L417.7 135.6ZM424.6 146.7L425.0 145.8L426.0 146.1L426.1 147.4L425.3 147.8L424.7 147.4ZM430.7 143.1L431.3 141.5L432.8 141.6L432.1 143.6ZM408.8 155.7L408.4 156.5L407.4 156.9L407.3 155.6L407.7 154.8L408.4 155.0ZM434.5 131.2L434.3 130.7L434.4 130.3L434.6 129.7L435.1 130.2L435.0 130.8ZM426.9 125.8L426.5 127.3L425.8 127.0L425.5 125.5ZM423.6 132.7L424.1 131.7L424.5 132.8L424.9 133.8L424.0 133.9L423.1 133.7ZM415.7 154.9L416.5 154.7L416.6 155.5L416.5 156.3L416.0 155.8ZM424.7 146.3L423.9 146.6L423.9 145.5L424.7 145.3ZM422.3 129.1L422.6 127.2L424.1 127.5L423.6 129.3ZM428.4 133.7L427.9 133.1L428.1 132.0L428.8 132.9ZM422.0 139.3L422.5 138.2L423.5 138.8L423.3 140.1L422.3 140.4ZM434.3 149.8L434.0 150.5L433.5 150.9L433.0 150.4L433.1 149.5L433.7 149.2ZM434.4 127.9L435.5 128.1L435.0 129.4L434.3 129.6L433.4 128.8ZM426.0 115.8L427.1 116.3L426.8 117.6L426.3 117.9L425.6 118.0L425.4 116.9ZM417.2 124.1L417.6 123.3L418.2 122.8L418.5 123.7L418.8 124.9L417.6 125.3ZM410.9 161.7L412.2 161.2L413.2 162.5L411.7 163.5ZM431.2 129.2L432.0 129.7L431.8 130.8L430.9 131.3L430.2 130.0ZM408.2 149.6L407.7 150.1L407.0 149.6L407.4 148.6L408.3 148.6ZM427.0 137.5L427.8 137.6L427.9 138.6L427.2 138.4ZM410.1 129.6L410.6 129.2L411.1 129.5L411.0 130.3L410.4 130.2ZM429.2 121.5L428.6 121.3L428.9 120.5L429.4 120.8ZM433.4 123.5L433.1 122.5L434.0 122.6L434.2 123.4L433.8 124.0ZM410.3 126.6L410.6 125.5L411.5 125.4L411.7 126.6L411.1 127.2ZM426.0 117.7L425.5 117.9L425.4 117.2L425.7 116.9L426.1 116.8L426.2 117.3ZM417.7 159.6L418.3 158.3L419.5 159.0L418.6 160.1ZM429.4 133.4L430.0 134.0L429.6 135.0L428.9 134.3ZM408.4 141.4L407.9 141.1L407.3 140.8L407.5 140.0L408.1 139.9L408.4 140.5ZM425.9 157.5L425.3 156.6L425.5 155.8L426.4 156.2ZM424.5 143.4L424.2 144.4L423.7 145.3L422.8 144.9L422.7 143.5L423.6 143.0ZM424.5 143.8L424.1 142.7L424.6 141.9L425.3 141.4L425.8 142.4L425.3 143.2ZM421.8 160.4L421.7 161.1L421.1 161.3L420.7 160.8L420.9 160.0L421.5 159.7ZM422.8 158.4L422.7 157.9L422.6 157.5L422.9 157.4L423.2 157.6L423.4 158.3ZM421.9 136.3L422.6 135.9L423.0 136.3L423.1 136.9L422.8 137.4L422.1 137.3ZM419.5 149.9L419.0 150.0L418.8 149.6L418.7 149.1L419.1 149.0L419.4 149.3ZM427.9 118.0L427.5 117.1L428.4 116.9L428.4 117.8ZM415.8 132.9L415.1 132.1L414.8 130.9L415.8 130.7L416.4 131.7ZM423.3 119.8L422.9 119.2L422.8 118.1L423.8 117.7L424.3 118.9L424.2 120.2ZM435.2 124.4L436.1 125.5L435.2 126.3L434.4 126.3L434.1 125.0ZM412.1 161.9L412.9 162.2L412.9 163.3L412.1 163.3L411.4 162.7ZM417.9 144.6L417.2 144.2L416.8 143.7L417.3 143.0L418.1 143.4ZM432.4 124.5L433.3 123.9L433.4 125.2L432.6 125.6ZM427.4 152.9L428.0 152.1L428.4 153.0L427.9 153.7ZM406.6 153.0L406.4 153.9L405.8 154.0L405.8 153.1ZM419.3 159.8L420.2 159.8L420.6 160.9L419.7 161.3L419.3 160.7ZM429.9 128.7L430.8 129.0L430.5 130.3L429.7 129.8ZM427.9 123.2L428.6 123.0L428.9 123.9L428.2 124.2L427.5 124.0ZM434.2 121.6L434.8 121.1L435.3 122.0L434.8 122.6L434.3 122.8L434.1 122.2ZM427.9 149.9L428.7 150.5L428.4 151.6L427.3 151.2ZM433.6 123.2L433.8 122.0L434.7 121.5L435.3 122.7L434.6 123.8ZM424.7 141.2L425.8 141.5L425.4 142.8L424.5 142.4ZM433.5 128.8L433.6 129.8L432.9 130.1L432.4 129.5L432.8 129.0ZM405.8 144.5L405.0 144.0L405.1 142.7L406.3 142.4L406.8 143.9ZM428.1 142.9L429.1 142.9L430.0 143.3L429.4 144.2L428.9 145.1L428.1 144.3ZM427.8 118.6L428.5 118.8L428.5 120.0L427.5 119.6ZM412.1 142.9L410.9 143.2L410.5 141.9L411.0 140.6L411.9 141.5ZM415.9 122.5L415.6 121.3L416.6 120.9L417.4 121.9L416.6 122.6ZM419.8 139.6L420.1 139.1L420.6 138.8L420.9 139.5L420.7 140.2L420.0 140.6ZM418.9 159.8L419.6 159.5L420.0 160.1L420.1 160.9L419.5 161.7L418.9 160.9ZM428.4 153.9L427.5 154.6L427.2 153.4L427.1 152.5L427.8 152.5L428.5 152.8ZM436.3 124.0L437.4 123.9L437.3 125.4L436.4 125.4L435.9 124.8ZM429.7 117.3L429.3 117.6L428.7 117.5L429.0 116.7L429.4 116.8ZM420.0 123.0L420.6 124.5L419.1 125.4L418.8 123.4ZM436.7 145.5L436.8 144.7L437.0 144.0L437.4 144.6L437.7 145.0L437.4 145.6ZM422.1 124.3L422.3 125.8L421.5 126.6L421.3 125.4ZM424.1 121.0L424.6 120.4L425.2 119.9L425.3 120.8L425.2 121.3L424.7 121.5ZM420.2 140.8L419.4 141.2L419.2 139.8L420.3 139.6ZM431.7 130.3L431.0 130.5L431.0 129.3L431.8 129.5ZM432.7 150.6L433.1 151.4L433.2 151.9L432.9 152.2L432.3 152.2L432.2 151.3ZM426.4 119.5L425.6 119.6L425.8 118.7L426.2 117.9L426.5 118.8ZM427.1 125.0L427.5 125.6L427.9 126.2L427.4 126.7L426.7 126.6L426.5 125.6ZM430.3 129.2L430.1 130.5L429.2 129.9L428.8 128.5L430.0 127.8ZM407.4 155.0L407.1 154.5L407.3 153.8L408.0 153.8L407.8 154.7ZM426.6 154.4L426.9 153.5L427.5 154.1L427.1 154.8ZM424.4 150.6L423.4 151.2L422.8 149.8L423.7 148.9L424.3 149.6ZM429.1 121.5L429.1 122.5L428.5 122.7L427.9 122.2L428.3 121.2ZM424.0 152.6L423.4 151.2L424.4 150.3L424.7 151.5ZM431.3 117.7L431.9 119.5L430.8 119.9L430.3 118.9ZM432.0 145.3L431.6 143.7L432.8 143.7L433.4 145.2ZM410.9 149.5L410.2 148.3L410.8 147.1L411.6 147.4L412.3 148.0L411.7 148.8ZM429.1 145.0L428.1 145.9L427.7 144.5L428.5 143.8ZM428.4 155.5L429.3 156.8L428.3 157.8L427.3 157.4L427.3 156.0ZM423.0 158.8L423.5 157.8L424.5 158.4L423.8 159.4ZM428.1 141.9L427.3 141.0L427.8 140.0L428.7 139.9L428.8 141.1ZM421.0 148.1L422.1 148.2L421.8 149.8L420.5 149.5ZM437.8 130.6L438.0 131.3L437.6 132.1L436.9 131.6L437.0 130.4ZM435.7 131.8L436.5 131.1L437.0 132.0L436.8 132.9L436.2 132.6ZM425.5 125.9L425.9 124.9L426.6 125.5L426.5 126.2L426.0 126.8ZM407.1 145.2L407.8 144.5L408.1 145.4L407.7 145.9ZM423.3 118.0L423.4 118.8L422.9 119.0L422.3 118.9L422.4 118.2L422.7 117.2ZM424.8 154.8L426.2 154.6L426.7 156.4L425.3 156.4ZM420.3 131.9L420.3 132.5L419.8 132.8L419.5 132.4L419.4 131.8L419.9 131.4ZM434.2 141.5L433.2 141.1L433.0 139.8L434.0 139.2L434.3 140.3ZM420.7 153.3L420.7 154.8L419.7 155.3L419.1 154.5L419.1 153.5L419.7 153.3ZM421.6 119.5L421.2 120.0L420.6 119.8L420.4 119.2L420.8 118.6L421.2 119.0ZM430.2 131.7L429.8 131.7L429.9 131.2L430.2 130.7L430.4 131.3ZM433.7 143.4L433.4 144.3L432.6 143.9L432.9 142.9L433.2 142.4L434.1 142.4ZM409.3 141.5L409.2 142.0L408.8 142.1L408.4 141.9L408.6 141.2L409.1 140.9ZM406.3 141.6L407.2 140.5L408.1 140.9L407.7 142.7ZM418.3 122.8L418.1 122.0L418.3 121.4L418.9 121.2L419.4 121.9L418.9 122.4ZM437.0 125.1L437.6 124.2L438.3 125.1L437.6 126.4ZM431.6 139.8L432.2 139.6L432.1 140.4L431.9 140.7L431.1 140.6ZM423.5 129.8L424.1 130.5L423.5 131.1L423.1 130.5ZM433.0 139.3L432.2 138.3L432.8 136.8L433.7 137.7L434.1 138.9ZM423.4 137.6L423.6 136.6L424.5 136.3L425.1 137.4L424.5 138.3L423.9 138.1ZM408.8 142.3L408.8 141.2L409.6 140.9L410.2 141.5L410.1 142.4L409.5 142.8ZM429.0 118.2L429.0 117.2L429.8 117.3L430.2 117.7L430.0 118.4L429.5 119.0ZM415.4 142.7L415.6 141.8L416.0 141.8L416.1 142.4ZM419.8 139.0L419.7 140.4L418.6 140.9L418.3 139.6L418.8 138.6ZM429.9 117.5L429.9 116.8L430.6 116.8L430.6 117.9ZM410.9 146.1L411.3 145.4L411.7 145.5L411.7 146.4ZM411.9 137.6L411.5 138.4L410.8 139.6L410.0 138.5L410.1 136.8L411.2 136.9ZM433.9 146.3L433.1 146.2L432.7 145.2L433.7 145.0ZM415.3 143.0L414.8 144.5L413.6 143.8L413.3 142.1L414.5 142.2ZM428.2 157.6L427.4 158.1L426.8 156.9L427.8 156.6ZM428.8 150.1L428.1 150.6L427.5 150.1L428.1 149.1ZM435.6 137.1L435.6 138.4L434.5 139.0L434.3 137.2ZM411.5 134.3L411.9 134.8L411.5 135.4L410.9 135.4L410.8 134.6L411.0 133.9ZM430.7 149.9L431.2 148.6L432.2 148.8L432.8 150.3L431.5 150.6ZM437.7 131.9L437.5 131.4L437.6 130.9L438.0 130.3L438.4 131.0L438.2 131.6ZM407.5 150.7L408.1 149.7L408.7 150.6L408.2 151.5ZM429.9 142.1L429.5 141.3L430.2 140.9L430.7 141.5L430.4 142.1ZM413.2 145.7L412.6 146.0L412.5 145.2L412.8 144.8L413.3 144.5L413.4 145.3ZM405.2 149.7L406.5 149.3L407.0 151.0L405.5 151.4ZM413.7 153.1L414.6 153.1L414.3 154.1L413.8 153.9ZM410.3 135.6L410.6 136.7L409.8 137.0L409.1 135.8ZM414.6 155.6L415.1 157.1L413.7 157.7L413.4 156.0ZM413.2 127.5L413.3 128.6L412.8 129.5L411.8 129.4L411.8 128.2L412.2 126.8ZM428.5 154.8L428.5 154.0L429.1 153.9L429.3 154.5L429.4 155.1L428.9 155.1ZM418.1 158.0L417.8 159.7L416.7 159.6L416.6 157.9ZM410.7 156.8L410.1 155.9L410.1 155.2L410.8 154.6L411.5 155.8ZM427.7 122.4L426.7 121.2L427.7 120.3L428.4 121.3ZM430.1 138.1L430.9 139.4L429.4 139.8L428.9 138.2ZM432.1 136.5L431.7 135.9L431.8 135.3L432.4 135.3L432.7 136.0ZM431.8 120.5L432.8 119.9L433.5 120.8L433.4 121.9L432.6 122.5L432.0 121.6ZM406.6 138.8L406.9 140.0L405.9 140.2L405.5 138.9ZM421.8 148.0L423.1 146.8L423.6 148.4L422.7 149.7ZM409.5 157.1L409.2 156.4L409.4 155.5L410.0 156.0L410.1 156.7ZM418.3 128.6L418.6 129.6L417.9 130.0L417.1 129.5L417.3 128.1ZM435.7 123.2L435.2 122.2L435.0 121.0L435.9 120.6L436.3 121.5L436.3 122.3ZM410.4 159.2L409.9 160.0L409.3 159.4L409.5 158.6L410.2 158.3ZM434.4 131.8L433.8 132.1L432.7 131.2L433.8 130.2L435.1 130.5ZM417.5 138.7L416.8 139.9L415.9 139.0L416.2 138.0L417.0 137.3ZM428.1 151.0L428.7 149.9L429.9 150.2L429.1 151.6ZM429.6 150.1L430.4 149.0L431.0 150.2L430.7 151.3L429.8 151.2ZM431.9 136.8L431.3 137.3L430.9 136.5L431.3 135.8L431.7 136.3ZM422.9 122.8L422.6 123.8L421.8 124.4L421.3 123.5L421.3 122.3L422.2 121.9ZM415.1 156.7L415.4 155.7L416.7 155.7L416.6 157.5L415.5 157.5ZM434.4 118.4L434.7 119.3L434.1 119.5L433.7 118.8ZM436.3 128.8L437.2 129.8L436.0 130.3L435.0 130.0L435.3 128.5ZM411.1 154.9L411.0 154.1L411.6 153.7L411.9 154.4L411.7 155.1ZM423.0 122.5L423.9 122.1L424.7 123.3L423.5 123.7ZM410.3 129.6L411.1 130.1L410.7 131.1L409.9 131.0L409.7 130.1ZM408.6 157.2L408.1 156.0L408.5 155.4L409.0 156.0ZM417.5 158.4L418.8 158.7L418.8 160.5L417.5 160.8L416.7 159.6ZM408.2 153.7L407.7 154.4L407.0 154.4L407.3 153.1ZM427.7 115.3L427.8 116.8L427.9 118.0L426.9 118.0L426.4 117.1L426.6 116.1ZM416.6 159.8L416.7 160.3L416.6 160.9L415.9 160.9L415.8 160.1L416.1 159.6ZM428.5 150.7L428.9 150.3L429.6 150.7L429.0 151.4ZM431.4 133.6L431.5 132.8L432.2 132.8L432.8 133.8L431.9 134.4ZM408.2 138.8L408.1 139.8L407.2 140.6L406.4 139.1L407.4 138.0ZM423.1 143.2L423.2 142.6L423.7 142.6L423.6 143.3L423.6 143.7L423.1 143.7ZM425.6 149.6L426.0 149.3L426.4 149.7L426.2 150.3L425.8 150.6L425.3 150.2ZM410.3 159.8L410.8 160.0L410.9 160.6L410.5 160.8L410.2 160.5ZM433.4 124.7L433.3 125.1L432.8 125.1L432.9 124.5L433.2 124.1ZM425.3 155.5L425.3 154.2L425.6 152.9L426.7 153.7L426.5 155.3ZM412.8 130.4L413.2 129.2L414.2 130.2L413.4 131.4ZM427.5 142.8L428.2 142.9L428.1 144.0L427.2 143.8ZM429.0 158.5L428.3 157.2L428.7 155.8L429.9 156.1L430.1 157.8ZM407.0 153.3L406.4 153.7L406.0 152.9L406.5 152.2L407.2 152.5ZM406.2 157.6L406.7 156.7L407.4 157.3L407.9 158.4L407.0 158.6L406.5 158.3ZM407.2 141.7L407.7 143.4L406.4 143.1L406.0 141.6ZM435.6 129.3L436.5 129.9L436.0 131.1L434.9 130.5ZM424.6 147.1L424.1 147.4L423.5 147.6L423.5 146.8L423.8 145.9L424.6 146.3ZM417.5 150.4L417.1 150.3L417.0 149.8L417.1 149.3L417.7 149.1L417.7 149.9ZM415.7 154.0L415.1 153.0L416.1 152.3L416.7 153.6ZM420.9 136.5L420.3 137.0L420.0 136.3L420.4 135.9ZM431.0 150.0L430.7 149.1L431.1 148.0L431.9 148.6L432.4 149.3L431.8 150.0ZM426.1 129.0L425.7 128.4L425.8 127.3L426.7 127.5L426.9 128.4L426.9 129.6ZM414.6 137.5L413.5 138.3L412.5 136.9L413.8 136.2ZM431.4 131.8L431.8 131.1L432.7 130.9L432.4 132.1L431.8 132.4ZM427.9 141.1L428.0 140.3L428.6 140.2L428.6 141.1ZM408.5 133.4L408.7 134.6L408.1 135.5L407.8 134.3ZM431.3 130.1L430.2 131.0L429.7 129.4L430.7 129.0ZM433.4 151.2L432.5 151.0L432.4 150.0L433.0 149.5L433.9 150.0ZM416.2 139.8L416.6 141.3L415.3 141.9L415.2 140.3ZM411.9 131.3L411.9 130.1L412.6 130.0L413.0 131.1ZM437.2 126.9L437.1 126.0L437.8 125.6L437.9 126.6L437.7 127.5ZM434.1 142.2L434.3 141.6L434.7 141.8L435.0 142.1L434.9 142.8L434.5 142.5ZM424.1 155.2L423.6 156.2L422.9 156.0L423.1 154.8ZM418.3 144.3L418.6 143.8L419.1 143.8L419.5 144.6L419.0 145.2L418.4 144.9ZM422.7 160.0L423.4 159.4L423.9 159.4L424.7 159.9L424.1 160.8L423.3 161.0ZM434.2 126.9L434.3 127.9L433.5 127.7L433.4 126.7ZM432.5 148.0L434.0 148.7L433.3 150.4L432.0 149.9ZM432.5 121.9L432.3 121.2L432.7 120.0L433.4 121.0L433.3 122.2ZM411.3 137.6L411.9 137.2L412.5 137.5L412.4 138.3L411.9 138.6L411.6 138.1ZM432.0 139.1L433.1 138.2L433.9 138.7L434.1 140.1L432.8 140.8ZM412.0 131.7L410.7 130.8L411.1 129.5L412.6 129.4ZM413.2 145.8L413.4 144.3L414.5 145.1L414.1 146.4ZM433.4 137.5L433.3 138.3L432.6 138.7L432.5 137.4ZM423.8 133.6L424.2 134.2L423.7 134.8L423.1 134.8L422.7 134.1L423.1 133.2ZM414.4 155.0L414.9 155.4L415.3 156.0L414.7 156.2L414.0 155.9ZM438.2 138.7L437.8 138.8L437.4 138.4L437.5 137.8L438.0 137.6L438.2 138.1ZM428.2 135.6L427.2 134.6L427.9 133.7L429.2 134.2ZM421.0 141.2L421.6 142.6L420.9 143.5L419.8 142.5ZM414.7 154.1L415.5 153.0L416.2 153.9L415.6 154.8ZM433.8 145.0L434.0 145.6L433.5 145.9L432.8 145.7L433.2 144.9L433.5 144.6ZM420.6 143.6L421.5 143.7L422.1 145.1L421.0 145.8L420.0 145.7L419.7 144.3ZM426.0 148.0L425.1 149.1L424.4 148.2L424.0 146.9L425.3 146.6ZM409.2 134.4L408.1 134.9L408.1 133.6L409.2 132.8ZM413.7 137.9L413.0 139.1L411.8 139.0L412.0 137.5L412.9 136.7ZM421.4 150.9L421.6 150.4L422.4 150.3L422.2 151.4L421.5 151.7ZM406.8 156.6L406.7 155.2L407.7 155.3L407.8 156.5ZM430.4 124.4L431.5 124.5L431.9 125.9L430.8 125.6ZM434.3 122.3L435.2 122.4L434.9 123.4L434.4 124.3L433.8 123.6L433.7 122.6ZM422.6 160.9L422.1 160.1L422.9 159.8L423.6 160.0L423.3 160.9ZM415.7 157.5L416.4 157.1L416.8 157.7L416.7 158.9L416.0 158.3ZM410.3 150.1L409.5 150.7L409.0 149.4L409.9 149.2ZM416.4 149.0L415.9 149.3L415.2 149.1L415.5 148.2L416.0 147.9L416.9 148.0ZM437.1 140.0L436.2 139.6L436.5 138.5L437.1 137.7L437.8 138.5L437.9 139.6ZM412.6 137.3L413.0 135.4L414.2 136.4L413.9 138.0ZM409.7 146.0L409.8 145.5L410.1 145.3L410.4 145.6L410.2 146.1ZM434.6 131.5L433.8 132.1L433.3 131.4L433.5 130.5L434.1 130.7ZM411.2 150.2L410.8 151.1L410.2 150.5L410.2 149.6L410.8 149.7ZM409.9 146.3L410.2 147.5L409.8 148.3L408.9 147.4ZM416.5 138.5L417.1 138.2L417.5 139.0L416.7 139.5ZM435.8 136.7L436.0 137.8L435.3 138.1L435.1 137.3ZM423.9 149.7L424.7 148.8L424.9 150.0L424.9 151.0L424.0 150.7ZM426.3 120.2L427.5 121.0L426.7 122.7L425.5 122.0L425.1 120.4ZM409.7 132.5L410.4 133.1L409.7 133.8L408.8 133.6L408.8 132.2ZM415.0 131.4L414.6 131.4L414.4 131.1L414.4 130.7L414.8 130.3L415.3 130.8ZM419.3 128.7L418.4 128.5L418.7 127.4L419.4 126.3L420.4 127.1L420.4 128.7ZM430.6 118.2L431.5 118.4L431.7 119.9L430.5 119.5ZM409.1 144.4L409.6 145.5L409.2 146.5L408.3 145.5ZM408.8 149.4L408.6 150.5L407.7 150.8L407.8 149.4ZM431.0 146.5L430.0 146.6L429.9 145.5L430.4 144.6L431.0 145.4ZM423.2 139.1L422.2 140.6L421.3 139.1L422.3 137.4ZM418.1 124.3L418.4 125.3L418.1 125.8L417.3 125.9L417.6 125.0ZM416.7 145.5L416.6 144.4L417.0 143.3L418.0 143.7L418.5 145.0L417.5 145.5ZM411.2 157.9L411.6 158.5L411.4 159.0L411.1 159.2L410.8 159.0L410.5 158.2ZM414.5 129.9L414.1 129.6L413.8 128.7L414.6 128.6L414.8 129.3ZM421.5 126.6L420.5 127.2L419.8 126.1L419.8 124.6L420.9 124.7L421.4 125.4ZM421.3 152.0L420.5 152.1L420.4 151.0L421.0 150.0L421.8 150.6L422.1 151.7ZM426.7 132.5L426.4 132.2L426.5 131.5L427.1 131.5L427.1 132.2ZM415.9 130.8L415.4 131.1L414.9 130.5L415.3 129.8L416.1 129.9ZM436.6 147.5L436.0 148.9L434.9 148.1L434.8 146.5L436.0 146.5ZM417.2 156.3L416.9 155.5L417.7 155.2L417.9 156.3ZM422.2 121.0L422.0 119.8L423.1 120.0L423.1 121.5ZM427.1 119.0L426.2 119.0L426.4 117.7L427.1 117.6L427.8 118.2ZM423.8 126.0L423.2 125.2L424.0 124.5L424.5 125.1L424.3 125.7ZM429.3 141.9L429.3 140.7L430.3 140.7L430.3 142.0ZM427.5 127.6L428.3 127.9L427.8 128.7L427.2 129.1L426.5 128.5L427.1 127.7ZM404.8 154.4L405.4 153.3L406.3 153.7L406.6 155.0L405.6 155.2ZM431.9 128.0L431.9 127.1L432.1 126.5L432.7 126.6L433.1 127.3L432.7 128.2ZM412.1 162.1L412.7 160.7L413.7 161.3L413.4 162.8ZM414.2 157.6L413.5 157.4L414.0 156.8L414.4 156.2L415.0 156.8L414.7 157.7ZM429.5 123.1L430.1 123.9L430.1 124.8L429.6 125.9L428.8 125.1L429.0 124.1ZM414.7 144.2L414.1 144.9L413.5 144.2L413.5 143.3L414.1 142.6L414.7 143.3ZM424.6 148.9L424.7 150.1L424.1 151.1L423.3 150.4L423.3 149.4L423.7 148.5ZM421.4 152.6L421.5 153.6L420.7 153.5L420.1 152.7L420.9 152.1ZM407.1 152.1L407.7 153.0L407.4 154.4L406.2 154.0L406.2 152.5ZM427.7 146.6L426.9 145.8L427.2 144.6L428.1 144.4L428.6 145.6ZM407.0 133.7L407.3 135.2L406.5 136.2L406.0 134.8ZM421.2 129.2L422.0 129.6L422.2 130.6L421.7 132.0L420.5 131.4L420.7 130.0ZM414.8 152.6L415.7 152.7L415.7 154.1L414.7 153.8ZM415.9 127.5L417.1 128.1L417.0 129.9L415.7 129.2ZM408.7 147.2L407.8 146.9L407.7 145.6L408.8 145.8ZM414.2 148.9L415.3 149.7L415.1 151.1L414.2 151.0L413.9 150.3ZM434.3 137.2L435.5 136.2L435.9 137.7L434.9 138.7ZM425.2 130.3L424.5 131.2L424.0 131.9L423.6 131.0L423.7 130.3L424.3 129.4ZM434.1 143.2L432.9 142.3L433.5 140.9L434.6 141.6ZM411.4 125.8L411.5 126.7L410.8 126.6L410.5 126.3L410.3 125.6L410.9 125.4ZM415.2 142.3L415.5 141.7L416.0 141.7L416.1 142.4L415.9 142.8L415.5 142.9ZM418.4 124.7L418.6 123.9L419.1 124.4L419.0 125.4ZM415.2 124.2L416.0 123.3L417.0 123.7L416.3 125.0ZM429.1 148.9L429.5 147.9L430.6 147.6L430.9 149.2L429.9 149.5ZM436.5 125.3L437.3 126.4L436.8 127.9L435.9 126.6ZM432.7 121.8L433.2 122.7L432.4 123.5L431.6 123.0L431.5 122.0L432.1 121.3ZM426.9 127.3L425.4 126.8L425.7 125.2L426.6 124.4L427.5 125.5ZM420.8 145.2L420.0 145.1L419.8 144.2L420.3 143.5L420.6 144.3ZM431.3 131.6L432.3 132.0L431.7 132.9L430.8 132.6ZM428.8 120.5L428.2 121.2L427.7 120.3L428.0 119.3L429.0 119.4ZM424.7 126.8L423.9 127.2L423.8 126.0L424.2 125.3L425.1 125.0L425.5 126.2ZM432.0 135.0L432.6 135.0L432.9 135.6L432.5 136.3L432.0 135.8ZM425.7 145.6L424.9 144.7L425.8 143.8L426.8 144.9ZM429.9 129.7L429.8 129.2L430.0 128.8L430.3 128.9L430.5 129.3L430.4 129.9ZM406.4 151.6L407.6 151.6L408.1 153.0L407.2 154.2L406.6 153.0ZM423.6 145.6L424.6 145.5L425.2 147.2L423.6 147.2ZM430.8 148.3L431.9 148.6L431.8 149.8L431.0 149.6ZM425.8 157.0L426.2 157.5L425.8 158.2L425.2 158.2L425.1 157.4L425.3 156.9ZM425.6 124.3L425.8 125.8L424.5 125.3L424.6 123.6ZM428.1 157.2L428.6 157.1L428.5 157.7L428.3 158.0L427.9 157.9L427.7 157.4ZM416.7 120.2L417.5 119.9L418.0 119.9L418.1 120.5L417.8 121.2L417.1 121.2ZM414.9 143.2L415.8 143.0L416.3 143.2L416.4 143.9L416.1 144.7L415.5 144.1ZM411.3 138.7L411.8 137.7L412.4 137.5L413.3 137.8L412.9 139.0L412.0 139.7ZM416.8 137.9L417.1 138.6L417.4 139.3L416.8 139.4L416.2 139.2L416.4 138.5ZM409.6 130.4L409.1 129.8L409.7 129.2L410.0 129.9ZM434.8 121.8L435.4 121.5L435.5 122.4L434.7 122.9ZM432.5 131.2L433.1 131.7L433.5 132.2L433.3 133.0L432.6 132.9L432.5 132.2ZM408.8 130.7L408.7 130.0L409.4 129.6L409.3 130.6ZM419.2 122.8L419.8 124.1L418.6 124.9L417.6 123.8L418.1 122.2ZM429.1 157.6L428.4 158.8L427.9 157.7L428.3 156.8ZM428.4 154.1L427.7 154.0L427.8 153.0L428.7 153.0ZM414.5 145.6L414.5 146.2L414.0 146.3L413.8 145.6ZM426.7 147.3L427.3 147.9L427.0 149.3L426.3 148.4L425.7 147.3ZM423.4 161.2L423.5 161.9L423.2 162.6L422.5 162.2L422.4 161.2L423.0 160.9ZM434.1 138.8L435.2 138.4L435.9 139.0L436.0 140.5L434.9 140.0ZM415.6 131.6L415.1 132.7L414.4 132.9L414.0 132.3L414.1 131.6L414.8 130.5ZM407.0 151.8L406.1 150.8L406.7 149.8L407.8 149.2L407.7 150.8ZM423.4 161.9L423.0 161.4L422.6 160.9L423.1 160.4L423.8 160.5L424.0 161.4ZM414.6 128.7L414.2 129.3L413.5 129.5L413.5 128.6L413.8 128.3L414.3 127.9ZM426.6 160.0L425.6 160.2L425.4 159.1L426.2 158.9ZM436.3 133.0L437.0 133.2L437.6 133.9L436.8 134.6L436.4 134.0ZM422.4 151.5L422.7 151.4L423.2 152.0L422.6 152.3L422.2 152.0ZM432.0 126.2L432.0 125.4L432.8 124.9L433.0 126.3ZM414.3 161.0L414.7 162.2L414.4 162.9L413.8 162.8L413.2 161.7ZM412.6 153.8L413.1 154.8L412.6 155.6L411.8 156.2L411.6 155.0L411.6 153.9ZM424.7 152.8L424.4 152.2L424.7 151.7L425.1 151.7L425.2 152.1L425.1 152.4ZM413.7 123.5L413.4 124.6L412.8 123.9L412.5 123.2L413.2 123.1ZM423.2 120.8L424.2 122.4L422.9 123.3L422.1 122.0ZM427.9 139.7L427.3 139.1L427.5 138.1L428.1 138.4L428.3 139.0ZM406.7 140.9L407.5 140.1L407.9 141.5L406.9 142.0ZM418.5 143.2L418.2 143.0L418.2 142.5L418.5 142.3L419.0 142.4L418.8 143.0ZM430.1 127.8L430.4 127.3L430.9 127.6L430.6 128.2L430.3 128.4ZM437.3 143.1L436.3 143.5L435.5 142.5L435.9 141.3L436.7 141.4L437.3 141.9ZM423.6 120.5L424.3 120.6L424.4 121.6L423.6 121.8L423.4 121.0ZM414.4 135.4L415.3 135.4L415.4 136.7L414.5 136.4ZM412.3 161.0L412.5 162.1L411.6 161.8L411.7 160.9ZM434.0 127.2L434.7 127.3L434.8 128.3L434.1 128.7L433.7 128.2L433.3 127.5ZM409.7 137.3L409.2 137.7L408.6 137.1L409.3 136.2ZM423.5 159.7L424.1 159.3L424.5 159.9L424.0 160.6ZM436.7 134.9L436.0 134.7L436.0 133.9L436.5 134.0ZM426.2 126.9L426.8 126.3L427.4 126.8L427.2 127.5L426.6 127.8ZM427.3 153.8L428.1 155.1L427.1 155.5L426.4 154.7ZM436.7 133.0L436.8 133.9L436.5 134.6L436.0 134.3L435.7 133.8L436.0 133.2ZM432.2 119.2L431.5 119.2L431.2 118.1L431.9 117.3L432.7 117.7L432.6 118.6ZM418.7 151.9L418.2 152.0L418.2 151.0L418.9 151.2ZM430.8 144.8L430.2 144.7L430.2 143.7L430.9 143.8L431.2 144.1L431.5 144.9ZM431.1 118.6L431.6 119.4L431.0 120.3L430.4 119.3ZM413.1 157.6L412.8 158.3L412.3 158.0L412.0 157.0L412.8 157.1ZM430.0 147.0L430.7 146.8L430.8 147.8L430.5 148.2L430.0 148.5L429.4 147.8ZM425.5 124.2L425.8 124.7L425.8 125.7L424.9 125.5L425.0 124.5ZM406.9 152.4L406.1 152.7L406.4 151.5L407.0 151.7ZM416.0 129.1L417.1 128.3L417.6 129.5L416.7 130.4ZM413.7 132.6L413.3 132.3L413.4 131.8L413.7 131.2L414.1 131.8L414.0 132.3ZM422.9 139.1L422.5 140.0L421.6 139.6L422.2 138.8ZM432.0 119.7L433.1 119.7L433.4 120.7L432.6 121.2ZM428.2 138.3L429.0 140.0L428.2 141.5L427.1 139.9ZM411.1 156.5L411.1 157.3L410.9 158.0L410.2 157.9L410.0 157.0L410.4 156.2ZM435.0 140.6L435.8 141.6L435.3 143.2L434.0 142.0ZM432.4 129.1L431.9 129.5L431.4 129.2L431.5 128.3L432.2 128.3ZM408.6 140.9L409.1 141.4L409.2 142.3L408.3 142.4L408.0 141.4ZM411.8 142.2L411.1 140.7L412.1 140.0L412.5 140.9ZM432.0 141.8L433.4 142.0L433.0 143.4L431.7 143.7ZM430.1 153.4L431.2 153.7L431.1 155.1L430.3 155.1L429.4 154.6ZM429.7 147.8L430.0 148.6L429.9 149.2L429.4 149.4L429.0 148.6ZM409.5 140.0L409.5 141.1L408.9 141.5L408.6 140.9L408.8 140.3ZM420.4 119.9L420.2 121.2L419.4 121.4L418.9 120.7L419.5 120.1ZM413.3 126.2L413.7 126.9L413.5 127.8L412.7 127.2ZM437.0 132.8L436.5 132.1L436.9 130.9L437.9 131.4L437.7 132.5ZM415.3 147.1L415.0 146.2L415.3 145.1L416.2 145.6L416.1 146.9ZM416.0 148.4L415.8 148.9L415.3 148.9L415.3 148.2L415.5 147.4L416.0 147.9ZM428.4 133.0L428.8 133.6L428.5 134.1L428.1 134.4L427.6 133.9L428.0 133.4ZM425.8 119.9L426.0 118.9L427.0 118.8L427.0 120.1L426.3 120.8ZM412.4 135.3L411.8 134.8L412.0 133.8L412.9 134.3ZM437.9 130.3L437.3 130.7L436.9 130.0L436.7 129.2L437.4 128.7L437.8 129.5ZM431.1 154.1L430.4 154.1L430.4 153.1L431.4 152.9ZM427.7 118.2L428.6 117.6L429.2 118.6L428.3 119.2ZM436.1 147.7L435.7 149.0L434.6 148.8L434.8 147.6L435.4 146.9ZM434.3 130.9L434.4 131.5L433.9 131.9L433.7 131.3L433.8 130.9L434.0 130.6ZM422.2 147.8L422.2 148.5L421.9 149.0L421.1 149.1L421.2 148.1L421.7 147.6ZM415.7 133.2L415.7 133.9L415.3 134.5L415.1 133.8L415.1 133.3ZM417.6 157.9L416.6 158.5L416.1 157.4L417.0 156.8ZM425.4 124.6L425.1 123.8L425.4 123.4L425.7 123.8ZM436.7 138.5L437.6 139.8L436.3 139.9L435.9 138.9ZM426.5 157.5L426.1 157.6L425.6 157.2L426.0 156.7L426.5 156.1L426.9 156.9ZM436.4 138.3L437.2 138.6L436.7 139.5L436.1 139.6L435.3 139.3L435.6 138.1ZM430.8 122.0L431.3 122.4L431.0 123.2L430.5 123.1L430.0 122.2ZM424.5 124.1L424.9 125.2L424.3 125.9L423.6 125.0ZM416.2 161.1L414.6 161.2L414.4 159.0L415.8 159.4ZM418.2 138.9L417.8 137.8L418.6 137.5L419.1 137.9L419.0 138.8ZM415.1 127.9L414.5 127.9L414.3 127.2L414.7 126.5L415.1 127.0L415.2 127.4ZM426.8 142.7L426.0 143.1L425.8 141.7L426.7 141.6L427.2 142.0ZM425.5 160.2L424.9 158.4L426.3 157.6L426.6 159.2ZM416.7 156.2L416.2 156.3L415.5 156.0L416.0 155.4L416.5 155.5ZM409.5 127.0L410.6 127.6L410.1 129.0L409.2 128.9L409.0 128.0ZM416.0 150.1L415.7 150.7L415.0 150.2L415.6 149.1ZM411.1 154.7L411.0 156.3L410.0 155.4L409.6 154.2L410.6 153.6ZM431.2 125.1L431.1 124.6L431.5 124.0L431.8 124.7L431.7 125.5ZM407.4 142.9L406.5 143.9L406.0 142.5L406.4 141.4L407.3 140.6L408.2 141.9ZM434.3 142.0L434.4 143.9L433.5 144.7L433.0 143.2ZM422.1 120.8L422.1 121.7L421.9 122.6L421.3 122.2L420.8 121.5L421.3 120.7ZM424.3 126.0L424.7 125.5L425.1 125.8L425.6 126.3L425.1 126.7L424.5 126.7ZM434.5 126.5L435.3 126.6L435.3 127.7L434.6 127.8L433.9 127.3ZM427.2 142.6L427.5 143.0L427.4 143.5L427.0 144.0L426.5 143.5L426.6 142.7ZM414.8 136.6L414.3 135.3L414.7 134.7L415.6 135.2ZM426.1 122.4L426.7 121.8L427.4 122.3L427.1 123.3L426.5 123.1ZM435.1 128.9L435.2 128.1L435.7 128.2L436.0 128.7L435.6 129.0ZM415.3 137.5L415.7 138.2L416.1 139.2L415.2 139.2L414.4 139.0L414.7 137.9ZM406.4 141.3L407.7 140.3L407.9 141.9L407.0 143.1ZM430.3 149.6L429.8 148.7L430.5 148.1L431.0 148.7L431.0 149.5ZM408.9 158.2L408.7 157.5L409.3 157.5L409.8 157.9L409.4 158.6ZM420.4 127.2L420.0 128.3L419.3 127.6L419.4 126.8L419.6 125.8L420.4 126.3ZM413.1 159.0L413.9 160.4L412.5 161.4L411.8 159.5ZM410.4 131.5L411.1 131.4L411.4 132.5L410.4 132.5Z" fill="none" stroke="#111" stroke-width="0.56"/><path d="M418.6 139.6l-0.7 2.0M431.1 146.0l-1.8 0.5M429.5 130.1l1.8 0.8M427.9 135.0l0.5 1.4M437.0 128.7l-1.0 1.7M414.9 137.1l-1.7 1.2M415.7 137.1l1.4 0.3M416.3 158.9l1.1 1.1M432.6 136.4l0.7 1.4M422.3 126.9l-1.9 1.2M409.9 151.1l1.9 0.8M412.4 131.9l0.4 0.9M421.6 122.1l0.1 1.1M408.7 149.9l2.0 0.8M408.5 152.4l0.3 1.4M419.7 141.2l0.2 1.6M415.4 163.8l1.5 0.1M420.0 158.2l-2.2 0.5M423.4 134.5l0.0 1.2M410.9 143.2l1.1 1.0M436.9 122.4l-1.3 1.7M415.8 159.7l-1.6 0.9M423.1 143.8l-0.6 0.7M414.3 152.9l-2.2 0.3M429.6 116.8l-2.0 0.4M431.5 151.5l-1.1 1.1M408.4 131.5l0.1 1.4M411.8 134.9l0.4 1.4M405.5 141.1l0.6 0.9M425.7 143.6l1.1 0.4M425.4 156.3l-1.3 0.3M412.2 132.1l1.1 0.9M423.5 149.9l-1.7 0.4M432.2 143.0l-0.6 1.1M421.5 125.1l0.5 2.0M414.5 162.2l-2.0 0.6M435.5 134.3l1.6 1.1M427.4 151.0l1.4 1.8M431.0 133.4l2.0 0.7M408.4 154.0l-1.8 0.8M424.6 121.6l-2.1 0.5M425.7 128.4l-0.9 0.3M428.0 144.9l-2.0 0.0M426.0 153.1l0.4 1.2M409.8 128.4l-1.0 0.7M429.9 135.6l0.8 1.2M431.6 152.7l-1.5 1.4M433.6 137.7l-0.4 2.0M427.7 123.0l-1.1 1.9M428.2 129.9l-0.9 0.8M413.0 133.8l1.3 1.0M429.4 119.7l1.0 0.1M429.7 129.4l-0.2 2.1M434.4 121.2l1.0 0.4M416.9 120.4l0.9 1.0M427.6 143.1l-1.8 0.8M428.3 117.0l-0.1 1.1M425.1 128.7l-0.2 1.5M421.2 143.3l-1.7 1.3M407.0 135.5l-0.6 1.6M410.8 128.7l-1.8 0.6M415.3 138.4l0.1 1.6M418.0 157.4l0.1 1.1M431.5 122.4l0.2 1.8M411.4 135.8l-0.2 2.3M427.9 119.0l-0.3 1.1M410.2 157.7l-1.1 1.1M428.4 154.7l-1.5 1.5M415.6 162.7l1.5 1.5M436.2 130.9l-0.9 0.6M410.1 159.8l1.9 1.2M414.9 157.0l-0.7 0.7M431.3 150.0l1.1 0.4M425.8 122.6l-1.1 0.9M413.9 134.7l1.6 1.0M421.5 150.8l1.2 1.0M425.8 138.8l0.4 1.2M430.1 155.1l-0.1 1.9M435.9 139.4l-1.8 1.2M407.0 134.5l1.0 1.8M408.3 135.8l2.0 0.3M408.7 145.1l-0.9 1.8M420.7 121.2l0.5 1.2M407.9 130.6l-0.6 1.7M425.9 156.7l1.3 1.8M435.6 141.2l1.8 1.3M414.7 124.0l-0.2 2.2M430.2 143.5l0.3 1.8M426.6 118.1l1.0 0.4M412.5 123.9l-0.9 0.3M415.1 128.9l0.5 1.4M435.3 146.2l-0.7 1.6M434.6 147.7l-1.6 1.3M419.6 157.7l-1.8 1.3M425.4 152.6l-1.0 0.8M413.2 160.1l-2.0 0.5M430.9 133.5l1.2 1.0M411.4 155.9l-1.2 0.9M418.8 130.8l1.3 0.4M433.6 133.6l-0.7 1.3M428.9 127.0l0.6 1.1M424.5 154.9l0.9 0.7M423.7 150.5l-1.7 0.5M416.5 152.0l1.8 1.3M425.7 137.3l-0.9 1.9M428.0 116.8l-1.1 1.6M434.1 138.4l1.3 0.7M422.1 153.5l0.5 1.8M414.1 138.5l2.1 0.0M427.9 147.8l-1.8 0.6M429.6 133.5l1.0 0.3M424.9 157.5l0.3 1.2M416.0 149.0l-0.4 1.8M420.0 136.3l1.6 0.6M409.1 127.5l2.1 0.4M429.3 127.9l0.8 1.8M423.9 155.5l0.6 0.8M429.3 150.2l-1.3 0.6M428.6 133.4l-1.5 1.5M430.2 141.9l0.9 1.8M435.1 118.5l-0.2 1.8M431.3 122.7l-0.8 2.0M413.4 134.1l1.7 1.0M424.6 119.3l1.1 1.9M429.7 124.7l-1.5 1.7M432.8 137.0l-0.7 1.2M433.5 136.4l1.7 1.3M408.2 153.2l0.7 1.7M428.9 145.9l0.3 1.4M409.2 133.2l-0.1 1.4M430.2 150.7l-0.2 1.2M427.8 137.4l-0.3 1.0M430.1 132.0l-1.8 0.4M436.7 125.9l-0.9 1.8M426.4 124.6l-1.5 0.1M435.5 125.4l0.9 0.3M407.0 130.4l1.9 0.9M423.6 160.1l1.6 1.4M423.0 141.5l-1.5 1.7M429.2 128.0l1.8 0.9M424.1 140.8l1.3 0.6M422.6 153.1l-0.8 0.6M412.7 134.7l1.0 1.7M436.7 129.2l0.1 2.3M414.2 148.4l0.9 0.8M428.5 139.9l0.2 1.6M431.6 147.4l1.6 1.4M435.8 135.5l0.2 2.1M421.9 143.6l0.9 1.2M431.8 147.6l0.6 0.9M436.7 135.1l-1.0 0.5M415.4 162.5l1.2 1.2M435.2 145.0l-1.5 0.8M406.5 144.3l1.8 0.8M420.4 128.1l-1.2 0.8M422.2 120.5l-1.1 0.3M427.4 141.7l1.8 0.9M423.5 137.3l0.3 1.9M410.9 133.0l-1.6 1.3M428.8 119.0l-1.8 1.3M410.7 161.4l-0.1 1.2M409.0 136.1l-0.0 1.4M428.4 116.5l-0.1 1.7M430.6 145.0l0.6 1.3M427.3 122.6l-0.2 2.0M434.2 125.7l1.8 1.3M411.0 154.3l2.2 0.5M429.0 156.9l1.8 0.5M433.6 130.2l-0.4 1.3M408.9 153.6l-1.4 0.2M437.8 132.9l-1.6 0.8M422.9 128.1l-0.6 1.2M418.6 159.8l-0.3 2.2M434.0 141.8l1.3 1.3M436.5 124.5l-1.0 0.3M414.1 155.5l-1.2 1.3M416.6 121.7l-1.6 0.7M432.1 150.4l0.3 1.6M430.0 144.0l1.9 1.0M431.6 150.3l-0.8 1.5M433.5 124.4l-0.7 1.1M432.5 149.6l0.1 1.5M409.5 128.3l-0.8 1.8M435.4 138.2l1.1 1.7M418.4 153.8l1.0 0.3M436.4 137.2l0.5 1.1M435.2 137.2l1.7 1.1M416.7 160.7l-0.2 1.9M415.5 134.5l-1.0 1.1M426.2 147.1l1.5 0.1M430.9 121.4l-0.7 1.6M410.5 127.2l-1.1 0.4M416.2 151.1l-1.3 1.2M436.2 141.1l-0.5 1.0M409.0 159.5l2.2 0.5M420.1 120.5l-1.0 1.6M404.9 150.6l1.5 1.4M426.5 118.1l1.5 1.6M435.6 143.3l-0.9 1.8M432.4 128.5l-0.4 1.3M429.3 117.1l-1.0 1.3M434.9 146.7l-0.2 2.2M423.1 136.9l0.8 1.9M413.9 157.7l-0.1 1.5M429.1 144.6l1.7 0.3M415.2 154.8l1.4 0.8M424.6 130.9l-1.3 0.6M428.9 133.5l0.1 1.1M436.3 125.8l0.9 0.4M406.2 147.3l-0.3 1.8M426.6 124.7l-0.0 1.0M427.3 133.1l-1.3 0.5M429.7 137.6l-0.9 1.8M434.0 150.1l-0.7 1.5M423.5 160.5l-0.3 1.9M409.7 152.4l0.1 1.2M415.7 138.6l-1.4 0.5M415.5 123.7l1.3 0.5M407.8 145.4l1.2 1.0M419.4 130.1l0.9 1.0M410.1 138.4l0.9 0.4M410.2 151.7l-1.4 0.8M426.7 154.9l0.9 1.4M435.4 132.5l-0.1 2.3M405.9 150.7l1.4 0.3M429.1 148.9l0.8 0.6M416.6 157.2l1.1 0.7M436.6 124.3l-1.3 1.7M422.4 140.0l-0.5 1.4M436.1 123.8l-1.0 1.8M418.7 145.7l0.1 1.2M435.1 126.6l2.1 0.5M429.9 153.4l1.8 1.3M419.0 134.6l-0.4 1.2M424.2 143.0l0.9 1.0M417.5 120.7l0.1 2.3M427.2 121.3l1.8 1.1M434.6 141.3l0.9 0.6M431.0 145.4l-0.6 1.5M406.4 148.9l-1.1 0.1M435.3 121.3l0.7 1.3M417.3 158.1l1.9 0.6M417.9 157.9l1.2 1.5M422.9 152.1l1.9 1.3M420.1 138.5l-1.1 1.4M422.0 161.4l1.1 0.1M422.6 144.6l1.9 1.0M435.0 142.0l0.5 1.9M411.3 129.0l0.9 1.3M436.5 145.2l-2.0 0.9M425.2 145.9l0.1 2.0M416.6 122.3l-0.2 1.1M420.9 119.9l0.5 1.2M428.9 156.8l-1.1 0.4M420.9 143.2l-0.8 0.9M412.7 136.9l1.2 0.4M412.3 132.4l-0.6 0.8M416.2 127.0l1.1 1.2M412.7 134.6l-2.1 0.6M430.5 132.1l-1.3 0.2M431.2 140.9l0.9 1.6M415.9 147.7l2.0 0.1M428.8 124.7l1.2 0.5M413.4 127.5l-0.1 1.6M434.3 123.4l0.2 1.0M408.4 134.9l-0.3 1.9M436.7 125.8l0.1 1.4M414.2 148.1l0.7 1.2M438.0 124.3l-1.8 0.5M415.4 147.7l0.9 1.4M418.7 128.7l0.3 1.6M419.9 134.0l-0.8 1.9M408.8 132.6l1.6 0.8M426.5 151.8l2.1 0.1M432.4 144.2l0.2 1.3M430.4 150.4l-1.3 1.8M420.6 146.8l-0.5 1.1M413.8 138.1l-1.5 0.7M439.1 134.8l-1.7 0.2M433.2 152.9l-1.7 0.6M425.7 121.8l-0.5 0.9M422.8 143.6l-2.0 1.0M413.0 131.4l-1.3 1.7M420.4 154.1l0.6 1.9M415.4 155.1l1.1 0.6M422.4 155.2l-1.2 1.1M431.5 124.9l-1.3 1.2M436.5 128.8l-0.1 1.9M435.0 146.0l0.9 0.8M428.4 121.0l-2.2 0.0M427.7 117.9l0.2 1.9M423.6 134.0l0.6 2.0M407.4 143.1l1.8 1.2M408.4 159.3l2.2 0.1M431.3 130.7l1.0 1.5M420.2 138.3l0.0 1.3M437.3 135.7l2.0 0.8M429.4 143.4l-1.5 1.4M430.9 126.1l-1.3 1.0M414.3 146.5l-0.4 1.5M425.7 145.1l2.0 0.2M438.6 124.9l-1.2 1.9M433.6 120.0l0.3 2.0M436.7 124.8l-0.6 1.5M420.9 152.8l1.1 1.0M413.4 141.0l-2.1 0.0M434.6 138.0l-0.6 1.1M424.4 158.4l-0.9 1.3M414.9 144.6l1.4 1.5M433.2 128.3l0.1 1.2M433.9 126.1l-1.5 0.4M421.1 143.0l2.2 0.1M417.6 139.5l-1.6 1.3M420.2 147.2l1.3 1.1M435.1 144.2l-0.9 1.7M417.8 161.1l0.1 1.0M421.4 133.7l0.9 1.4M427.6 137.5l-1.3 0.1M439.0 132.1l-0.7 1.0M420.5 152.2l1.6 1.3M417.8 140.4l1.3 1.3M421.5 125.3l2.0 1.0M416.8 159.3l-1.1 1.9M422.3 140.6l1.9 0.9M428.5 157.5l-0.4 1.0M429.9 153.5l1.2 0.2M433.4 132.8l0.2 1.2M428.2 127.0l0.2 1.4M433.6 130.0l-0.6 1.0M408.8 141.7l1.4 0.5M408.6 146.8l1.4 1.1M435.4 129.7l1.5 1.7M430.3 142.5l-0.4 1.1M428.7 145.4l1.4 0.2M435.1 132.6l1.4 0.2M420.2 153.2l-1.4 0.5M409.9 131.2l0.7 2.0M429.9 154.3l0.4 1.6M416.9 120.1l-1.7 1.3M417.6 146.7l-2.2 0.5M424.8 149.6l-1.9 0.1M435.4 121.8l-1.6 1.3M414.1 160.0l-1.1 0.7M437.8 131.0l-1.7 0.5M426.4 154.4l-0.7 0.9M412.5 159.9l1.5 0.9M413.2 125.1l1.8 0.4M410.8 146.1l-1.0 1.2M423.4 121.4l1.4 0.6M425.1 127.4l-1.2 1.1M431.0 129.3l1.4 1.5M428.1 117.9l-1.0 0.6M431.0 151.8l-1.3 0.6M419.3 121.3l1.2 0.5M421.3 152.2l-0.3 1.6M410.2 157.1l-1.6 0.2M412.8 142.4l1.5 0.3M414.4 131.8l0.8 1.9M414.6 144.0l1.3 0.2M435.2 124.5l1.0 0.9M431.4 152.2l-0.0 2.2M411.9 131.7l0.3 1.4M433.1 122.3l1.9 1.0M424.6 155.0l0.9 1.6M417.4 131.6l1.9 1.1M417.9 119.5l0.8 1.0M419.3 128.7l0.5 1.6M424.7 130.8l0.4 1.4M435.8 141.4l0.5 1.8M418.2 150.1l-0.3 2.1M433.0 139.0l-0.7 1.9M428.2 157.4l0.5 0.9M435.0 129.0l1.6 0.3M437.2 138.9l1.0 1.8M423.1 160.3l0.4 1.6M427.2 117.6l-1.7 0.8M437.2 134.7l-1.4 0.9M423.7 160.0l-1.2 0.6M432.1 129.3l0.5 2.1M427.5 153.2l0.7 1.2M428.3 154.1l0.8 1.0M409.7 155.3l2.1 0.7M412.0 157.5l1.1 1.7M435.6 140.0l1.4 0.1M415.0 143.9l0.9 0.5M429.7 141.1l-2.1 0.0M413.2 123.2l-1.4 1.3M434.9 138.9l0.4 1.1M418.0 148.8l0.3 1.7M422.1 155.0l1.1 0.5M426.0 120.0l1.6 0.7M429.3 139.5l1.6 0.0M435.4 120.7l-1.4 1.2M414.4 127.5l0.6 1.8" fill="none" stroke="#111" stroke-width="0.6100000000000001"/><path d="M426.4 117.8L422.1 118.5L417.7 119.5L415.3 121.0L413.9 122.5L412.2 123.4L410.3 125.2L410.1 126.6L409.8 127.6L408.3 129.0L409.0 130.3L408.0 131.8L408.0 132.5L406.9 134.2L407.3 134.9L407.4 136.9L406.7 138.8L406.8 140.0L406.2 141.4L406.3 142.7L406.0 144.2L405.6 145.7L405.8 146.4L406.3 147.4L407.0 148.3L405.7 150.4L406.3 152.5L405.6 152.8L406.3 154.5L406.3 155.9L407.6 157.2L407.0 158.7L408.7 159.9L408.5 160.9L409.8 162.7L411.1 164.5L415.7 164.1L421.3 161.7L424.3 161.8L426.0 159.9L427.7 158.7L430.1 157.1L429.4 156.3L431.1 154.3L431.7 152.8L433.7 151.6L432.5 150.2L434.3 149.6L436.5 147.9L435.2 146.3L434.7 144.4L437.0 143.6L437.0 142.6L437.1 140.3L436.7 139.7L437.4 138.5L436.5 137.5L436.7 135.5L437.4 134.0L437.3 133.3L436.7 130.9L437.3 130.2L436.6 129.3L438.1 128.6L437.4 126.5L437.6 125.1L437.3 123.9L437.4 122.9L436.9 120.5L435.6 119.5L434.4 118.5L430.2 117.1ZM421.3 118.6L418.4 120.9L417.8 121.7L415.7 123.1L414.1 124.8L413.7 125.0L412.9 127.3L411.5 127.3L411.5 128.5L410.0 130.1L411.7 131.3L410.8 131.5L409.5 133.5L410.1 134.5L411.2 135.5L410.4 137.2L409.8 138.1L408.7 140.2L409.8 140.7L408.5 142.0L409.1 143.2L409.9 144.8L410.5 145.5L408.5 147.1L408.9 147.8L409.1 149.4L408.3 150.9L409.1 151.9L408.0 152.4L408.6 155.1L409.2 155.5L409.2 156.8L409.0 158.0L409.7 159.6L410.7 160.7L412.1 162.1L421.0 162.2L423.9 161.0L426.2 159.6L425.9 158.8L427.5 156.5L428.7 155.8L429.5 154.3L429.8 153.8L429.3 151.9L431.3 151.0L432.5 149.8L432.2 148.6L432.1 146.6L432.4 145.2L433.1 145.1L432.7 143.3L434.5 141.9L434.7 140.5L433.8 139.9L434.0 138.9L434.3 137.7L434.0 136.4L434.0 134.3L434.0 133.6L433.5 132.2L434.9 131.3L434.2 129.5L434.4 128.6L434.9 128.1L434.5 125.8L433.6 124.5L435.4 123.6L434.6 122.3L433.7 121.6L433.6 120.1L433.9 118.0ZM420.9 122.2L418.5 123.2L417.2 124.0L417.0 126.0L416.8 126.7L415.4 127.3L416.3 128.6L415.6 129.4L413.4 129.8L414.9 131.1L414.2 132.9L415.6 133.3L414.4 134.8L414.9 135.5L414.2 136.4L414.2 137.8L414.0 138.8L413.4 140.5L414.3 140.8L414.6 141.5L413.0 142.7L412.8 143.5L412.4 144.7L414.5 146.0L413.5 146.7L413.0 148.6L413.7 148.3L413.2 150.4L413.8 151.5L413.1 151.6L412.7 153.3L413.1 153.8L411.9 155.7L412.9 156.8L412.4 157.1L412.0 158.6L423.8 158.7L424.3 157.0L424.8 155.7L424.7 154.3L425.9 154.3L425.6 153.2L426.8 152.3L426.5 151.7L427.7 149.6L427.7 148.8L428.0 148.6L427.9 147.3L429.3 146.3L428.0 144.7L429.1 143.7L429.7 143.6L429.2 141.8L429.1 140.8L428.3 140.5L429.5 139.5L428.4 137.8L429.6 137.0L428.8 135.7L428.3 134.3L430.3 133.6L429.5 132.4L430.0 131.6L430.2 130.4L429.7 130.0L430.0 128.0L429.5 128.0L431.5 126.1L430.5 125.7L430.0 123.7L431.9 122.6L430.1 122.1Z" fill="none" stroke="#222" stroke-width="0.6100000000000001"/><path d="M443.8 128.4h0.7M444.9 126.3h0.7M437.0 156.5h0.7M398.9 138.9h0.7M439.6 126.2h0.7M441.5 122.1h0.7M405.4 157.6h0.7M444.2 131.3h0.7M398.1 138.3h0.7M399.9 155.7h0.7M446.6 133.8h0.7M425.1 163.7h0.7M437.8 157.9h0.7M434.9 157.6h0.7M398.8 139.2h0.7M433.2 155.3h0.7M445.5 131.0h0.7M398.5 142.1h0.7M442.9 135.2h0.7M404.2 123.3h0.7M399.3 136.0h0.7M441.0 149.6h0.7M442.4 118.7h0.7M440.4 122.0h0.7M408.6 125.8h0.7M418.2 117.8h0.7M420.0 163.6h0.7M443.4 134.9h0.7M441.9 144.7h0.7M444.5 148.0h0.7M439.9 121.6h0.7M398.5 146.4h0.7M439.7 143.5h0.7M441.2 151.7h0.7M439.5 117.4h0.7M445.6 135.8h0.7M433.6 154.5h0.7M396.7 147.9h0.7M402.7 158.3h0.7M403.5 151.1h0.7" fill="none" stroke="#444" stroke-width="0.7"/></g>
</g>
<rect x="83.70" y="405.78" width="18.80" height="14.22" fill="#000"/>
<clipPath id="c4"><rect x="103.00" y="406.54" width="17.80" height="13.46"/></clipPath>
<path d="M102.00 406.30L102.76 405.54M102.00 412.40L108.86 405.54M102.00 418.50L114.96 405.54M105.60 421.00L121.06 405.54M111.70 421.00L121.80 410.90M117.80 421.00L121.80 417.00M101.65 406.65l3.05 3.05M101.65 412.75l3.05 3.05M101.65 418.85l3.05 3.05M107.75 406.65l3.05 3.05M107.75 412.75l3.05 3.05M107.75 418.85l3.05 3.05M113.85 406.65l3.05 3.05M113.85 412.75l3.05 3.05M113.85 418.85l3.05 3.05M119.95 406.65l3.05 3.05M119.95 412.75l3.05 3.05M119.95 418.85l3.05 3.05" clip-path="url(#c4)" fill="none" stroke="#1c1c1c" stroke-width="1.02"/>
<rect x="103.00" y="406.54" width="17.80" height="13.46" fill="none" stroke="#111" stroke-width="1.4"/>
<rect x="137.50" y="403.47" width="19.50" height="16.53" fill="#000"/>
<clipPath id="c5"><rect x="157.50" y="388.60" width="18.30" height="31.40"/></clipPath>
<path d="M156.50 388.40L157.30 387.60M156.50 394.50L163.40 387.60M156.50 400.60L169.50 387.60M156.50 406.70L175.60 387.60M156.50 412.80L176.80 392.50M156.50 418.90L176.80 398.60M160.50 421.00L176.80 404.70M166.60 421.00L176.80 410.80M172.70 421.00L176.80 416.90M156.55 388.35l3.05 3.05M156.55 394.45l3.05 3.05M156.55 400.55l3.05 3.05M156.55 406.65l3.05 3.05M156.55 412.75l3.05 3.05M156.55 418.85l3.05 3.05M162.65 388.35l3.05 3.05M162.65 394.45l3.05 3.05M162.65 400.55l3.05 3.05M162.65 406.65l3.05 3.05M162.65 412.75l3.05 3.05M162.65 418.85l3.05 3.05M168.75 388.35l3.05 3.05M168.75 394.45l3.05 3.05M168.75 400.55l3.05 3.05M168.75 406.65l3.05 3.05M168.75 412.75l3.05 3.05M168.75 418.85l3.05 3.05M174.85 388.35l3.05 3.05M174.85 394.45l3.05 3.05M174.85 400.55l3.05 3.05M174.85 406.65l3.05 3.05M174.85 412.75l3.05 3.05M174.85 418.85l3.05 3.05" clip-path="url(#c5)" fill="none" stroke="#1c1c1c" stroke-width="1.02"/>
<rect x="157.50" y="388.60" width="18.30" height="31.40" fill="none" stroke="#111" stroke-width="1.4"/>
<rect x="194.20" y="335.15" width="18.80" height="84.85" fill="#000"/>
<clipPath id="c6"><rect x="213.50" y="296.37" width="18.00" height="123.63"/></clipPath>
<path d="M212.50 295.80L212.93 295.37M212.50 301.90L219.03 295.37M212.50 308.00L225.13 295.37M212.50 314.10L231.23 295.37M212.50 320.20L232.50 300.20M212.50 326.30L232.50 306.30M212.50 332.40L232.50 312.40M212.50 338.50L232.50 318.50M212.50 344.60L232.50 324.60M212.50 350.70L232.50 330.70M212.50 356.80L232.50 336.80M212.50 362.90L232.50 342.90M212.50 369.00L232.50 349.00M212.50 375.10L232.50 355.10M212.50 381.20L232.50 361.20M212.50 387.30L232.50 367.30M212.50 393.40L232.50 373.40M212.50 399.50L232.50 379.50M212.50 405.60L232.50 385.60M212.50 411.70L232.50 391.70M212.50 417.80L232.50 397.80M215.40 421.00L232.50 403.90M221.50 421.00L232.50 410.00M227.60 421.00L232.50 416.10M211.45 296.85l3.05 3.05M211.45 302.95l3.05 3.05M211.45 309.05l3.05 3.05M211.45 315.15l3.05 3.05M211.45 321.25l3.05 3.05M211.45 327.35l3.05 3.05M211.45 333.45l3.05 3.05M211.45 339.55l3.05 3.05M211.45 345.65l3.05 3.05M211.45 351.75l3.05 3.05M211.45 357.85l3.05 3.05M211.45 363.95l3.05 3.05M211.45 370.05l3.05 3.05M211.45 376.15l3.05 3.05M211.45 382.25l3.05 3.05M211.45 388.35l3.05 3.05M211.45 394.45l3.05 3.05M211.45 400.55l3.05 3.05M211.45 406.65l3.05 3.05M211.45 412.75l3.05 3.05M211.45 418.85l3.05 3.05M217.55 296.85l3.05 3.05M217.55 302.95l3.05 3.05M217.55 309.05l3.05 3.05M217.55 315.15l3.05 3.05M217.55 321.25l3.05 3.05M217.55 327.35l3.05 3.05M217.55 333.45l3.05 3.05M217.55 339.55l3.05 3.05M217.55 345.65l3.05 3.05M217.55 351.75l3.05 3.05M217.55 357.85l3.05 3.05M217.55 363.95l3.05 3.05M217.55 370.05l3.05 3.05M217.55 376.15l3.05 3.05M217.55 382.25l3.05 3.05M217.55 388.35l3.05 3.05M217.55 394.45l3.05 3.05M217.55 400.55l3.05 3.05M217.55 406.65l3.05 3.05M217.55 412.75l3.05 3.05M217.55 418.85l3.05 3.05M223.65 296.85l3.05 3.05M223.65 302.95l3.05 3.05M223.65 309.05l3.05 3.05M223.65 315.15l3.05 3.05M223.65 321.25l3.05 3.05M223.65 327.35l3.05 3.05M223.65 333.45l3.05 3.05M223.65 339.55l3.05 3.05M223.65 345.65l3.05 3.05M223.65 351.75l3.05 3.05M223.65 357.85l3.05 3.05M223.65 363.95l3.05 3.05M223.65 370.05l3.05 3.05M223.65 376.15l3.05 3.05M223.65 382.25l3.05 3.05M223.65 388.35l3.05 3.05M223.65 394.45l3.05 3.05M223.65 400.55l3.05 3.05M223.65 406.65l3.05 3.05M223.65 412.75l3.05 3.05M223.65 418.85l3.05 3.05M229.75 296.85l3.05 3.05M229.75 302.95l3.05 3.05M229.75 309.05l3.05 3.05M229.75 315.15l3.05 3.05M229.75 321.25l3.05 3.05M229.75 327.35l3.05 3.05M229.75 333.45l3.05 3.05M229.75 339.55l3.05 3.05M229.75 345.65l3.05 3.05M229.75 351.75l3.05 3.05M229.75 357.85l3.05 3.05M229.75 363.95l3.05 3.05M229.75 370.05l3.05 3.05M229.75 376.15l3.05 3.05M229.75 382.25l3.05 3.05M229.75 388.35l3.05 3.05M229.75 394.45l3.05 3.05M229.75 400.55l3.05 3.05M229.75 406.65l3.05 3.05M229.75 412.75l3.05 3.05M229.75 418.85l3.05 3.05" clip-path="url(#c6)" fill="none" stroke="#1c1c1c" stroke-width="1.02"/>
<rect x="213.50" y="296.37" width="18.00" height="123.63" fill="none" stroke="#111" stroke-width="1.4"/>
<line x1="93" y1="405" x2="93" y2="406.5" stroke="#111" stroke-width="1.2" stroke-linecap="butt"/>
<line x1="91.1" y1="405" x2="94.9" y2="405" stroke="#111" stroke-width="1.2" stroke-linecap="butt"/>
<line x1="91.1" y1="406.5" x2="94.9" y2="406.5" stroke="#111" stroke-width="1.2" stroke-linecap="butt"/>
<line x1="112" y1="405.3" x2="112" y2="406.8" stroke="#111" stroke-width="1.2" stroke-linecap="butt"/>
<line x1="110.1" y1="405.3" x2="113.9" y2="405.3" stroke="#111" stroke-width="1.2" stroke-linecap="butt"/>
<line x1="110.1" y1="406.8" x2="113.9" y2="406.8" stroke="#111" stroke-width="1.2" stroke-linecap="butt"/>
<line x1="147" y1="401.7" x2="147" y2="405" stroke="#111" stroke-width="1.2" stroke-linecap="butt"/>
<line x1="145.1" y1="401.7" x2="148.9" y2="401.7" stroke="#111" stroke-width="1.2" stroke-linecap="butt"/>
<line x1="145.1" y1="405" x2="148.9" y2="405" stroke="#111" stroke-width="1.2" stroke-linecap="butt"/>
<line x1="166.7" y1="385.5" x2="166.7" y2="392" stroke="#111" stroke-width="1.2" stroke-linecap="butt"/>
<line x1="164.79999999999998" y1="385.5" x2="168.6" y2="385.5" stroke="#111" stroke-width="1.2" stroke-linecap="butt"/>
<line x1="164.79999999999998" y1="392" x2="168.6" y2="392" stroke="#111" stroke-width="1.2" stroke-linecap="butt"/>
<line x1="204.5" y1="320.5" x2="204.5" y2="349" stroke="#111" stroke-width="1.2" stroke-linecap="butt"/>
<line x1="202.6" y1="320.5" x2="206.4" y2="320.5" stroke="#111" stroke-width="1.2" stroke-linecap="butt"/>
<line x1="202.6" y1="349" x2="206.4" y2="349" stroke="#111" stroke-width="1.2" stroke-linecap="butt"/>
<line x1="222.3" y1="288.7" x2="222.3" y2="304" stroke="#111" stroke-width="1.2" stroke-linecap="butt"/>
<line x1="220.4" y1="288.7" x2="224.20000000000002" y2="288.7" stroke="#111" stroke-width="1.2" stroke-linecap="butt"/>
<line x1="220.4" y1="304" x2="224.20000000000002" y2="304" stroke="#111" stroke-width="1.2" stroke-linecap="butt"/>
<rect x="72.50" y="249.50" width="168.30" height="170.50" fill="none" stroke="#1a1a1a" stroke-width="1.5"/>
<line x1="72.5" y1="377.0" x2="76.3" y2="377.0" stroke="#111" stroke-width="1.2" stroke-linecap="butt"/>
<line x1="72.5" y1="334.3" x2="76.3" y2="334.3" stroke="#111" stroke-width="1.2" stroke-linecap="butt"/>
<line x1="72.5" y1="291.6" x2="76.3" y2="291.6" stroke="#111" stroke-width="1.2" stroke-linecap="butt"/>
<text transform="translate(63.12 422.86) scale(0.93 1)" font-size="10.5" fill="#222" stroke="#222" stroke-width="0.15">0</text>
<text transform="translate(57.70 380.16) scale(0.93 1)" font-size="10.5" fill="#222" stroke="#222" stroke-width="0.15">50</text>
<text transform="translate(52.28 337.46) scale(0.93 1)" font-size="10.5" fill="#222" stroke="#222" stroke-width="0.15">100</text>
<text transform="translate(52.28 294.76) scale(0.93 1)" font-size="10.5" fill="#222" stroke="#222" stroke-width="0.15">150</text>
<text transform="translate(52.28 252.06) scale(0.93 1)" font-size="10.5" fill="#222" stroke="#222" stroke-width="0.15">200</text>
<rect x="81.00" y="256.00" width="111.50" height="36.60" fill="#fff" stroke="#111" stroke-width="1.4"/>
<rect x="84.50" y="262.00" width="8.80" height="7.80" fill="#000" stroke="none" stroke-width="1"/>
<clipPath id="c7"><rect x="85.45" y="277.85" width="7.20" height="8.20"/></clipPath>
<path d="M84.45 277.45L85.05 276.85M84.45 283.55L91.15 276.85M87.05 287.05L93.65 280.45M93.15 287.05L93.65 286.55M83.35 278.55l3.05 3.05M83.35 284.65l3.05 3.05M89.45 278.55l3.05 3.05M89.45 284.65l3.05 3.05" clip-path="url(#c7)" fill="none" stroke="#1c1c1c" stroke-width="1.02"/>
<rect x="85.45" y="277.85" width="7.20" height="8.20" fill="none" stroke="#111" stroke-width="1.3"/>
<text x="98.89" y="270.30" font-size="12.17" fill="#111" stroke="#111" stroke-width="0.25">Control shRNA</text>
<text x="98.21" y="285.70" font-size="12.32" fill="#111" stroke="#111" stroke-width="0.25">α-actinin shRNA</text>
<path d="M201.7 287.5V278.7H222.5V283.7" fill="none" stroke="#1a1a1a" stroke-width="1.25"/>
<text x="210.7" y="275.8" font-size="12.5" text-anchor="middle" fill="#444" font-family="DejaVu Sans, sans-serif">*</text>
<path d="M145.7 383.7V375.5H167V380" fill="none" stroke="#1a1a1a" stroke-width="1.25"/>
<text x="155.5" y="373.8" font-size="12.5" text-anchor="middle" fill="#444" font-family="DejaVu Sans, sans-serif">*</text>
<text x="127.59" y="241.25" font-size="14.46" fill="#111" stroke="#111" stroke-width="0.25">Red high</text>
<text x="85.01" y="436.50" font-size="12.35" fill="#111" stroke="#111" stroke-width="0.25">EDTA</text>
<text x="124.42" y="436.50" font-size="12.23" fill="#111" stroke="#111" stroke-width="0.25">No additive</text>
<text x="196.72" y="436.50" font-size="12.27" fill="#111" stroke="#111" stroke-width="0.25">PAR1-AP</text>
<text transform="translate(31.30 386.57) rotate(-90)" font-size="14.35" fill="#111" stroke="#111" stroke-width="0.25">αIIbβ3 activation</text>
<text transform="translate(48.60 408.54) rotate(-90)" font-size="14.03" fill="#111" stroke="#111" stroke-width="0.25">( PAC-1 bound / 3min )</text>
<rect x="329.50" y="407.27" width="18.00" height="14.73" fill="#000"/>
<clipPath id="c8"><rect x="348.00" y="410.60" width="17.80" height="11.40"/></clipPath>
<path d="M347.00 411.40L348.80 409.60M347.00 417.50L354.90 409.60M347.60 423.00L361.00 409.60M353.70 423.00L366.80 409.90M359.80 423.00L366.80 416.00M365.90 423.00L366.80 422.10M345.65 406.65l3.05 3.05M345.65 412.75l3.05 3.05M345.65 418.85l3.05 3.05M351.75 406.65l3.05 3.05M351.75 412.75l3.05 3.05M351.75 418.85l3.05 3.05M357.85 406.65l3.05 3.05M357.85 412.75l3.05 3.05M357.85 418.85l3.05 3.05M363.95 406.65l3.05 3.05M363.95 412.75l3.05 3.05M363.95 418.85l3.05 3.05" clip-path="url(#c8)" fill="none" stroke="#1c1c1c" stroke-width="1.02"/>
<rect x="348.00" y="410.60" width="17.80" height="11.40" fill="none" stroke="#111" stroke-width="1.4"/>
<rect x="383.70" y="404.43" width="18.30" height="17.57" fill="#000"/>
<clipPath id="c9"><rect x="402.50" y="400.06" width="17.50" height="21.94"/></clipPath>
<path d="M401.50 399.60L402.04 399.06M401.50 405.70L408.14 399.06M401.50 411.80L414.24 399.06M401.50 417.90L420.34 399.06M402.50 423.00L421.00 404.50M408.60 423.00L421.00 410.60M414.70 423.00L421.00 416.70M420.80 423.00L421.00 422.80M400.55 400.55l3.05 3.05M400.55 406.65l3.05 3.05M400.55 412.75l3.05 3.05M400.55 418.85l3.05 3.05M406.65 400.55l3.05 3.05M406.65 406.65l3.05 3.05M406.65 412.75l3.05 3.05M406.65 418.85l3.05 3.05M412.75 400.55l3.05 3.05M412.75 406.65l3.05 3.05M412.75 412.75l3.05 3.05M412.75 418.85l3.05 3.05M418.85 400.55l3.05 3.05M418.85 406.65l3.05 3.05M418.85 412.75l3.05 3.05M418.85 418.85l3.05 3.05" clip-path="url(#c9)" fill="none" stroke="#1c1c1c" stroke-width="1.02"/>
<rect x="402.50" y="400.06" width="17.50" height="21.94" fill="none" stroke="#111" stroke-width="1.4"/>
<rect x="438.20" y="355.70" width="18.10" height="66.30" fill="#000"/>
<clipPath id="c10"><rect x="456.80" y="343.74" width="18.20" height="78.26"/></clipPath>
<path d="M455.80 345.30L458.36 342.74M455.80 351.40L464.46 342.74M455.80 357.50L470.56 342.74M455.80 363.60L476.00 343.40M455.80 369.70L476.00 349.50M455.80 375.80L476.00 355.60M455.80 381.90L476.00 361.70M455.80 388.00L476.00 367.80M455.80 394.10L476.00 373.90M455.80 400.20L476.00 380.00M455.80 406.30L476.00 386.10M455.80 412.40L476.00 392.20M455.80 418.50L476.00 398.30M457.40 423.00L476.00 404.40M463.50 423.00L476.00 410.50M469.60 423.00L476.00 416.60M475.70 423.00L476.00 422.70M455.45 345.65l3.05 3.05M455.45 351.75l3.05 3.05M455.45 357.85l3.05 3.05M455.45 363.95l3.05 3.05M455.45 370.05l3.05 3.05M455.45 376.15l3.05 3.05M455.45 382.25l3.05 3.05M455.45 388.35l3.05 3.05M455.45 394.45l3.05 3.05M455.45 400.55l3.05 3.05M455.45 406.65l3.05 3.05M455.45 412.75l3.05 3.05M455.45 418.85l3.05 3.05M461.55 345.65l3.05 3.05M461.55 351.75l3.05 3.05M461.55 357.85l3.05 3.05M461.55 363.95l3.05 3.05M461.55 370.05l3.05 3.05M461.55 376.15l3.05 3.05M461.55 382.25l3.05 3.05M461.55 388.35l3.05 3.05M461.55 394.45l3.05 3.05M461.55 400.55l3.05 3.05M461.55 406.65l3.05 3.05M461.55 412.75l3.05 3.05M461.55 418.85l3.05 3.05M467.65 345.65l3.05 3.05M467.65 351.75l3.05 3.05M467.65 357.85l3.05 3.05M467.65 363.95l3.05 3.05M467.65 370.05l3.05 3.05M467.65 376.15l3.05 3.05M467.65 382.25l3.05 3.05M467.65 388.35l3.05 3.05M467.65 394.45l3.05 3.05M467.65 400.55l3.05 3.05M467.65 406.65l3.05 3.05M467.65 412.75l3.05 3.05M467.65 418.85l3.05 3.05M473.75 345.65l3.05 3.05M473.75 351.75l3.05 3.05M473.75 357.85l3.05 3.05M473.75 363.95l3.05 3.05M473.75 370.05l3.05 3.05M473.75 376.15l3.05 3.05M473.75 382.25l3.05 3.05M473.75 388.35l3.05 3.05M473.75 394.45l3.05 3.05M473.75 400.55l3.05 3.05M473.75 406.65l3.05 3.05M473.75 412.75l3.05 3.05M473.75 418.85l3.05 3.05" clip-path="url(#c10)" fill="none" stroke="#1c1c1c" stroke-width="1.02"/>
<rect x="456.80" y="343.74" width="18.20" height="78.26" fill="none" stroke="#111" stroke-width="1.4"/>
<line x1="338.5" y1="406" x2="338.5" y2="407.5" stroke="#111" stroke-width="1.2" stroke-linecap="butt"/>
<line x1="336.6" y1="406" x2="340.4" y2="406" stroke="#111" stroke-width="1.2" stroke-linecap="butt"/>
<line x1="336.6" y1="407.5" x2="340.4" y2="407.5" stroke="#111" stroke-width="1.2" stroke-linecap="butt"/>
<line x1="357" y1="408.7" x2="357" y2="410.5" stroke="#111" stroke-width="1.2" stroke-linecap="butt"/>
<line x1="355.1" y1="408.7" x2="358.9" y2="408.7" stroke="#111" stroke-width="1.2" stroke-linecap="butt"/>
<line x1="355.1" y1="410.5" x2="358.9" y2="410.5" stroke="#111" stroke-width="1.2" stroke-linecap="butt"/>
<line x1="393" y1="402" x2="393" y2="405" stroke="#111" stroke-width="1.2" stroke-linecap="butt"/>
<line x1="391.1" y1="402" x2="394.9" y2="402" stroke="#111" stroke-width="1.2" stroke-linecap="butt"/>
<line x1="391.1" y1="405" x2="394.9" y2="405" stroke="#111" stroke-width="1.2" stroke-linecap="butt"/>
<line x1="411.3" y1="395.5" x2="411.3" y2="403.7" stroke="#111" stroke-width="1.2" stroke-linecap="butt"/>
<line x1="409.40000000000003" y1="395.5" x2="413.2" y2="395.5" stroke="#111" stroke-width="1.2" stroke-linecap="butt"/>
<line x1="409.40000000000003" y1="403.7" x2="413.2" y2="403.7" stroke="#111" stroke-width="1.2" stroke-linecap="butt"/>
<line x1="447" y1="335.5" x2="447" y2="357" stroke="#111" stroke-width="1.2" stroke-linecap="butt"/>
<line x1="445.1" y1="335.5" x2="448.9" y2="335.5" stroke="#111" stroke-width="1.2" stroke-linecap="butt"/>
<line x1="445.1" y1="357" x2="448.9" y2="357" stroke="#111" stroke-width="1.2" stroke-linecap="butt"/>
<line x1="465.7" y1="333.7" x2="465.7" y2="352" stroke="#111" stroke-width="1.2" stroke-linecap="butt"/>
<line x1="463.8" y1="333.7" x2="467.59999999999997" y2="333.7" stroke="#111" stroke-width="1.2" stroke-linecap="butt"/>
<line x1="463.8" y1="352" x2="467.59999999999997" y2="352" stroke="#111" stroke-width="1.2" stroke-linecap="butt"/>
<rect x="316.70" y="251.80" width="168.30" height="170.20" fill="none" stroke="#1a1a1a" stroke-width="1.5"/>
<line x1="316.7" y1="365.335" x2="320.5" y2="365.335" stroke="#111" stroke-width="1.2" stroke-linecap="butt"/>
<line x1="316.7" y1="308.67" x2="320.5" y2="308.67" stroke="#111" stroke-width="1.2" stroke-linecap="butt"/>
<text transform="translate(308.12 425.16) scale(0.93 1)" font-size="10.5" fill="#222" stroke="#222" stroke-width="0.15">0</text>
<text transform="translate(302.70 368.49) scale(0.93 1)" font-size="10.5" fill="#222" stroke="#222" stroke-width="0.15">50</text>
<text transform="translate(297.28 311.83) scale(0.93 1)" font-size="10.5" fill="#222" stroke="#222" stroke-width="0.15">100</text>
<text transform="translate(297.28 255.16) scale(0.93 1)" font-size="10.5" fill="#222" stroke="#222" stroke-width="0.15">150</text>
<rect x="326.70" y="258.40" width="111.60" height="36.60" fill="#fff" stroke="#111" stroke-width="1.4"/>
<rect x="330.00" y="264.10" width="9.10" height="7.80" fill="#000" stroke="none" stroke-width="1"/>
<clipPath id="c11"><rect x="330.85" y="280.15" width="7.60" height="8.30"/></clipPath>
<path d="M329.85 282.15L332.85 279.15M329.85 288.25L338.95 279.15M334.75 289.45L339.45 284.75M327.35 278.55l3.05 3.05M327.35 284.65l3.05 3.05M333.45 278.55l3.05 3.05M333.45 284.65l3.05 3.05" clip-path="url(#c11)" fill="none" stroke="#1c1c1c" stroke-width="1.02"/>
<rect x="330.85" y="280.15" width="7.60" height="8.30" fill="none" stroke="#111" stroke-width="1.3"/>
<text x="344.39" y="273.00" font-size="12.21" fill="#111" stroke="#111" stroke-width="0.25">Control shRNA</text>
<text x="344.01" y="288.50" font-size="12.32" fill="#111" stroke="#111" stroke-width="0.25">α-actinin shRNA</text>
<text x="370.10" y="243.25" font-size="14.36" fill="#111" stroke="#111" stroke-width="0.25">Red low</text>
<text x="329.82" y="438.50" font-size="12.23" fill="#111" stroke="#111" stroke-width="0.25">EDTA</text>
<text x="369.02" y="438.50" font-size="12.31" fill="#111" stroke="#111" stroke-width="0.25">No additive</text>
<text x="441.33" y="438.50" font-size="12.07" fill="#111" stroke="#111" stroke-width="0.25">PAR1-AP</text>
<text transform="translate(276.30 390.07) rotate(-90)" font-size="14.34" fill="#111" stroke="#111" stroke-width="0.25">αIIbβ3 activation</text>
<text transform="translate(292.80 411.84) rotate(-90)" font-size="14.04" fill="#111" stroke="#111" stroke-width="0.25">( PAC-1 bound / 3min )</text>
<rect x="131.20" y="628.72" width="26.30" height="11.68" fill="#000"/>
<clipPath id="c12"><rect x="158.00" y="628.37" width="25.70" height="12.03"/></clipPath>
<rect x="158.00" y="628.37" width="25.70" height="12.03" fill="url(#hatch)"/>
<rect x="158.00" y="628.37" width="25.70" height="12.03" fill="none" stroke="#111" stroke-width="1.4"/>
<rect x="184.70" y="629.22" width="25.50" height="11.18" fill="#c4c4c4" stroke="#111" stroke-width="1.1"/>
<rect x="236.20" y="617.47" width="27.00" height="22.93" fill="#000"/>
<clipPath id="c13"><rect x="263.70" y="625.95" width="25.30" height="14.45"/></clipPath>
<rect x="263.70" y="625.95" width="25.30" height="14.45" fill="url(#hatch)"/>
<rect x="263.70" y="625.95" width="25.30" height="14.45" fill="none" stroke="#111" stroke-width="1.4"/>
<rect x="290.00" y="622.96" width="26.20" height="17.44" fill="#c4c4c4" stroke="#111" stroke-width="1.1"/>
<rect x="342.00" y="493.28" width="27.50" height="147.12" fill="#000"/>
<clipPath id="c14"><rect x="370.00" y="529.81" width="25.00" height="110.59"/></clipPath>
<rect x="370.00" y="529.81" width="25.00" height="110.59" fill="url(#hatch)"/>
<rect x="370.00" y="529.81" width="25.00" height="110.59" fill="none" stroke="#111" stroke-width="1.4"/>
<rect x="396.00" y="492.50" width="26.50" height="147.90" fill="#c4c4c4" stroke="#111" stroke-width="1.1"/>
<line x1="144" y1="627.9" x2="144" y2="628.8" stroke="#111" stroke-width="0.9" stroke-linecap="butt"/>
<line x1="141.4" y1="627.9" x2="146.6" y2="627.9" stroke="#111" stroke-width="0.9" stroke-linecap="butt"/>
<line x1="141.4" y1="628.8" x2="146.6" y2="628.8" stroke="#111" stroke-width="0.9" stroke-linecap="butt"/>
<line x1="171" y1="627.3" x2="171" y2="628.5" stroke="#111" stroke-width="0.9" stroke-linecap="butt"/>
<line x1="168.4" y1="627.3" x2="173.6" y2="627.3" stroke="#111" stroke-width="0.9" stroke-linecap="butt"/>
<line x1="168.4" y1="628.5" x2="173.6" y2="628.5" stroke="#111" stroke-width="0.9" stroke-linecap="butt"/>
<line x1="197.5" y1="627.9" x2="197.5" y2="629" stroke="#111" stroke-width="0.9" stroke-linecap="butt"/>
<line x1="194.9" y1="627.9" x2="200.1" y2="627.9" stroke="#111" stroke-width="0.9" stroke-linecap="butt"/>
<line x1="194.9" y1="629" x2="200.1" y2="629" stroke="#111" stroke-width="0.9" stroke-linecap="butt"/>
<line x1="249.5" y1="616.9" x2="249.5" y2="617.7" stroke="#111" stroke-width="0.9" stroke-linecap="butt"/>
<line x1="246.9" y1="616.9" x2="252.1" y2="616.9" stroke="#111" stroke-width="0.9" stroke-linecap="butt"/>
<line x1="246.9" y1="617.7" x2="252.1" y2="617.7" stroke="#111" stroke-width="0.9" stroke-linecap="butt"/>
<line x1="276.3" y1="624.9" x2="276.3" y2="626" stroke="#111" stroke-width="0.9" stroke-linecap="butt"/>
<line x1="273.7" y1="624.9" x2="278.90000000000003" y2="624.9" stroke="#111" stroke-width="0.9" stroke-linecap="butt"/>
<line x1="273.7" y1="626" x2="278.90000000000003" y2="626" stroke="#111" stroke-width="0.9" stroke-linecap="butt"/>
<line x1="303.2" y1="620.7" x2="303.2" y2="624" stroke="#111" stroke-width="1.35" stroke-linecap="butt"/>
<line x1="300.09999999999997" y1="620.7" x2="306.3" y2="620.7" stroke="#111" stroke-width="1.35" stroke-linecap="butt"/>
<line x1="300.09999999999997" y1="624" x2="306.3" y2="624" stroke="#111" stroke-width="1.35" stroke-linecap="butt"/>
<line x1="356.7" y1="485.7" x2="356.7" y2="500" stroke="#111" stroke-width="1.35" stroke-linecap="butt"/>
<line x1="353.59999999999997" y1="485.7" x2="359.8" y2="485.7" stroke="#111" stroke-width="1.35" stroke-linecap="butt"/>
<line x1="353.59999999999997" y1="500" x2="359.8" y2="500" stroke="#111" stroke-width="1.35" stroke-linecap="butt"/>
<line x1="382.5" y1="522.5" x2="382.5" y2="537" stroke="#111" stroke-width="1.35" stroke-linecap="butt"/>
<line x1="379.4" y1="522.5" x2="385.6" y2="522.5" stroke="#111" stroke-width="1.35" stroke-linecap="butt"/>
<line x1="379.4" y1="537" x2="385.6" y2="537" stroke="#111" stroke-width="1.35" stroke-linecap="butt"/>
<line x1="409.2" y1="487" x2="409.2" y2="496.3" stroke="#111" stroke-width="1.35" stroke-linecap="butt"/>
<line x1="406.09999999999997" y1="487" x2="412.3" y2="487" stroke="#111" stroke-width="1.35" stroke-linecap="butt"/>
<line x1="406.09999999999997" y1="496.3" x2="412.3" y2="496.3" stroke="#111" stroke-width="1.35" stroke-linecap="butt"/>
<rect x="113.10" y="461.00" width="328.20" height="179.40" fill="none" stroke="#1a1a1a" stroke-width="1.5"/>
<line x1="113.1" y1="583.4333333333333" x2="116.89999999999999" y2="583.4333333333333" stroke="#111" stroke-width="1.2" stroke-linecap="butt"/>
<line x1="113.1" y1="526.4666666666667" x2="116.89999999999999" y2="526.4666666666667" stroke="#111" stroke-width="1.2" stroke-linecap="butt"/>
<line x1="113.1" y1="469.5" x2="116.89999999999999" y2="469.5" stroke="#111" stroke-width="1.2" stroke-linecap="butt"/>
<text transform="translate(99.52 643.56) scale(0.93 1)" font-size="10.5" fill="#222" stroke="#222" stroke-width="0.15">0</text>
<text transform="translate(94.10 586.59) scale(0.93 1)" font-size="10.5" fill="#222" stroke="#222" stroke-width="0.15">40</text>
<text transform="translate(94.10 529.63) scale(0.93 1)" font-size="10.5" fill="#222" stroke="#222" stroke-width="0.15">80</text>
<text transform="translate(88.68 472.66) scale(0.93 1)" font-size="10.5" fill="#222" stroke="#222" stroke-width="0.15">120</text>
<rect x="134.40" y="472.30" width="100.70" height="50.80" fill="#fff" stroke="#111" stroke-width="1.3"/>
<rect x="137.70" y="478.20" width="9.30" height="7.90" fill="#000" stroke="none" stroke-width="1"/>
<clipPath id="c15"><rect x="138.60" y="493.10" width="7.80" height="6.50"/></clipPath>
<rect x="138.60" y="493.10" width="7.80" height="6.50" fill="url(#hatch)"/>
<rect x="138.60" y="493.10" width="7.80" height="6.50" fill="none" stroke="#111" stroke-width="1.2"/>
<rect x="138.60" y="507.60" width="7.80" height="6.50" fill="#d2d2d2" stroke="#333" stroke-width="1.2"/>
<text x="152.02" y="486.75" font-size="12.23" fill="#111" stroke="#111" stroke-width="0.25">Mock</text>
<text x="152.22" y="501.25" font-size="11.95" fill="#111" stroke="#111" stroke-width="0.25">α-actinin-WT</text>
<text x="152.21" y="515.50" font-size="12.19" fill="#111" stroke="#111" stroke-width="0.25">α-actinin-Y12F</text>
<path d="M248.7 609.5V604.2H274.2V613" fill="none" stroke="#1a1a1a" stroke-width="1.25"/>
<text x="260.5" y="604.5" font-size="12.5" text-anchor="middle" fill="#444" font-family="DejaVu Sans, sans-serif">*</text>
<path d="M355.7 480.5V475.7H381.2V483.7" fill="none" stroke="#1a1a1a" stroke-width="1.25"/>
<text x="367.5" y="475.8" font-size="12.5" text-anchor="middle" fill="#444" font-family="DejaVu Sans, sans-serif">*</text>
<text x="155.99" y="657.00" font-size="12.65" fill="#111" stroke="#111" stroke-width="0.25">EDTA</text>
<text x="252.02" y="657.00" font-size="12.21" fill="#111" stroke="#111" stroke-width="0.25">No additive</text>
<text x="355.23" y="657.00" font-size="12.70" fill="#111" stroke="#111" stroke-width="0.25">PAR1-AP</text>
<text transform="translate(69.40 605.57) rotate(-90)" font-size="14.31" fill="#111" stroke="#111" stroke-width="0.25">αIIbβ3 activation</text>
<text transform="translate(86.60 626.24) rotate(-90)" font-size="14.04" fill="#111" stroke="#111" stroke-width="0.25">( PAC-1 bound / 3min )</text>
</svg></body></html>
